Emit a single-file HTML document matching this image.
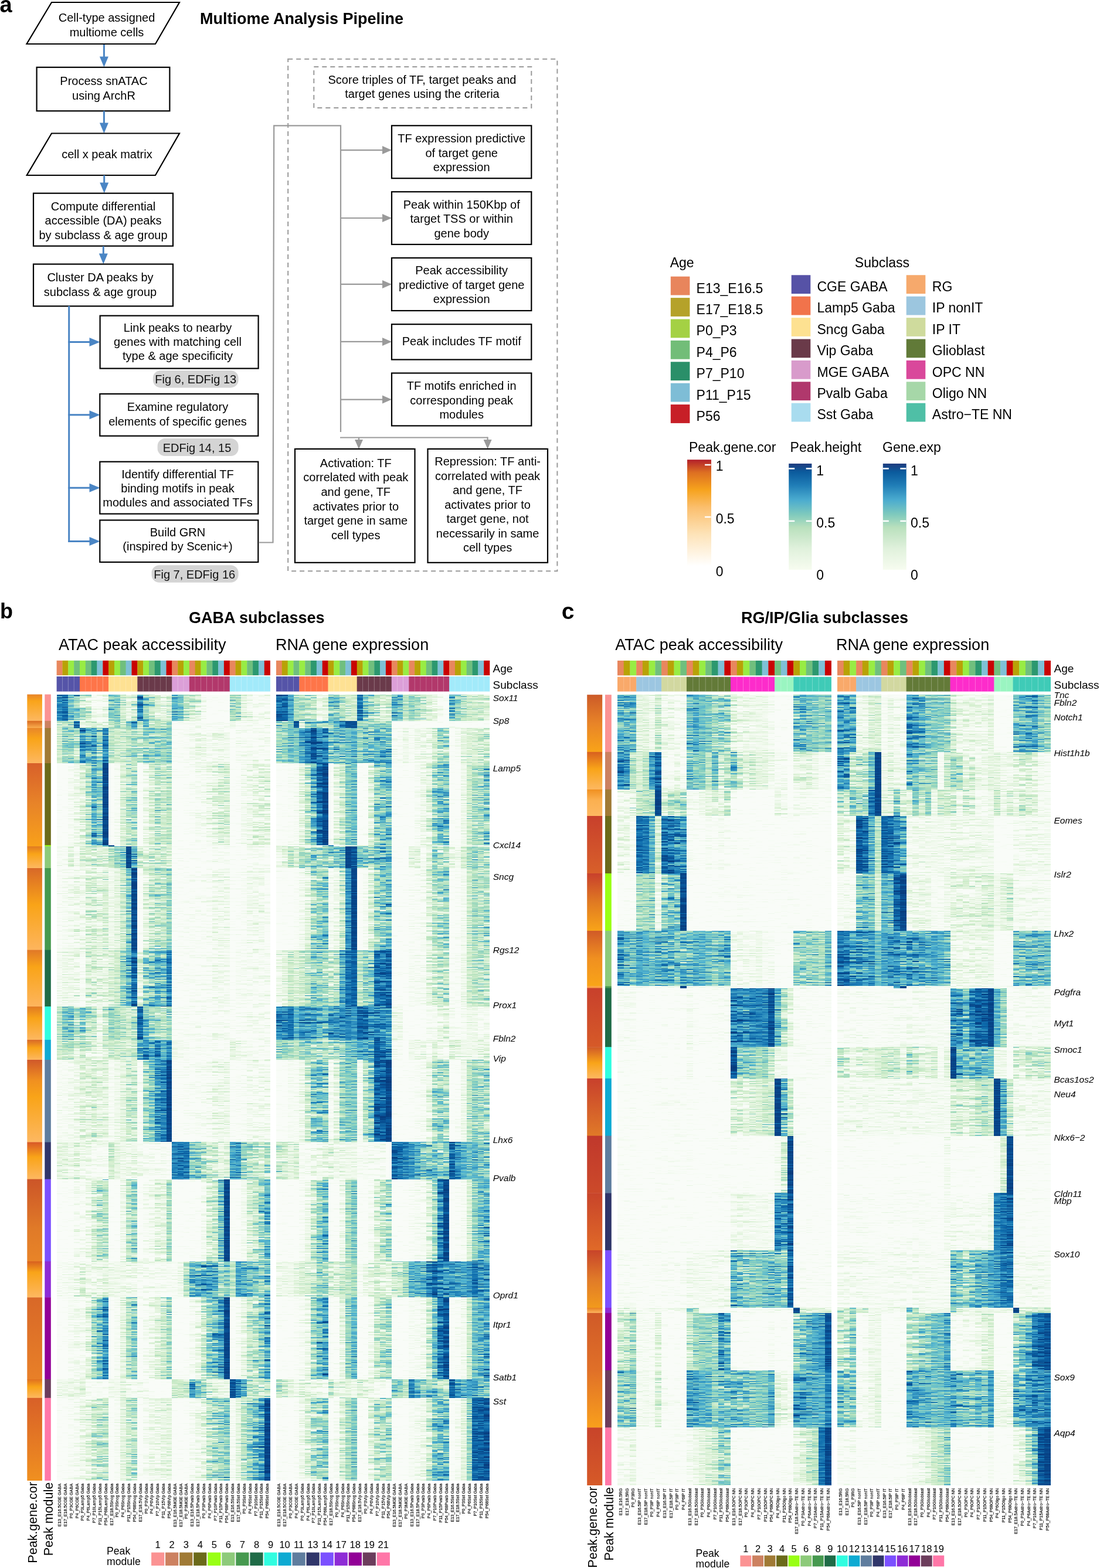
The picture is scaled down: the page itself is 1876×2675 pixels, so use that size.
<!DOCTYPE html>
<html><head><meta charset="utf-8"><title>Multiome Analysis Pipeline</title><style>html,body{margin:0;padding:0;background:#fff}svg{display:block}</style></head><body>
<svg xmlns="http://www.w3.org/2000/svg" width="1876" height="2675" viewBox="0 0 1876 2675" font-family="'Liberation Sans', Arial, Helvetica, sans-serif">
<rect width="1876" height="2675" fill="#fff"/>
<text x="-0.5" y="21.3" font-size="38" font-weight="bold" fill="#000">a</text>
<text x="341" y="40.5" font-size="27" font-weight="bold" fill="#000">Multiome Analysis Pipeline</text>
<polygon points="88,4 306,4 265,75 45.5,75" fill="none" stroke="#000" stroke-width="2.2"/>
<text x="182" y="37" font-size="20" text-anchor="middle" fill="#000">Cell-type assigned</text>
<text x="182" y="61.6" font-size="20" text-anchor="middle" fill="#000">multiome cells</text>
<line x1="177.4" y1="76" x2="177.4" y2="98.5" stroke="#4a85c4" stroke-width="3"/>
<polygon points="169.9,96.5 184.9,96.5 177.4,114.5" fill="#4a85c4"/>
<rect x="62.6" y="114.8" width="226.8" height="74.5" fill="none" stroke="#000" stroke-width="2.2"/>
<text x="177" y="145" font-size="20" text-anchor="middle" fill="#000">Process snATAC</text>
<text x="177" y="170" font-size="20" text-anchor="middle" fill="#000">using ArchR</text>
<line x1="177.4" y1="189.3" x2="177.4" y2="211.5" stroke="#4a85c4" stroke-width="3"/>
<polygon points="169.9,209.5 184.9,209.5 177.4,227.5" fill="#4a85c4"/>
<polygon points="88,227.5 306,227.5 265,299 45.7,299" fill="none" stroke="#000" stroke-width="2.2"/>
<text x="182.4" y="270" font-size="20" text-anchor="middle" fill="#000">cell x peak matrix</text>
<line x1="177.7" y1="299" x2="177.7" y2="313.5" stroke="#4a85c4" stroke-width="3"/>
<polygon points="170.2,311.5 185.2,311.5 177.7,329.5" fill="#4a85c4"/>
<rect x="57.0" y="329.7" width="238.0" height="90.0" fill="none" stroke="#000" stroke-width="2.2"/>
<text x="176" y="358.6" font-size="20" text-anchor="middle" fill="#000">Compute differential</text>
<text x="176" y="383" font-size="20" text-anchor="middle" fill="#000">accessible (DA) peaks</text>
<text x="176" y="407.5" font-size="20" text-anchor="middle" fill="#000">by subclass &amp; age group</text>
<line x1="176.3" y1="420" x2="176.3" y2="434.5" stroke="#4a85c4" stroke-width="3"/>
<polygon points="168.8,432.5 183.8,432.5 176.3,450.5" fill="#4a85c4"/>
<rect x="57.0" y="450.6" width="238.0" height="71.7" fill="none" stroke="#000" stroke-width="2.2"/>
<text x="171" y="480" font-size="20" text-anchor="middle" fill="#000">Cluster DA peaks by</text>
<text x="171" y="504.5" font-size="20" text-anchor="middle" fill="#000">subclass &amp; age group</text>
<line x1="117.7" y1="522" x2="117.7" y2="924.9" stroke="#4a85c4" stroke-width="3"/>
<line x1="116.2" y1="583.4" x2="154.5" y2="583.4" stroke="#4a85c4" stroke-width="3"/>
<polygon points="152.5,575.9 152.5,590.9 170.5,583.4" fill="#4a85c4"/>
<line x1="116.2" y1="707.7" x2="154.5" y2="707.7" stroke="#4a85c4" stroke-width="3"/>
<polygon points="152.5,700.2 152.5,715.2 170.5,707.7" fill="#4a85c4"/>
<line x1="116.2" y1="832.3" x2="154.5" y2="832.3" stroke="#4a85c4" stroke-width="3"/>
<polygon points="152.5,824.8 152.5,839.8 170.5,832.3" fill="#4a85c4"/>
<line x1="116.2" y1="923.4" x2="154.5" y2="923.4" stroke="#4a85c4" stroke-width="3"/>
<polygon points="152.5,915.9 152.5,930.9 170.5,923.4" fill="#4a85c4"/>
<rect x="170.6" y="538.6" width="270.0" height="90.0" fill="none" stroke="#000" stroke-width="2.2"/>
<text x="303" y="565.7" font-size="20" text-anchor="middle" fill="#000">Link peaks to nearby</text>
<text x="303" y="589.8" font-size="20" text-anchor="middle" fill="#000">genes with matching cell</text>
<text x="303" y="613.9" font-size="20" text-anchor="middle" fill="#000">type &amp; age specificity</text>
<rect x="170.3" y="672.0" width="270.0" height="71.7" fill="none" stroke="#000" stroke-width="2.2"/>
<text x="303" y="701.4" font-size="20" text-anchor="middle" fill="#000">Examine regulatory</text>
<text x="303" y="725.7" font-size="20" text-anchor="middle" fill="#000">elements of specific genes</text>
<rect x="170.3" y="787.7" width="270.0" height="88.9" fill="none" stroke="#000" stroke-width="2.2"/>
<text x="303" y="815.7" font-size="20" text-anchor="middle" fill="#000">Identify differential TF</text>
<text x="303" y="840" font-size="20" text-anchor="middle" fill="#000">binding motifs in peak</text>
<text x="303" y="864.3" font-size="20" text-anchor="middle" fill="#000">modules and associated TFs</text>
<rect x="170.3" y="887.4" width="270.0" height="71.6" fill="none" stroke="#000" stroke-width="2.2"/>
<text x="303" y="915" font-size="20" text-anchor="middle" fill="#000">Build GRN</text>
<text x="303" y="939.4" font-size="20" text-anchor="middle" fill="#000">(inspired by Scenic+)</text>
<rect x="260.9" y="632" width="145.7" height="29.4" rx="13" fill="#d4d4d4"/>
<text x="333.7" y="654" font-size="20" text-anchor="middle" fill="#111">Fig 6, EDFig 13</text>
<rect x="268.6" y="748" width="138.0" height="30.0" rx="13" fill="#d4d4d4"/>
<text x="336" y="770.6" font-size="20" text-anchor="middle" fill="#111">EDFig 14, 15</text>
<rect x="258.6" y="964.3" width="148.0" height="29.4" rx="13" fill="#d4d4d4"/>
<text x="331.7" y="986.6" font-size="20" text-anchor="middle" fill="#111">Fig 7, EDFig 16</text>
<polyline points="441.3,925.5 465.5,925.5 467.2,214.3 581,214.3 581,737" fill="none" stroke="#9a9a9a" stroke-width="2.2"/>
<line x1="581" y1="256.1" x2="654" y2="256.1" stroke="#9a9a9a" stroke-width="2.2"/>
<polygon points="652,249.10000000000002 652,263.1 668,256.1" fill="#9a9a9a"/>
<line x1="581" y1="372" x2="654" y2="372" stroke="#9a9a9a" stroke-width="2.2"/>
<polygon points="652,365 652,379 668,372" fill="#9a9a9a"/>
<line x1="581" y1="484.9" x2="654" y2="484.9" stroke="#9a9a9a" stroke-width="2.2"/>
<polygon points="652,477.9 652,491.9 668,484.9" fill="#9a9a9a"/>
<line x1="581" y1="582.9" x2="654" y2="582.9" stroke="#9a9a9a" stroke-width="2.2"/>
<polygon points="652,575.9 652,589.9 668,582.9" fill="#9a9a9a"/>
<line x1="581" y1="681.6" x2="654" y2="681.6" stroke="#9a9a9a" stroke-width="2.2"/>
<polygon points="652,674.6 652,688.6 668,681.6" fill="#9a9a9a"/>
<polyline points="580,746.5 831.6,746.5" fill="none" stroke="#9a9a9a" stroke-width="2.2"/>
<line x1="612" y1="746.5" x2="612" y2="752" stroke="#9a9a9a" stroke-width="2.2"/>
<polygon points="605,750 619,750 612,766" fill="#9a9a9a"/>
<line x1="831.6" y1="745.5" x2="831.6" y2="752" stroke="#9a9a9a" stroke-width="2.2"/>
<polygon points="824.6,750 838.6,750 831.6,766" fill="#9a9a9a"/>
<rect x="491.2" y="100.7" width="459.2" height="873.5" fill="none" stroke="#9a9a9a" stroke-width="2" stroke-dasharray="8,6"/>
<rect x="535.3" y="114" width="371" height="70" fill="none" stroke="#9a9a9a" stroke-width="2" stroke-dasharray="8,6"/>
<text x="720" y="142.5" font-size="20" text-anchor="middle" fill="#000">Score triples of TF, target peaks and</text>
<text x="720" y="167" font-size="20" text-anchor="middle" fill="#000">target genes using the criteria</text>
<rect x="668.0" y="214.3" width="238.3" height="89.9" fill="none" stroke="#000" stroke-width="2.2"/>
<text x="787.2" y="243" font-size="20" text-anchor="middle" fill="#000">TF expression predictive</text>
<text x="787.2" y="267.6" font-size="20" text-anchor="middle" fill="#000">of target gene</text>
<text x="787.2" y="291.5" font-size="20" text-anchor="middle" fill="#000">expression</text>
<rect x="668.0" y="327.2" width="238.3" height="89.8" fill="none" stroke="#000" stroke-width="2.2"/>
<text x="787.2" y="355.8" font-size="20" text-anchor="middle" fill="#000">Peak within 150Kbp of</text>
<text x="787.2" y="380.2" font-size="20" text-anchor="middle" fill="#000">target TSS or within</text>
<text x="787.2" y="404.5" font-size="20" text-anchor="middle" fill="#000">gene body</text>
<rect x="668.0" y="440.0" width="238.3" height="90.0" fill="none" stroke="#000" stroke-width="2.2"/>
<text x="787.2" y="468.4" font-size="20" text-anchor="middle" fill="#000">Peak accessibility</text>
<text x="787.2" y="492.5" font-size="20" text-anchor="middle" fill="#000">predictive of target gene</text>
<text x="787.2" y="516.5" font-size="20" text-anchor="middle" fill="#000">expression</text>
<rect x="668.0" y="553.2" width="238.3" height="60.3" fill="none" stroke="#000" stroke-width="2.2"/>
<text x="787.2" y="589" font-size="20" text-anchor="middle" fill="#000">Peak includes TF motif</text>
<rect x="668.0" y="636.5" width="238.3" height="89.9" fill="none" stroke="#000" stroke-width="2.2"/>
<text x="787.2" y="664.8" font-size="20" text-anchor="middle" fill="#000">TF motifs enriched in</text>
<text x="787.2" y="689.5" font-size="20" text-anchor="middle" fill="#000">corresponding peak</text>
<text x="787.2" y="713.5" font-size="20" text-anchor="middle" fill="#000">modules</text>
<rect x="503.0" y="765.9" width="204.5" height="193.9" fill="none" stroke="#000" stroke-width="2.2"/>
<text x="606.8" y="796.5" font-size="20" text-anchor="middle" fill="#000">Activation: TF</text>
<text x="606.8" y="821.2" font-size="20" text-anchor="middle" fill="#000">correlated with peak</text>
<text x="606.8" y="845.9" font-size="20" text-anchor="middle" fill="#000">and gene, TF</text>
<text x="606.8" y="870.6" font-size="20" text-anchor="middle" fill="#000">activates prior to</text>
<text x="606.8" y="895.2" font-size="20" text-anchor="middle" fill="#000">target gene in same</text>
<text x="606.8" y="919.5" font-size="20" text-anchor="middle" fill="#000">cell types</text>
<rect x="729.5" y="765.9" width="204.5" height="193.9" fill="none" stroke="#000" stroke-width="2.2"/>
<text x="831.6" y="794" font-size="20" text-anchor="middle" fill="#000">Repression: TF anti-</text>
<text x="831.6" y="818.5" font-size="20" text-anchor="middle" fill="#000">correlated with peak</text>
<text x="831.6" y="843" font-size="20" text-anchor="middle" fill="#000">and gene, TF</text>
<text x="831.6" y="867.5" font-size="20" text-anchor="middle" fill="#000">activates prior to</text>
<text x="831.6" y="892" font-size="20" text-anchor="middle" fill="#000">target gene, not</text>
<text x="831.6" y="916.5" font-size="20" text-anchor="middle" fill="#000">necessarily in same</text>
<text x="831.6" y="941" font-size="20" text-anchor="middle" fill="#000">cell types</text>
<text x="1142.7" y="455.8" font-size="23" fill="#000">Age</text>
<text x="1457.8" y="455.8" font-size="23" fill="#000">Subclass</text>
<rect x="1143.8" y="471.7" width="32.6" height="31.8" fill="#e8855c"/>
<text x="1187.6" y="499.5" font-size="23" fill="#000">E13_E16.5</text>
<rect x="1143.8" y="508.1" width="32.6" height="31.8" fill="#b5a22a"/>
<text x="1187.6" y="535.9" font-size="23" fill="#000">E17_E18.5</text>
<rect x="1143.8" y="544.5" width="32.6" height="31.8" fill="#a4d144"/>
<text x="1187.6" y="572.3" font-size="23" fill="#000">P0_P3</text>
<rect x="1143.8" y="580.9" width="32.6" height="31.8" fill="#72bd78"/>
<text x="1187.6" y="608.7" font-size="23" fill="#000">P4_P6</text>
<rect x="1143.8" y="617.3" width="32.6" height="31.8" fill="#2a8f69"/>
<text x="1187.6" y="645.1" font-size="23" fill="#000">P7_P10</text>
<rect x="1143.8" y="653.7" width="32.6" height="31.8" fill="#7ebdd6"/>
<text x="1187.6" y="681.5" font-size="23" fill="#000">P11_P15</text>
<rect x="1143.8" y="690.1" width="32.6" height="31.8" fill="#c71f27"/>
<text x="1187.6" y="717.9" font-size="23" fill="#000">P56</text>
<rect x="1349.7" y="469.3" width="32.6" height="31.8" fill="#5652a6"/>
<text x="1393.5" y="497.0" font-size="23" fill="#000">CGE GABA</text>
<rect x="1349.7" y="505.7" width="32.6" height="31.8" fill="#f1734b"/>
<text x="1393.5" y="533.4" font-size="23" fill="#000">Lamp5 Gaba</text>
<rect x="1349.7" y="542.1" width="32.6" height="31.8" fill="#fde191"/>
<text x="1393.5" y="569.8" font-size="23" fill="#000">Sncg Gaba</text>
<rect x="1349.7" y="578.5" width="32.6" height="31.8" fill="#6a3a49"/>
<text x="1393.5" y="606.2" font-size="23" fill="#000">Vip Gaba</text>
<rect x="1349.7" y="614.9" width="32.6" height="31.8" fill="#d89bcb"/>
<text x="1393.5" y="642.6" font-size="23" fill="#000">MGE GABA</text>
<rect x="1349.7" y="651.3" width="32.6" height="31.8" fill="#b0386c"/>
<text x="1393.5" y="679.0" font-size="23" fill="#000">Pvalb Gaba</text>
<rect x="1349.7" y="687.7" width="32.6" height="31.8" fill="#a9dcef"/>
<text x="1393.5" y="715.4" font-size="23" fill="#000">Sst Gaba</text>
<rect x="1545.7" y="469.3" width="32.6" height="31.8" fill="#f6a96c"/>
<text x="1589.8" y="497.0" font-size="23" fill="#000">RG</text>
<rect x="1545.7" y="505.7" width="32.6" height="31.8" fill="#9cc6df"/>
<text x="1589.8" y="533.4" font-size="23" fill="#000">IP nonIT</text>
<rect x="1545.7" y="542.1" width="32.6" height="31.8" fill="#cfdb9d"/>
<text x="1589.8" y="569.8" font-size="23" fill="#000">IP IT</text>
<rect x="1545.7" y="578.5" width="32.6" height="31.8" fill="#617a38"/>
<text x="1589.8" y="606.2" font-size="23" fill="#000">Glioblast</text>
<rect x="1545.7" y="614.9" width="32.6" height="31.8" fill="#d9489b"/>
<text x="1589.8" y="642.6" font-size="23" fill="#000">OPC NN</text>
<rect x="1545.7" y="651.3" width="32.6" height="31.8" fill="#a6d7a8"/>
<text x="1589.8" y="679.0" font-size="23" fill="#000">Oligo NN</text>
<rect x="1545.7" y="687.7" width="32.6" height="31.8" fill="#4fbfa6"/>
<text x="1589.8" y="715.4" font-size="23" fill="#000">Astro−TE NN</text>
<defs>
<linearGradient id="gcor" x1="0" y1="1" x2="0" y2="0"><stop offset="0" stop-color="#ffffff"/><stop offset="0.3" stop-color="#fde3b8"/><stop offset="0.55" stop-color="#fbbf6e"/><stop offset="0.72" stop-color="#f6a21c"/><stop offset="0.88" stop-color="#dd6f22"/><stop offset="1" stop-color="#b21f2a"/></linearGradient>
<linearGradient id="gblu" x1="0" y1="1" x2="0" y2="0"><stop offset="0" stop-color="#f7fcf0"/><stop offset="0.2" stop-color="#e0f1dc"/><stop offset="0.4" stop-color="#b9e0bd"/><stop offset="0.52" stop-color="#7fcabd"/><stop offset="0.66" stop-color="#4aabcf"/><stop offset="0.8" stop-color="#1f7cb6"/><stop offset="0.92" stop-color="#0b5b9d"/><stop offset="1" stop-color="#1e3b7e"/></linearGradient>
</defs>
<text x="1175" y="771" font-size="23" fill="#000">Peak.gene.cor</text>
<text x="1347.6" y="771" font-size="23" fill="#000">Peak.height</text>
<text x="1505" y="771" font-size="23" fill="#000">Gene.exp</text>
<rect x="1172" y="784.2" width="41" height="181.6" fill="url(#gcor)"/>
<rect x="1345.2" y="790.9" width="39.2" height="181.1" fill="url(#gblu)"/>
<rect x="1505.8" y="790.9" width="39.9" height="181.1" fill="url(#gblu)"/>
<line x1="1202" y1="793" x2="1212.5" y2="793" stroke="#fff" stroke-width="2.5"/>
<line x1="1202" y1="882" x2="1212.5" y2="882" stroke="#fff" stroke-width="2.5"/>
<line x1="1345.2" y1="799.4" x2="1355.2" y2="799.4" stroke="#fff" stroke-width="2.5"/>
<line x1="1374.7" y1="799.4" x2="1384.7" y2="799.4" stroke="#fff" stroke-width="2.5"/>
<line x1="1345.2" y1="888.9" x2="1355.2" y2="888.9" stroke="#fff" stroke-width="2.5"/>
<line x1="1374.7" y1="888.9" x2="1384.7" y2="888.9" stroke="#fff" stroke-width="2.5"/>
<line x1="1505.8" y1="799.4" x2="1515.8" y2="799.4" stroke="#fff" stroke-width="2.5"/>
<line x1="1535.3" y1="799.4" x2="1545.3" y2="799.4" stroke="#fff" stroke-width="2.5"/>
<line x1="1505.8" y1="888.9" x2="1515.8" y2="888.9" stroke="#fff" stroke-width="2.5"/>
<line x1="1535.3" y1="888.9" x2="1545.3" y2="888.9" stroke="#fff" stroke-width="2.5"/>
<text x="1220.7" y="803" font-size="23" fill="#000">1</text>
<text x="1220.7" y="892.8" font-size="23" fill="#000">0.5</text>
<text x="1220.7" y="982.6" font-size="23" fill="#000">0</text>
<text x="1392.3" y="810.6" font-size="23" fill="#000">1</text>
<text x="1392.3" y="899.5" font-size="23" fill="#000">0.5</text>
<text x="1392.3" y="989.3" font-size="23" fill="#000">0</text>
<text x="1553" y="810.6" font-size="23" fill="#000">1</text>
<text x="1553" y="899.5" font-size="23" fill="#000">0.5</text>
<text x="1553" y="989.3" font-size="23" fill="#000">0</text>
<defs>
<filter id="n0" x="0" y="0" width="1" height="1" color-interpolation-filters="sRGB"><feTurbulence type="fractalNoise" baseFrequency="0.01 0.5" numOctaves="2" seed="3" result="t0"/><feTurbulence type="fractalNoise" baseFrequency="0.01 0.5" numOctaves="2" seed="20" result="t1"/><feComposite in="t0" in2="t1" operator="arithmetic" k2="0.45" k3="0.55" result="t2"/><feColorMatrix in="t2" type="matrix" values="1 0 0 0 0  1 0 0 0 0  1 0 0 0 0  0 0 0 0 1" result="t"/><feComponentTransfer in="SourceGraphic" result="inv"><feFuncR type="linear" slope="-1" intercept="1"/><feFuncG type="linear" slope="-1" intercept="1"/><feFuncB type="linear" slope="-1" intercept="1"/></feComponentTransfer><feComposite in="SourceGraphic" in2="inv" operator="arithmetic" k1="1" result="w"/><feComposite in="w" in2="t" operator="arithmetic" k1="4.5" k2="-2.25" k4="0.5" result="d"/><feComposite in="SourceGraphic" in2="d" operator="arithmetic" k2="1" k3="1" k4="-0.5" result="f1"/><feComposite in="f1" in2="t" operator="arithmetic" k2="1" k3="0.45" k4="-0.27" result="m"/><feComponentTransfer in="m"><feFuncR type="table" tableValues="0.980 0.918 0.824 0.690 0.502 0.322 0.180 0.047 0.031 0.031"/><feFuncG type="table" tableValues="0.992 0.969 0.933 0.878 0.804 0.706 0.557 0.416 0.282 0.235"/><feFuncB type="table" tableValues="0.973 0.902 0.800 0.737 0.761 0.820 0.749 0.675 0.549 0.490"/></feComponentTransfer></filter>
<filter id="n1" x="0" y="0" width="1" height="1" color-interpolation-filters="sRGB"><feTurbulence type="fractalNoise" baseFrequency="0.01 0.5" numOctaves="2" seed="3" result="t0"/><feTurbulence type="fractalNoise" baseFrequency="0.01 0.5" numOctaves="2" seed="27" result="t1"/><feComposite in="t0" in2="t1" operator="arithmetic" k2="0.45" k3="0.55" result="t2"/><feColorMatrix in="t2" type="matrix" values="1 0 0 0 0  1 0 0 0 0  1 0 0 0 0  0 0 0 0 1" result="t"/><feComponentTransfer in="SourceGraphic" result="inv"><feFuncR type="linear" slope="-1" intercept="1"/><feFuncG type="linear" slope="-1" intercept="1"/><feFuncB type="linear" slope="-1" intercept="1"/></feComponentTransfer><feComposite in="SourceGraphic" in2="inv" operator="arithmetic" k1="1" result="w"/><feComposite in="w" in2="t" operator="arithmetic" k1="4.5" k2="-2.25" k4="0.5" result="d"/><feComposite in="SourceGraphic" in2="d" operator="arithmetic" k2="1" k3="1" k4="-0.5" result="f1"/><feComposite in="f1" in2="t" operator="arithmetic" k2="1" k3="0.45" k4="-0.27" result="m"/><feComponentTransfer in="m"><feFuncR type="table" tableValues="0.980 0.918 0.824 0.690 0.502 0.322 0.180 0.047 0.031 0.031"/><feFuncG type="table" tableValues="0.992 0.969 0.933 0.878 0.804 0.706 0.557 0.416 0.282 0.235"/><feFuncB type="table" tableValues="0.973 0.902 0.800 0.737 0.761 0.820 0.749 0.675 0.549 0.490"/></feComponentTransfer></filter>
<filter id="n2" x="0" y="0" width="1" height="1" color-interpolation-filters="sRGB"><feTurbulence type="fractalNoise" baseFrequency="0.01 0.5" numOctaves="2" seed="3" result="t0"/><feTurbulence type="fractalNoise" baseFrequency="0.01 0.5" numOctaves="2" seed="34" result="t1"/><feComposite in="t0" in2="t1" operator="arithmetic" k2="0.45" k3="0.55" result="t2"/><feColorMatrix in="t2" type="matrix" values="1 0 0 0 0  1 0 0 0 0  1 0 0 0 0  0 0 0 0 1" result="t"/><feComponentTransfer in="SourceGraphic" result="inv"><feFuncR type="linear" slope="-1" intercept="1"/><feFuncG type="linear" slope="-1" intercept="1"/><feFuncB type="linear" slope="-1" intercept="1"/></feComponentTransfer><feComposite in="SourceGraphic" in2="inv" operator="arithmetic" k1="1" result="w"/><feComposite in="w" in2="t" operator="arithmetic" k1="4.5" k2="-2.25" k4="0.5" result="d"/><feComposite in="SourceGraphic" in2="d" operator="arithmetic" k2="1" k3="1" k4="-0.5" result="f1"/><feComposite in="f1" in2="t" operator="arithmetic" k2="1" k3="0.45" k4="-0.27" result="m"/><feComponentTransfer in="m"><feFuncR type="table" tableValues="0.980 0.918 0.824 0.690 0.502 0.322 0.180 0.047 0.031 0.031"/><feFuncG type="table" tableValues="0.992 0.969 0.933 0.878 0.804 0.706 0.557 0.416 0.282 0.235"/><feFuncB type="table" tableValues="0.973 0.902 0.800 0.737 0.761 0.820 0.749 0.675 0.549 0.490"/></feComponentTransfer></filter>
<filter id="n3" x="0" y="0" width="1" height="1" color-interpolation-filters="sRGB"><feTurbulence type="fractalNoise" baseFrequency="0.01 0.5" numOctaves="2" seed="3" result="t0"/><feTurbulence type="fractalNoise" baseFrequency="0.01 0.5" numOctaves="2" seed="41" result="t1"/><feComposite in="t0" in2="t1" operator="arithmetic" k2="0.45" k3="0.55" result="t2"/><feColorMatrix in="t2" type="matrix" values="1 0 0 0 0  1 0 0 0 0  1 0 0 0 0  0 0 0 0 1" result="t"/><feComponentTransfer in="SourceGraphic" result="inv"><feFuncR type="linear" slope="-1" intercept="1"/><feFuncG type="linear" slope="-1" intercept="1"/><feFuncB type="linear" slope="-1" intercept="1"/></feComponentTransfer><feComposite in="SourceGraphic" in2="inv" operator="arithmetic" k1="1" result="w"/><feComposite in="w" in2="t" operator="arithmetic" k1="4.5" k2="-2.25" k4="0.5" result="d"/><feComposite in="SourceGraphic" in2="d" operator="arithmetic" k2="1" k3="1" k4="-0.5" result="f1"/><feComposite in="f1" in2="t" operator="arithmetic" k2="1" k3="0.45" k4="-0.27" result="m"/><feComponentTransfer in="m"><feFuncR type="table" tableValues="0.980 0.918 0.824 0.690 0.502 0.322 0.180 0.047 0.031 0.031"/><feFuncG type="table" tableValues="0.992 0.969 0.933 0.878 0.804 0.706 0.557 0.416 0.282 0.235"/><feFuncB type="table" tableValues="0.973 0.902 0.800 0.737 0.761 0.820 0.749 0.675 0.549 0.490"/></feComponentTransfer></filter>
<filter id="n4" x="0" y="0" width="1" height="1" color-interpolation-filters="sRGB"><feTurbulence type="fractalNoise" baseFrequency="0.01 0.5" numOctaves="2" seed="3" result="t0"/><feTurbulence type="fractalNoise" baseFrequency="0.01 0.5" numOctaves="2" seed="48" result="t1"/><feComposite in="t0" in2="t1" operator="arithmetic" k2="0.45" k3="0.55" result="t2"/><feColorMatrix in="t2" type="matrix" values="1 0 0 0 0  1 0 0 0 0  1 0 0 0 0  0 0 0 0 1" result="t"/><feComponentTransfer in="SourceGraphic" result="inv"><feFuncR type="linear" slope="-1" intercept="1"/><feFuncG type="linear" slope="-1" intercept="1"/><feFuncB type="linear" slope="-1" intercept="1"/></feComponentTransfer><feComposite in="SourceGraphic" in2="inv" operator="arithmetic" k1="1" result="w"/><feComposite in="w" in2="t" operator="arithmetic" k1="4.5" k2="-2.25" k4="0.5" result="d"/><feComposite in="SourceGraphic" in2="d" operator="arithmetic" k2="1" k3="1" k4="-0.5" result="f1"/><feComposite in="f1" in2="t" operator="arithmetic" k2="1" k3="0.45" k4="-0.27" result="m"/><feComponentTransfer in="m"><feFuncR type="table" tableValues="0.980 0.918 0.824 0.690 0.502 0.322 0.180 0.047 0.031 0.031"/><feFuncG type="table" tableValues="0.992 0.969 0.933 0.878 0.804 0.706 0.557 0.416 0.282 0.235"/><feFuncB type="table" tableValues="0.973 0.902 0.800 0.737 0.761 0.820 0.749 0.675 0.549 0.490"/></feComponentTransfer></filter>
</defs>
<text x="0" y="1055" font-size="36" font-weight="bold" fill="#000">b</text>
<text x="322" y="1063.4" font-size="27" font-weight="bold" fill="#000">GABA subclasses</text>
<text x="100" y="1108.8" font-size="27" fill="#000">ATAC peak accessibility</text>
<text x="470" y="1108.8" font-size="27" fill="#000">RNA gene expression</text>
<rect x="96.60" y="1126.9" width="10.14" height="25.2" fill="#e8875e"/>
<rect x="96.60" y="1154" width="10.14" height="25.7" fill="#5554a8"/>
<rect x="106.44" y="1126.9" width="10.14" height="25.2" fill="#b8a206"/>
<rect x="106.44" y="1154" width="10.14" height="25.7" fill="#5554a8"/>
<rect x="116.28" y="1126.9" width="10.14" height="25.2" fill="#98ec44"/>
<rect x="116.28" y="1154" width="10.14" height="25.7" fill="#5554a8"/>
<rect x="126.11" y="1126.9" width="10.14" height="25.2" fill="#70bf7e"/>
<rect x="126.11" y="1154" width="10.14" height="25.7" fill="#5554a8"/>
<rect x="135.95" y="1126.9" width="10.14" height="25.2" fill="#98ec44"/>
<rect x="135.95" y="1154" width="10.14" height="25.7" fill="#fe7549"/>
<rect x="145.79" y="1126.9" width="10.14" height="25.2" fill="#70bf7e"/>
<rect x="145.79" y="1154" width="10.14" height="25.7" fill="#fe7549"/>
<rect x="155.63" y="1126.9" width="10.14" height="25.2" fill="#2c986f"/>
<rect x="155.63" y="1154" width="10.14" height="25.7" fill="#fe7549"/>
<rect x="165.46" y="1126.9" width="10.14" height="25.2" fill="#7fc0d6"/>
<rect x="165.46" y="1154" width="10.14" height="25.7" fill="#fe7549"/>
<rect x="175.30" y="1126.9" width="10.14" height="25.2" fill="#c90303"/>
<rect x="175.30" y="1154" width="10.14" height="25.7" fill="#fe7549"/>
<rect x="185.14" y="1126.9" width="10.14" height="25.2" fill="#b8a206"/>
<rect x="185.14" y="1154" width="10.14" height="25.7" fill="#fee193"/>
<rect x="194.98" y="1126.9" width="10.14" height="25.2" fill="#98ec44"/>
<rect x="194.98" y="1154" width="10.14" height="25.7" fill="#fee193"/>
<rect x="204.82" y="1126.9" width="10.14" height="25.2" fill="#70bf7e"/>
<rect x="204.82" y="1154" width="10.14" height="25.7" fill="#fee193"/>
<rect x="214.65" y="1126.9" width="10.14" height="25.2" fill="#7fc0d6"/>
<rect x="214.65" y="1154" width="10.14" height="25.7" fill="#fee193"/>
<rect x="224.49" y="1126.9" width="10.14" height="25.2" fill="#c90303"/>
<rect x="224.49" y="1154" width="10.14" height="25.7" fill="#fee193"/>
<rect x="234.33" y="1126.9" width="10.14" height="25.2" fill="#b8a206"/>
<rect x="234.33" y="1154" width="10.14" height="25.7" fill="#6a3a4a"/>
<rect x="244.17" y="1126.9" width="10.14" height="25.2" fill="#98ec44"/>
<rect x="244.17" y="1154" width="10.14" height="25.7" fill="#6a3a4a"/>
<rect x="254.01" y="1126.9" width="10.14" height="25.2" fill="#70bf7e"/>
<rect x="254.01" y="1154" width="10.14" height="25.7" fill="#6a3a4a"/>
<rect x="263.84" y="1126.9" width="10.14" height="25.2" fill="#2c986f"/>
<rect x="263.84" y="1154" width="10.14" height="25.7" fill="#6a3a4a"/>
<rect x="273.68" y="1126.9" width="10.14" height="25.2" fill="#7fc0d6"/>
<rect x="273.68" y="1154" width="10.14" height="25.7" fill="#6a3a4a"/>
<rect x="283.52" y="1126.9" width="10.14" height="25.2" fill="#c90303"/>
<rect x="283.52" y="1154" width="10.14" height="25.7" fill="#6a3a4a"/>
<rect x="293.36" y="1126.9" width="10.14" height="25.2" fill="#e8875e"/>
<rect x="293.36" y="1154" width="10.14" height="25.7" fill="#dc9fd8"/>
<rect x="303.19" y="1126.9" width="10.14" height="25.2" fill="#b8a206"/>
<rect x="303.19" y="1154" width="10.14" height="25.7" fill="#dc9fd8"/>
<rect x="313.03" y="1126.9" width="10.14" height="25.2" fill="#98ec44"/>
<rect x="313.03" y="1154" width="10.14" height="25.7" fill="#dc9fd8"/>
<rect x="322.87" y="1126.9" width="10.14" height="25.2" fill="#e8875e"/>
<rect x="322.87" y="1154" width="10.14" height="25.7" fill="#b2386b"/>
<rect x="332.71" y="1126.9" width="10.14" height="25.2" fill="#b8a206"/>
<rect x="332.71" y="1154" width="10.14" height="25.7" fill="#b2386b"/>
<rect x="342.55" y="1126.9" width="10.14" height="25.2" fill="#98ec44"/>
<rect x="342.55" y="1154" width="10.14" height="25.7" fill="#b2386b"/>
<rect x="352.38" y="1126.9" width="10.14" height="25.2" fill="#70bf7e"/>
<rect x="352.38" y="1154" width="10.14" height="25.7" fill="#b2386b"/>
<rect x="362.22" y="1126.9" width="10.14" height="25.2" fill="#2c986f"/>
<rect x="362.22" y="1154" width="10.14" height="25.7" fill="#b2386b"/>
<rect x="372.06" y="1126.9" width="10.14" height="25.2" fill="#7fc0d6"/>
<rect x="372.06" y="1154" width="10.14" height="25.7" fill="#b2386b"/>
<rect x="381.90" y="1126.9" width="10.14" height="25.2" fill="#c90303"/>
<rect x="381.90" y="1154" width="10.14" height="25.7" fill="#b2386b"/>
<rect x="391.74" y="1126.9" width="10.14" height="25.2" fill="#e8875e"/>
<rect x="391.74" y="1154" width="10.14" height="25.7" fill="#a2eafa"/>
<rect x="401.57" y="1126.9" width="10.14" height="25.2" fill="#b8a206"/>
<rect x="401.57" y="1154" width="10.14" height="25.7" fill="#a2eafa"/>
<rect x="411.41" y="1126.9" width="10.14" height="25.2" fill="#98ec44"/>
<rect x="411.41" y="1154" width="10.14" height="25.7" fill="#a2eafa"/>
<rect x="421.25" y="1126.9" width="10.14" height="25.2" fill="#70bf7e"/>
<rect x="421.25" y="1154" width="10.14" height="25.7" fill="#a2eafa"/>
<rect x="431.09" y="1126.9" width="10.14" height="25.2" fill="#2c986f"/>
<rect x="431.09" y="1154" width="10.14" height="25.7" fill="#a2eafa"/>
<rect x="440.92" y="1126.9" width="10.14" height="25.2" fill="#7fc0d6"/>
<rect x="440.92" y="1154" width="10.14" height="25.7" fill="#a2eafa"/>
<rect x="450.76" y="1126.9" width="10.14" height="25.2" fill="#c90303"/>
<rect x="450.76" y="1154" width="10.14" height="25.7" fill="#a2eafa"/>
<line x1="106.44" y1="1154" x2="106.44" y2="1179.7" stroke="#fff" stroke-opacity="0.25" stroke-width="0.8"/>
<line x1="116.28" y1="1154" x2="116.28" y2="1179.7" stroke="#fff" stroke-opacity="0.25" stroke-width="0.8"/>
<line x1="126.11" y1="1154" x2="126.11" y2="1179.7" stroke="#fff" stroke-opacity="0.25" stroke-width="0.8"/>
<line x1="145.79" y1="1154" x2="145.79" y2="1179.7" stroke="#fff" stroke-opacity="0.25" stroke-width="0.8"/>
<line x1="155.63" y1="1154" x2="155.63" y2="1179.7" stroke="#fff" stroke-opacity="0.25" stroke-width="0.8"/>
<line x1="165.46" y1="1154" x2="165.46" y2="1179.7" stroke="#fff" stroke-opacity="0.25" stroke-width="0.8"/>
<line x1="175.30" y1="1154" x2="175.30" y2="1179.7" stroke="#fff" stroke-opacity="0.25" stroke-width="0.8"/>
<line x1="194.98" y1="1154" x2="194.98" y2="1179.7" stroke="#fff" stroke-opacity="0.25" stroke-width="0.8"/>
<line x1="204.82" y1="1154" x2="204.82" y2="1179.7" stroke="#fff" stroke-opacity="0.25" stroke-width="0.8"/>
<line x1="214.65" y1="1154" x2="214.65" y2="1179.7" stroke="#fff" stroke-opacity="0.25" stroke-width="0.8"/>
<line x1="224.49" y1="1154" x2="224.49" y2="1179.7" stroke="#fff" stroke-opacity="0.25" stroke-width="0.8"/>
<line x1="244.17" y1="1154" x2="244.17" y2="1179.7" stroke="#fff" stroke-opacity="0.25" stroke-width="0.8"/>
<line x1="254.01" y1="1154" x2="254.01" y2="1179.7" stroke="#fff" stroke-opacity="0.25" stroke-width="0.8"/>
<line x1="263.84" y1="1154" x2="263.84" y2="1179.7" stroke="#fff" stroke-opacity="0.25" stroke-width="0.8"/>
<line x1="273.68" y1="1154" x2="273.68" y2="1179.7" stroke="#fff" stroke-opacity="0.25" stroke-width="0.8"/>
<line x1="283.52" y1="1154" x2="283.52" y2="1179.7" stroke="#fff" stroke-opacity="0.25" stroke-width="0.8"/>
<line x1="303.19" y1="1154" x2="303.19" y2="1179.7" stroke="#fff" stroke-opacity="0.25" stroke-width="0.8"/>
<line x1="313.03" y1="1154" x2="313.03" y2="1179.7" stroke="#fff" stroke-opacity="0.25" stroke-width="0.8"/>
<line x1="332.71" y1="1154" x2="332.71" y2="1179.7" stroke="#fff" stroke-opacity="0.25" stroke-width="0.8"/>
<line x1="342.55" y1="1154" x2="342.55" y2="1179.7" stroke="#fff" stroke-opacity="0.25" stroke-width="0.8"/>
<line x1="352.38" y1="1154" x2="352.38" y2="1179.7" stroke="#fff" stroke-opacity="0.25" stroke-width="0.8"/>
<line x1="362.22" y1="1154" x2="362.22" y2="1179.7" stroke="#fff" stroke-opacity="0.25" stroke-width="0.8"/>
<line x1="372.06" y1="1154" x2="372.06" y2="1179.7" stroke="#fff" stroke-opacity="0.25" stroke-width="0.8"/>
<line x1="381.90" y1="1154" x2="381.90" y2="1179.7" stroke="#fff" stroke-opacity="0.25" stroke-width="0.8"/>
<line x1="401.57" y1="1154" x2="401.57" y2="1179.7" stroke="#fff" stroke-opacity="0.25" stroke-width="0.8"/>
<line x1="411.41" y1="1154" x2="411.41" y2="1179.7" stroke="#fff" stroke-opacity="0.25" stroke-width="0.8"/>
<line x1="421.25" y1="1154" x2="421.25" y2="1179.7" stroke="#fff" stroke-opacity="0.25" stroke-width="0.8"/>
<line x1="431.09" y1="1154" x2="431.09" y2="1179.7" stroke="#fff" stroke-opacity="0.25" stroke-width="0.8"/>
<line x1="440.92" y1="1154" x2="440.92" y2="1179.7" stroke="#fff" stroke-opacity="0.25" stroke-width="0.8"/>
<line x1="450.76" y1="1154" x2="450.76" y2="1179.7" stroke="#fff" stroke-opacity="0.25" stroke-width="0.8"/>
<rect x="471.00" y="1126.9" width="10.14" height="25.2" fill="#e8875e"/>
<rect x="471.00" y="1154" width="10.14" height="25.7" fill="#5554a8"/>
<rect x="480.84" y="1126.9" width="10.14" height="25.2" fill="#b8a206"/>
<rect x="480.84" y="1154" width="10.14" height="25.7" fill="#5554a8"/>
<rect x="490.68" y="1126.9" width="10.14" height="25.2" fill="#98ec44"/>
<rect x="490.68" y="1154" width="10.14" height="25.7" fill="#5554a8"/>
<rect x="500.51" y="1126.9" width="10.14" height="25.2" fill="#70bf7e"/>
<rect x="500.51" y="1154" width="10.14" height="25.7" fill="#5554a8"/>
<rect x="510.35" y="1126.9" width="10.14" height="25.2" fill="#98ec44"/>
<rect x="510.35" y="1154" width="10.14" height="25.7" fill="#fe7549"/>
<rect x="520.19" y="1126.9" width="10.14" height="25.2" fill="#70bf7e"/>
<rect x="520.19" y="1154" width="10.14" height="25.7" fill="#fe7549"/>
<rect x="530.03" y="1126.9" width="10.14" height="25.2" fill="#2c986f"/>
<rect x="530.03" y="1154" width="10.14" height="25.7" fill="#fe7549"/>
<rect x="539.86" y="1126.9" width="10.14" height="25.2" fill="#7fc0d6"/>
<rect x="539.86" y="1154" width="10.14" height="25.7" fill="#fe7549"/>
<rect x="549.70" y="1126.9" width="10.14" height="25.2" fill="#c90303"/>
<rect x="549.70" y="1154" width="10.14" height="25.7" fill="#fe7549"/>
<rect x="559.54" y="1126.9" width="10.14" height="25.2" fill="#b8a206"/>
<rect x="559.54" y="1154" width="10.14" height="25.7" fill="#fee193"/>
<rect x="569.38" y="1126.9" width="10.14" height="25.2" fill="#98ec44"/>
<rect x="569.38" y="1154" width="10.14" height="25.7" fill="#fee193"/>
<rect x="579.22" y="1126.9" width="10.14" height="25.2" fill="#70bf7e"/>
<rect x="579.22" y="1154" width="10.14" height="25.7" fill="#fee193"/>
<rect x="589.05" y="1126.9" width="10.14" height="25.2" fill="#7fc0d6"/>
<rect x="589.05" y="1154" width="10.14" height="25.7" fill="#fee193"/>
<rect x="598.89" y="1126.9" width="10.14" height="25.2" fill="#c90303"/>
<rect x="598.89" y="1154" width="10.14" height="25.7" fill="#fee193"/>
<rect x="608.73" y="1126.9" width="10.14" height="25.2" fill="#b8a206"/>
<rect x="608.73" y="1154" width="10.14" height="25.7" fill="#6a3a4a"/>
<rect x="618.57" y="1126.9" width="10.14" height="25.2" fill="#98ec44"/>
<rect x="618.57" y="1154" width="10.14" height="25.7" fill="#6a3a4a"/>
<rect x="628.41" y="1126.9" width="10.14" height="25.2" fill="#70bf7e"/>
<rect x="628.41" y="1154" width="10.14" height="25.7" fill="#6a3a4a"/>
<rect x="638.24" y="1126.9" width="10.14" height="25.2" fill="#2c986f"/>
<rect x="638.24" y="1154" width="10.14" height="25.7" fill="#6a3a4a"/>
<rect x="648.08" y="1126.9" width="10.14" height="25.2" fill="#7fc0d6"/>
<rect x="648.08" y="1154" width="10.14" height="25.7" fill="#6a3a4a"/>
<rect x="657.92" y="1126.9" width="10.14" height="25.2" fill="#c90303"/>
<rect x="657.92" y="1154" width="10.14" height="25.7" fill="#6a3a4a"/>
<rect x="667.76" y="1126.9" width="10.14" height="25.2" fill="#e8875e"/>
<rect x="667.76" y="1154" width="10.14" height="25.7" fill="#dc9fd8"/>
<rect x="677.59" y="1126.9" width="10.14" height="25.2" fill="#b8a206"/>
<rect x="677.59" y="1154" width="10.14" height="25.7" fill="#dc9fd8"/>
<rect x="687.43" y="1126.9" width="10.14" height="25.2" fill="#98ec44"/>
<rect x="687.43" y="1154" width="10.14" height="25.7" fill="#dc9fd8"/>
<rect x="697.27" y="1126.9" width="10.14" height="25.2" fill="#e8875e"/>
<rect x="697.27" y="1154" width="10.14" height="25.7" fill="#b2386b"/>
<rect x="707.11" y="1126.9" width="10.14" height="25.2" fill="#b8a206"/>
<rect x="707.11" y="1154" width="10.14" height="25.7" fill="#b2386b"/>
<rect x="716.95" y="1126.9" width="10.14" height="25.2" fill="#98ec44"/>
<rect x="716.95" y="1154" width="10.14" height="25.7" fill="#b2386b"/>
<rect x="726.78" y="1126.9" width="10.14" height="25.2" fill="#70bf7e"/>
<rect x="726.78" y="1154" width="10.14" height="25.7" fill="#b2386b"/>
<rect x="736.62" y="1126.9" width="10.14" height="25.2" fill="#2c986f"/>
<rect x="736.62" y="1154" width="10.14" height="25.7" fill="#b2386b"/>
<rect x="746.46" y="1126.9" width="10.14" height="25.2" fill="#7fc0d6"/>
<rect x="746.46" y="1154" width="10.14" height="25.7" fill="#b2386b"/>
<rect x="756.30" y="1126.9" width="10.14" height="25.2" fill="#c90303"/>
<rect x="756.30" y="1154" width="10.14" height="25.7" fill="#b2386b"/>
<rect x="766.14" y="1126.9" width="10.14" height="25.2" fill="#e8875e"/>
<rect x="766.14" y="1154" width="10.14" height="25.7" fill="#a2eafa"/>
<rect x="775.97" y="1126.9" width="10.14" height="25.2" fill="#b8a206"/>
<rect x="775.97" y="1154" width="10.14" height="25.7" fill="#a2eafa"/>
<rect x="785.81" y="1126.9" width="10.14" height="25.2" fill="#98ec44"/>
<rect x="785.81" y="1154" width="10.14" height="25.7" fill="#a2eafa"/>
<rect x="795.65" y="1126.9" width="10.14" height="25.2" fill="#70bf7e"/>
<rect x="795.65" y="1154" width="10.14" height="25.7" fill="#a2eafa"/>
<rect x="805.49" y="1126.9" width="10.14" height="25.2" fill="#2c986f"/>
<rect x="805.49" y="1154" width="10.14" height="25.7" fill="#a2eafa"/>
<rect x="815.32" y="1126.9" width="10.14" height="25.2" fill="#7fc0d6"/>
<rect x="815.32" y="1154" width="10.14" height="25.7" fill="#a2eafa"/>
<rect x="825.16" y="1126.9" width="10.14" height="25.2" fill="#c90303"/>
<rect x="825.16" y="1154" width="10.14" height="25.7" fill="#a2eafa"/>
<line x1="480.84" y1="1154" x2="480.84" y2="1179.7" stroke="#fff" stroke-opacity="0.25" stroke-width="0.8"/>
<line x1="490.68" y1="1154" x2="490.68" y2="1179.7" stroke="#fff" stroke-opacity="0.25" stroke-width="0.8"/>
<line x1="500.51" y1="1154" x2="500.51" y2="1179.7" stroke="#fff" stroke-opacity="0.25" stroke-width="0.8"/>
<line x1="520.19" y1="1154" x2="520.19" y2="1179.7" stroke="#fff" stroke-opacity="0.25" stroke-width="0.8"/>
<line x1="530.03" y1="1154" x2="530.03" y2="1179.7" stroke="#fff" stroke-opacity="0.25" stroke-width="0.8"/>
<line x1="539.86" y1="1154" x2="539.86" y2="1179.7" stroke="#fff" stroke-opacity="0.25" stroke-width="0.8"/>
<line x1="549.70" y1="1154" x2="549.70" y2="1179.7" stroke="#fff" stroke-opacity="0.25" stroke-width="0.8"/>
<line x1="569.38" y1="1154" x2="569.38" y2="1179.7" stroke="#fff" stroke-opacity="0.25" stroke-width="0.8"/>
<line x1="579.22" y1="1154" x2="579.22" y2="1179.7" stroke="#fff" stroke-opacity="0.25" stroke-width="0.8"/>
<line x1="589.05" y1="1154" x2="589.05" y2="1179.7" stroke="#fff" stroke-opacity="0.25" stroke-width="0.8"/>
<line x1="598.89" y1="1154" x2="598.89" y2="1179.7" stroke="#fff" stroke-opacity="0.25" stroke-width="0.8"/>
<line x1="618.57" y1="1154" x2="618.57" y2="1179.7" stroke="#fff" stroke-opacity="0.25" stroke-width="0.8"/>
<line x1="628.41" y1="1154" x2="628.41" y2="1179.7" stroke="#fff" stroke-opacity="0.25" stroke-width="0.8"/>
<line x1="638.24" y1="1154" x2="638.24" y2="1179.7" stroke="#fff" stroke-opacity="0.25" stroke-width="0.8"/>
<line x1="648.08" y1="1154" x2="648.08" y2="1179.7" stroke="#fff" stroke-opacity="0.25" stroke-width="0.8"/>
<line x1="657.92" y1="1154" x2="657.92" y2="1179.7" stroke="#fff" stroke-opacity="0.25" stroke-width="0.8"/>
<line x1="677.59" y1="1154" x2="677.59" y2="1179.7" stroke="#fff" stroke-opacity="0.25" stroke-width="0.8"/>
<line x1="687.43" y1="1154" x2="687.43" y2="1179.7" stroke="#fff" stroke-opacity="0.25" stroke-width="0.8"/>
<line x1="707.11" y1="1154" x2="707.11" y2="1179.7" stroke="#fff" stroke-opacity="0.25" stroke-width="0.8"/>
<line x1="716.95" y1="1154" x2="716.95" y2="1179.7" stroke="#fff" stroke-opacity="0.25" stroke-width="0.8"/>
<line x1="726.78" y1="1154" x2="726.78" y2="1179.7" stroke="#fff" stroke-opacity="0.25" stroke-width="0.8"/>
<line x1="736.62" y1="1154" x2="736.62" y2="1179.7" stroke="#fff" stroke-opacity="0.25" stroke-width="0.8"/>
<line x1="746.46" y1="1154" x2="746.46" y2="1179.7" stroke="#fff" stroke-opacity="0.25" stroke-width="0.8"/>
<line x1="756.30" y1="1154" x2="756.30" y2="1179.7" stroke="#fff" stroke-opacity="0.25" stroke-width="0.8"/>
<line x1="775.97" y1="1154" x2="775.97" y2="1179.7" stroke="#fff" stroke-opacity="0.25" stroke-width="0.8"/>
<line x1="785.81" y1="1154" x2="785.81" y2="1179.7" stroke="#fff" stroke-opacity="0.25" stroke-width="0.8"/>
<line x1="795.65" y1="1154" x2="795.65" y2="1179.7" stroke="#fff" stroke-opacity="0.25" stroke-width="0.8"/>
<line x1="805.49" y1="1154" x2="805.49" y2="1179.7" stroke="#fff" stroke-opacity="0.25" stroke-width="0.8"/>
<line x1="815.32" y1="1154" x2="815.32" y2="1179.7" stroke="#fff" stroke-opacity="0.25" stroke-width="0.8"/>
<line x1="825.16" y1="1154" x2="825.16" y2="1179.7" stroke="#fff" stroke-opacity="0.25" stroke-width="0.8"/>
<text x="840.6" y="1147" font-size="19" fill="#000">Age</text>
<text x="840.6" y="1174.5" font-size="19" fill="#000">Subclass</text>
<g filter="url(#n0)">
<rect x="97" y="1185" width="9" height="45" fill="rgb(189,189,189)"/>
<rect x="97" y="1230" width="9" height="12" fill="rgb(69,69,69)"/>
<rect x="97" y="1242" width="9" height="60" fill="rgb(69,69,69)"/>
<rect x="97" y="1302" width="9" height="140" fill="rgb(3,3,3)"/>
<rect x="97" y="1442" width="9" height="2" fill="rgb(16,16,16)"/>
<rect x="97" y="1444" width="9" height="37" fill="rgb(16,16,16)"/>
<rect x="97" y="1481" width="9" height="140" fill="rgb(11,11,11)"/>
<rect x="97" y="1621" width="9" height="96" fill="rgb(21,21,21)"/>
<rect x="97" y="1717" width="9" height="57" fill="rgb(82,82,82)"/>
<rect x="97" y="1774" width="9" height="34" fill="rgb(69,69,69)"/>
<rect x="97" y="1808" width="9" height="140" fill="rgb(16,16,16)"/>
<rect x="97" y="1948" width="9" height="64" fill="rgb(43,43,43)"/>
<rect x="97" y="2012" width="9" height="140" fill="rgb(3,3,3)"/>
<rect x="97" y="2152" width="9" height="61" fill="rgb(16,16,16)"/>
<rect x="97" y="2213" width="9" height="140" fill="rgb(3,3,3)"/>
<rect x="97" y="2353" width="9" height="32" fill="rgb(29,29,29)"/>
<rect x="97" y="2385" width="9" height="141" fill="rgb(3,3,3)"/>
</g>
<g filter="url(#n2)">
<rect x="106" y="1185" width="10" height="45" fill="rgb(202,202,202)"/>
<rect x="106" y="1230" width="10" height="12" fill="rgb(82,82,82)"/>
<rect x="106" y="1242" width="10" height="60" fill="rgb(109,109,109)"/>
<rect x="106" y="1302" width="10" height="140" fill="rgb(3,3,3)"/>
<rect x="106" y="1442" width="10" height="2" fill="rgb(16,16,16)"/>
<rect x="106" y="1444" width="10" height="37" fill="rgb(16,16,16)"/>
<rect x="106" y="1481" width="10" height="140" fill="rgb(16,16,16)"/>
<rect x="106" y="1621" width="10" height="96" fill="rgb(29,29,29)"/>
<rect x="106" y="1717" width="10" height="57" fill="rgb(122,122,122)"/>
<rect x="106" y="1774" width="10" height="34" fill="rgb(82,82,82)"/>
<rect x="106" y="1808" width="10" height="140" fill="rgb(16,16,16)"/>
<rect x="106" y="1948" width="10" height="64" fill="rgb(43,43,43)"/>
<rect x="106" y="2012" width="10" height="140" fill="rgb(3,3,3)"/>
<rect x="106" y="2152" width="10" height="61" fill="rgb(16,16,16)"/>
<rect x="106" y="2213" width="10" height="140" fill="rgb(3,3,3)"/>
<rect x="106" y="2353" width="10" height="32" fill="rgb(29,29,29)"/>
<rect x="106" y="2385" width="10" height="141" fill="rgb(3,3,3)"/>
</g>
<g filter="url(#n4)">
<rect x="116" y="1185" width="10" height="45" fill="rgb(135,135,135)"/>
<rect x="116" y="1230" width="10" height="12" fill="rgb(96,96,96)"/>
<rect x="116" y="1242" width="10" height="60" fill="rgb(109,109,109)"/>
<rect x="116" y="1302" width="10" height="140" fill="rgb(16,16,16)"/>
<rect x="116" y="1442" width="10" height="2" fill="rgb(16,16,16)"/>
<rect x="116" y="1444" width="10" height="37" fill="rgb(43,43,43)"/>
<rect x="116" y="1481" width="10" height="140" fill="rgb(21,21,21)"/>
<rect x="116" y="1621" width="10" height="96" fill="rgb(29,29,29)"/>
<rect x="116" y="1717" width="10" height="57" fill="rgb(135,135,135)"/>
<rect x="116" y="1774" width="10" height="34" fill="rgb(82,82,82)"/>
<rect x="116" y="1808" width="10" height="140" fill="rgb(21,21,21)"/>
<rect x="116" y="1948" width="10" height="64" fill="rgb(29,29,29)"/>
<rect x="116" y="2012" width="10" height="140" fill="rgb(3,3,3)"/>
<rect x="116" y="2152" width="10" height="61" fill="rgb(21,21,21)"/>
<rect x="116" y="2213" width="10" height="140" fill="rgb(16,16,16)"/>
<rect x="116" y="2353" width="10" height="32" fill="rgb(29,29,29)"/>
<rect x="116" y="2385" width="10" height="141" fill="rgb(11,11,11)"/>
</g>
<g filter="url(#n1)">
<rect x="126" y="1185" width="10" height="45" fill="rgb(109,109,109)"/>
<rect x="126" y="1230" width="10" height="12" fill="rgb(215,215,215)"/>
<rect x="126" y="1242" width="10" height="60" fill="rgb(82,82,82)"/>
<rect x="126" y="1302" width="10" height="140" fill="rgb(29,29,29)"/>
<rect x="126" y="1442" width="10" height="2" fill="rgb(16,16,16)"/>
<rect x="126" y="1444" width="10" height="37" fill="rgb(16,16,16)"/>
<rect x="126" y="1481" width="10" height="140" fill="rgb(29,29,29)"/>
<rect x="126" y="1621" width="10" height="96" fill="rgb(29,29,29)"/>
<rect x="126" y="1717" width="10" height="57" fill="rgb(82,82,82)"/>
<rect x="126" y="1774" width="10" height="34" fill="rgb(56,56,56)"/>
<rect x="126" y="1808" width="10" height="140" fill="rgb(29,29,29)"/>
<rect x="126" y="1948" width="10" height="64" fill="rgb(43,43,43)"/>
<rect x="126" y="2012" width="10" height="140" fill="rgb(16,16,16)"/>
<rect x="126" y="2152" width="10" height="61" fill="rgb(29,29,29)"/>
<rect x="126" y="2213" width="10" height="140" fill="rgb(21,21,21)"/>
<rect x="126" y="2353" width="10" height="32" fill="rgb(29,29,29)"/>
<rect x="126" y="2385" width="10" height="141" fill="rgb(16,16,16)"/>
</g>
<g filter="url(#n3)">
<rect x="136" y="1185" width="10" height="45" fill="rgb(82,82,82)"/>
<rect x="136" y="1230" width="10" height="12" fill="rgb(29,29,29)"/>
<rect x="136" y="1242" width="10" height="60" fill="rgb(175,175,175)"/>
<rect x="136" y="1302" width="10" height="140" fill="rgb(43,43,43)"/>
<rect x="136" y="1442" width="10" height="2" fill="rgb(16,16,16)"/>
<rect x="136" y="1444" width="10" height="37" fill="rgb(56,56,56)"/>
<rect x="136" y="1481" width="10" height="140" fill="rgb(29,29,29)"/>
<rect x="136" y="1621" width="10" height="96" fill="rgb(16,16,16)"/>
<rect x="136" y="1717" width="10" height="57" fill="rgb(109,109,109)"/>
<rect x="136" y="1774" width="10" height="34" fill="rgb(69,69,69)"/>
<rect x="136" y="1808" width="10" height="140" fill="rgb(43,43,43)"/>
<rect x="136" y="1948" width="10" height="64" fill="rgb(29,29,29)"/>
<rect x="136" y="2012" width="10" height="140" fill="rgb(16,16,16)"/>
<rect x="136" y="2152" width="10" height="61" fill="rgb(56,56,56)"/>
<rect x="136" y="2213" width="10" height="140" fill="rgb(16,16,16)"/>
<rect x="136" y="2353" width="10" height="32" fill="rgb(43,43,43)"/>
<rect x="136" y="2385" width="10" height="141" fill="rgb(29,29,29)"/>
</g>
<g filter="url(#n0)">
<rect x="146" y="1185" width="10" height="45" fill="rgb(56,56,56)"/>
<rect x="146" y="1230" width="10" height="12" fill="rgb(69,69,69)"/>
<rect x="146" y="1242" width="10" height="60" fill="rgb(149,149,149)"/>
<rect x="146" y="1302" width="10" height="140" fill="rgb(82,82,82)"/>
<rect x="146" y="1442" width="10" height="2" fill="rgb(43,43,43)"/>
<rect x="146" y="1444" width="10" height="37" fill="rgb(56,56,56)"/>
<rect x="146" y="1481" width="10" height="140" fill="rgb(56,56,56)"/>
<rect x="146" y="1621" width="10" height="96" fill="rgb(56,56,56)"/>
<rect x="146" y="1717" width="10" height="57" fill="rgb(82,82,82)"/>
<rect x="146" y="1774" width="10" height="34" fill="rgb(56,56,56)"/>
<rect x="146" y="1808" width="10" height="140" fill="rgb(43,43,43)"/>
<rect x="146" y="1948" width="10" height="64" fill="rgb(29,29,29)"/>
<rect x="146" y="2012" width="10" height="140" fill="rgb(29,29,29)"/>
<rect x="146" y="2152" width="10" height="61" fill="rgb(29,29,29)"/>
<rect x="146" y="2213" width="10" height="140" fill="rgb(43,43,43)"/>
<rect x="146" y="2353" width="10" height="32" fill="rgb(11,11,11)"/>
<rect x="146" y="2385" width="10" height="141" fill="rgb(43,43,43)"/>
</g>
<g filter="url(#n2)">
<rect x="156" y="1185" width="9" height="45" fill="rgb(21,21,21)"/>
<rect x="156" y="1230" width="9" height="12" fill="rgb(56,56,56)"/>
<rect x="156" y="1242" width="9" height="60" fill="rgb(162,162,162)"/>
<rect x="156" y="1302" width="9" height="140" fill="rgb(149,149,149)"/>
<rect x="156" y="1442" width="9" height="2" fill="rgb(69,69,69)"/>
<rect x="156" y="1444" width="9" height="37" fill="rgb(69,69,69)"/>
<rect x="156" y="1481" width="9" height="140" fill="rgb(56,56,56)"/>
<rect x="156" y="1621" width="9" height="96" fill="rgb(56,56,56)"/>
<rect x="156" y="1717" width="9" height="57" fill="rgb(69,69,69)"/>
<rect x="156" y="1774" width="9" height="34" fill="rgb(43,43,43)"/>
<rect x="156" y="1808" width="9" height="140" fill="rgb(56,56,56)"/>
<rect x="156" y="1948" width="9" height="64" fill="rgb(16,16,16)"/>
<rect x="156" y="2012" width="9" height="140" fill="rgb(56,56,56)"/>
<rect x="156" y="2152" width="9" height="61" fill="rgb(29,29,29)"/>
<rect x="156" y="2213" width="9" height="140" fill="rgb(96,96,96)"/>
<rect x="156" y="2353" width="9" height="32" fill="rgb(11,11,11)"/>
<rect x="156" y="2385" width="9" height="141" fill="rgb(69,69,69)"/>
</g>
<g filter="url(#n4)">
<rect x="165" y="1185" width="10" height="45" fill="rgb(16,16,16)"/>
<rect x="165" y="1230" width="10" height="12" fill="rgb(43,43,43)"/>
<rect x="165" y="1242" width="10" height="60" fill="rgb(109,109,109)"/>
<rect x="165" y="1302" width="10" height="140" fill="rgb(122,122,122)"/>
<rect x="165" y="1442" width="10" height="2" fill="rgb(69,69,69)"/>
<rect x="165" y="1444" width="10" height="37" fill="rgb(56,56,56)"/>
<rect x="165" y="1481" width="10" height="140" fill="rgb(43,43,43)"/>
<rect x="165" y="1621" width="10" height="96" fill="rgb(43,43,43)"/>
<rect x="165" y="1717" width="10" height="57" fill="rgb(29,29,29)"/>
<rect x="165" y="1774" width="10" height="34" fill="rgb(29,29,29)"/>
<rect x="165" y="1808" width="10" height="140" fill="rgb(43,43,43)"/>
<rect x="165" y="1948" width="10" height="64" fill="rgb(16,16,16)"/>
<rect x="165" y="2012" width="10" height="140" fill="rgb(82,82,82)"/>
<rect x="165" y="2152" width="10" height="61" fill="rgb(29,29,29)"/>
<rect x="165" y="2213" width="10" height="140" fill="rgb(135,135,135)"/>
<rect x="165" y="2353" width="10" height="32" fill="rgb(11,11,11)"/>
<rect x="165" y="2385" width="10" height="141" fill="rgb(82,82,82)"/>
</g>
<g filter="url(#n1)">
<rect x="175" y="1185" width="10" height="45" fill="rgb(29,29,29)"/>
<rect x="175" y="1230" width="10" height="12" fill="rgb(56,56,56)"/>
<rect x="175" y="1242" width="10" height="60" fill="rgb(189,189,189)"/>
<rect x="175" y="1302" width="10" height="140" fill="rgb(242,242,242)"/>
<rect x="175" y="1442" width="10" height="2" fill="rgb(122,122,122)"/>
<rect x="175" y="1444" width="10" height="37" fill="rgb(56,56,56)"/>
<rect x="175" y="1481" width="10" height="140" fill="rgb(56,56,56)"/>
<rect x="175" y="1621" width="10" height="96" fill="rgb(43,43,43)"/>
<rect x="175" y="1717" width="10" height="57" fill="rgb(69,69,69)"/>
<rect x="175" y="1774" width="10" height="34" fill="rgb(56,56,56)"/>
<rect x="175" y="1808" width="10" height="140" fill="rgb(43,43,43)"/>
<rect x="175" y="1948" width="10" height="64" fill="rgb(16,16,16)"/>
<rect x="175" y="2012" width="10" height="140" fill="rgb(82,82,82)"/>
<rect x="175" y="2152" width="10" height="61" fill="rgb(43,43,43)"/>
<rect x="175" y="2213" width="10" height="140" fill="rgb(181,181,181)"/>
<rect x="175" y="2353" width="10" height="32" fill="rgb(11,11,11)"/>
<rect x="175" y="2385" width="10" height="141" fill="rgb(82,82,82)"/>
</g>
<g filter="url(#n3)">
<rect x="185" y="1185" width="10" height="45" fill="rgb(122,122,122)"/>
<rect x="185" y="1230" width="10" height="12" fill="rgb(82,82,82)"/>
<rect x="185" y="1242" width="10" height="60" fill="rgb(82,82,82)"/>
<rect x="185" y="1302" width="10" height="140" fill="rgb(3,3,3)"/>
<rect x="185" y="1442" width="10" height="2" fill="rgb(228,228,228)"/>
<rect x="185" y="1444" width="10" height="37" fill="rgb(82,82,82)"/>
<rect x="185" y="1481" width="10" height="140" fill="rgb(29,29,29)"/>
<rect x="185" y="1621" width="10" height="96" fill="rgb(56,56,56)"/>
<rect x="185" y="1717" width="10" height="57" fill="rgb(109,109,109)"/>
<rect x="185" y="1774" width="10" height="34" fill="rgb(69,69,69)"/>
<rect x="185" y="1808" width="10" height="140" fill="rgb(16,16,16)"/>
<rect x="185" y="1948" width="10" height="64" fill="rgb(69,69,69)"/>
<rect x="185" y="2012" width="10" height="140" fill="rgb(3,3,3)"/>
<rect x="185" y="2152" width="10" height="61" fill="rgb(29,29,29)"/>
<rect x="185" y="2213" width="10" height="140" fill="rgb(3,3,3)"/>
<rect x="185" y="2353" width="10" height="32" fill="rgb(29,29,29)"/>
<rect x="185" y="2385" width="10" height="141" fill="rgb(3,3,3)"/>
</g>
<g filter="url(#n0)">
<rect x="195" y="1185" width="10" height="45" fill="rgb(122,122,122)"/>
<rect x="195" y="1230" width="10" height="12" fill="rgb(109,109,109)"/>
<rect x="195" y="1242" width="10" height="60" fill="rgb(69,69,69)"/>
<rect x="195" y="1302" width="10" height="140" fill="rgb(16,16,16)"/>
<rect x="195" y="1442" width="10" height="2" fill="rgb(43,43,43)"/>
<rect x="195" y="1444" width="10" height="37" fill="rgb(109,109,109)"/>
<rect x="195" y="1481" width="10" height="140" fill="rgb(43,43,43)"/>
<rect x="195" y="1621" width="10" height="96" fill="rgb(69,69,69)"/>
<rect x="195" y="1717" width="10" height="57" fill="rgb(96,96,96)"/>
<rect x="195" y="1774" width="10" height="34" fill="rgb(69,69,69)"/>
<rect x="195" y="1808" width="10" height="140" fill="rgb(29,29,29)"/>
<rect x="195" y="1948" width="10" height="64" fill="rgb(43,43,43)"/>
<rect x="195" y="2012" width="10" height="140" fill="rgb(3,3,3)"/>
<rect x="195" y="2152" width="10" height="61" fill="rgb(29,29,29)"/>
<rect x="195" y="2213" width="10" height="140" fill="rgb(16,16,16)"/>
<rect x="195" y="2353" width="10" height="32" fill="rgb(29,29,29)"/>
<rect x="195" y="2385" width="10" height="141" fill="rgb(16,16,16)"/>
</g>
<g filter="url(#n2)">
<rect x="205" y="1185" width="10" height="45" fill="rgb(69,69,69)"/>
<rect x="205" y="1230" width="10" height="12" fill="rgb(69,69,69)"/>
<rect x="205" y="1242" width="10" height="60" fill="rgb(69,69,69)"/>
<rect x="205" y="1302" width="10" height="140" fill="rgb(56,56,56)"/>
<rect x="205" y="1442" width="10" height="2" fill="rgb(43,43,43)"/>
<rect x="205" y="1444" width="10" height="37" fill="rgb(122,122,122)"/>
<rect x="205" y="1481" width="10" height="140" fill="rgb(69,69,69)"/>
<rect x="205" y="1621" width="10" height="96" fill="rgb(109,109,109)"/>
<rect x="205" y="1717" width="10" height="57" fill="rgb(82,82,82)"/>
<rect x="205" y="1774" width="10" height="34" fill="rgb(69,69,69)"/>
<rect x="205" y="1808" width="10" height="140" fill="rgb(43,43,43)"/>
<rect x="205" y="1948" width="10" height="64" fill="rgb(29,29,29)"/>
<rect x="205" y="2012" width="10" height="140" fill="rgb(29,29,29)"/>
<rect x="205" y="2152" width="10" height="61" fill="rgb(29,29,29)"/>
<rect x="205" y="2213" width="10" height="140" fill="rgb(43,43,43)"/>
<rect x="205" y="2353" width="10" height="32" fill="rgb(43,43,43)"/>
<rect x="205" y="2385" width="10" height="141" fill="rgb(43,43,43)"/>
</g>
<g filter="url(#n4)">
<rect x="215" y="1185" width="9" height="45" fill="rgb(43,43,43)"/>
<rect x="215" y="1230" width="9" height="12" fill="rgb(122,122,122)"/>
<rect x="215" y="1242" width="9" height="60" fill="rgb(82,82,82)"/>
<rect x="215" y="1302" width="9" height="140" fill="rgb(82,82,82)"/>
<rect x="215" y="1442" width="9" height="2" fill="rgb(69,69,69)"/>
<rect x="215" y="1444" width="9" height="37" fill="rgb(242,242,242)"/>
<rect x="215" y="1481" width="9" height="140" fill="rgb(122,122,122)"/>
<rect x="215" y="1621" width="9" height="96" fill="rgb(149,149,149)"/>
<rect x="215" y="1717" width="9" height="57" fill="rgb(69,69,69)"/>
<rect x="215" y="1774" width="9" height="34" fill="rgb(56,56,56)"/>
<rect x="215" y="1808" width="9" height="140" fill="rgb(69,69,69)"/>
<rect x="215" y="1948" width="9" height="64" fill="rgb(29,29,29)"/>
<rect x="215" y="2012" width="9" height="140" fill="rgb(82,82,82)"/>
<rect x="215" y="2152" width="9" height="61" fill="rgb(29,29,29)"/>
<rect x="215" y="2213" width="9" height="140" fill="rgb(90,90,90)"/>
<rect x="215" y="2353" width="9" height="32" fill="rgb(29,29,29)"/>
<rect x="215" y="2385" width="9" height="141" fill="rgb(69,69,69)"/>
</g>
<g filter="url(#n1)">
<rect x="224" y="1185" width="10" height="45" fill="rgb(69,69,69)"/>
<rect x="224" y="1230" width="10" height="12" fill="rgb(149,149,149)"/>
<rect x="224" y="1242" width="10" height="60" fill="rgb(96,96,96)"/>
<rect x="224" y="1302" width="10" height="140" fill="rgb(96,96,96)"/>
<rect x="224" y="1442" width="10" height="2" fill="rgb(69,69,69)"/>
<rect x="224" y="1444" width="10" height="37" fill="rgb(149,149,149)"/>
<rect x="224" y="1481" width="10" height="140" fill="rgb(242,242,242)"/>
<rect x="224" y="1621" width="10" height="96" fill="rgb(215,215,215)"/>
<rect x="224" y="1717" width="10" height="57" fill="rgb(82,82,82)"/>
<rect x="224" y="1774" width="10" height="34" fill="rgb(69,69,69)"/>
<rect x="224" y="1808" width="10" height="140" fill="rgb(69,69,69)"/>
<rect x="224" y="1948" width="10" height="64" fill="rgb(29,29,29)"/>
<rect x="224" y="2012" width="10" height="140" fill="rgb(109,109,109)"/>
<rect x="224" y="2152" width="10" height="61" fill="rgb(29,29,29)"/>
<rect x="224" y="2213" width="10" height="140" fill="rgb(117,117,117)"/>
<rect x="224" y="2353" width="10" height="32" fill="rgb(16,16,16)"/>
<rect x="224" y="2385" width="10" height="141" fill="rgb(82,82,82)"/>
</g>
<g filter="url(#n3)">
<rect x="234" y="1185" width="10" height="45" fill="rgb(189,189,189)"/>
<rect x="234" y="1230" width="10" height="12" fill="rgb(82,82,82)"/>
<rect x="234" y="1242" width="10" height="60" fill="rgb(82,82,82)"/>
<rect x="234" y="1302" width="10" height="140" fill="rgb(3,3,3)"/>
<rect x="234" y="1442" width="10" height="2" fill="rgb(16,16,16)"/>
<rect x="234" y="1444" width="10" height="37" fill="rgb(69,69,69)"/>
<rect x="234" y="1481" width="10" height="140" fill="rgb(3,3,3)"/>
<rect x="234" y="1621" width="10" height="96" fill="rgb(43,43,43)"/>
<rect x="234" y="1717" width="10" height="57" fill="rgb(215,215,215)"/>
<rect x="234" y="1774" width="10" height="34" fill="rgb(162,162,162)"/>
<rect x="234" y="1808" width="10" height="140" fill="rgb(11,11,11)"/>
<rect x="234" y="1948" width="10" height="64" fill="rgb(21,21,21)"/>
<rect x="234" y="2012" width="10" height="140" fill="rgb(3,3,3)"/>
<rect x="234" y="2152" width="10" height="61" fill="rgb(16,16,16)"/>
<rect x="234" y="2213" width="10" height="140" fill="rgb(3,3,3)"/>
<rect x="234" y="2353" width="10" height="32" fill="rgb(21,21,21)"/>
<rect x="234" y="2385" width="10" height="141" fill="rgb(3,3,3)"/>
</g>
<g filter="url(#n0)">
<rect x="244" y="1185" width="10" height="45" fill="rgb(122,122,122)"/>
<rect x="244" y="1230" width="10" height="12" fill="rgb(122,122,122)"/>
<rect x="244" y="1242" width="10" height="60" fill="rgb(109,109,109)"/>
<rect x="244" y="1302" width="10" height="140" fill="rgb(29,29,29)"/>
<rect x="244" y="1442" width="10" height="2" fill="rgb(43,43,43)"/>
<rect x="244" y="1444" width="10" height="37" fill="rgb(56,56,56)"/>
<rect x="244" y="1481" width="10" height="140" fill="rgb(43,43,43)"/>
<rect x="244" y="1621" width="10" height="96" fill="rgb(109,109,109)"/>
<rect x="244" y="1717" width="10" height="57" fill="rgb(135,135,135)"/>
<rect x="244" y="1774" width="10" height="34" fill="rgb(189,189,189)"/>
<rect x="244" y="1808" width="10" height="140" fill="rgb(96,96,96)"/>
<rect x="244" y="1948" width="10" height="64" fill="rgb(16,16,16)"/>
<rect x="244" y="2012" width="10" height="140" fill="rgb(16,16,16)"/>
<rect x="244" y="2152" width="10" height="61" fill="rgb(16,16,16)"/>
<rect x="244" y="2213" width="10" height="140" fill="rgb(16,16,16)"/>
<rect x="244" y="2353" width="10" height="32" fill="rgb(16,16,16)"/>
<rect x="244" y="2385" width="10" height="141" fill="rgb(16,16,16)"/>
</g>
<g filter="url(#n2)">
<rect x="254" y="1185" width="10" height="45" fill="rgb(82,82,82)"/>
<rect x="254" y="1230" width="10" height="12" fill="rgb(82,82,82)"/>
<rect x="254" y="1242" width="10" height="60" fill="rgb(109,109,109)"/>
<rect x="254" y="1302" width="10" height="140" fill="rgb(56,56,56)"/>
<rect x="254" y="1442" width="10" height="2" fill="rgb(43,43,43)"/>
<rect x="254" y="1444" width="10" height="37" fill="rgb(69,69,69)"/>
<rect x="254" y="1481" width="10" height="140" fill="rgb(69,69,69)"/>
<rect x="254" y="1621" width="10" height="96" fill="rgb(122,122,122)"/>
<rect x="254" y="1717" width="10" height="57" fill="rgb(109,109,109)"/>
<rect x="254" y="1774" width="10" height="34" fill="rgb(162,162,162)"/>
<rect x="254" y="1808" width="10" height="140" fill="rgb(122,122,122)"/>
<rect x="254" y="1948" width="10" height="64" fill="rgb(16,16,16)"/>
<rect x="254" y="2012" width="10" height="140" fill="rgb(21,21,21)"/>
<rect x="254" y="2152" width="10" height="61" fill="rgb(16,16,16)"/>
<rect x="254" y="2213" width="10" height="140" fill="rgb(29,29,29)"/>
<rect x="254" y="2353" width="10" height="32" fill="rgb(3,3,3)"/>
<rect x="254" y="2385" width="10" height="141" fill="rgb(29,29,29)"/>
</g>
<g filter="url(#n4)">
<rect x="264" y="1185" width="10" height="45" fill="rgb(56,56,56)"/>
<rect x="264" y="1230" width="10" height="12" fill="rgb(82,82,82)"/>
<rect x="264" y="1242" width="10" height="60" fill="rgb(109,109,109)"/>
<rect x="264" y="1302" width="10" height="140" fill="rgb(82,82,82)"/>
<rect x="264" y="1442" width="10" height="2" fill="rgb(43,43,43)"/>
<rect x="264" y="1444" width="10" height="37" fill="rgb(82,82,82)"/>
<rect x="264" y="1481" width="10" height="140" fill="rgb(82,82,82)"/>
<rect x="264" y="1621" width="10" height="96" fill="rgb(149,149,149)"/>
<rect x="264" y="1717" width="10" height="57" fill="rgb(96,96,96)"/>
<rect x="264" y="1774" width="10" height="34" fill="rgb(189,189,189)"/>
<rect x="264" y="1808" width="10" height="140" fill="rgb(175,175,175)"/>
<rect x="264" y="1948" width="10" height="64" fill="rgb(16,16,16)"/>
<rect x="264" y="2012" width="10" height="140" fill="rgb(43,43,43)"/>
<rect x="264" y="2152" width="10" height="61" fill="rgb(16,16,16)"/>
<rect x="264" y="2213" width="10" height="140" fill="rgb(48,48,48)"/>
<rect x="264" y="2353" width="10" height="32" fill="rgb(3,3,3)"/>
<rect x="264" y="2385" width="10" height="141" fill="rgb(29,29,29)"/>
</g>
<g filter="url(#n1)">
<rect x="274" y="1185" width="10" height="45" fill="rgb(43,43,43)"/>
<rect x="274" y="1230" width="10" height="12" fill="rgb(82,82,82)"/>
<rect x="274" y="1242" width="10" height="60" fill="rgb(109,109,109)"/>
<rect x="274" y="1302" width="10" height="140" fill="rgb(69,69,69)"/>
<rect x="274" y="1442" width="10" height="2" fill="rgb(43,43,43)"/>
<rect x="274" y="1444" width="10" height="37" fill="rgb(69,69,69)"/>
<rect x="274" y="1481" width="10" height="140" fill="rgb(82,82,82)"/>
<rect x="274" y="1621" width="10" height="96" fill="rgb(135,135,135)"/>
<rect x="274" y="1717" width="10" height="57" fill="rgb(82,82,82)"/>
<rect x="274" y="1774" width="10" height="34" fill="rgb(149,149,149)"/>
<rect x="274" y="1808" width="10" height="140" fill="rgb(189,189,189)"/>
<rect x="274" y="1948" width="10" height="64" fill="rgb(16,16,16)"/>
<rect x="274" y="2012" width="10" height="140" fill="rgb(43,43,43)"/>
<rect x="274" y="2152" width="10" height="61" fill="rgb(16,16,16)"/>
<rect x="274" y="2213" width="10" height="140" fill="rgb(69,69,69)"/>
<rect x="274" y="2353" width="10" height="32" fill="rgb(3,3,3)"/>
<rect x="274" y="2385" width="10" height="141" fill="rgb(37,37,37)"/>
</g>
<g filter="url(#n3)">
<rect x="284" y="1185" width="9" height="45" fill="rgb(56,56,56)"/>
<rect x="284" y="1230" width="9" height="12" fill="rgb(122,122,122)"/>
<rect x="284" y="1242" width="9" height="60" fill="rgb(122,122,122)"/>
<rect x="284" y="1302" width="9" height="140" fill="rgb(82,82,82)"/>
<rect x="284" y="1442" width="9" height="2" fill="rgb(69,69,69)"/>
<rect x="284" y="1444" width="9" height="37" fill="rgb(56,56,56)"/>
<rect x="284" y="1481" width="9" height="140" fill="rgb(109,109,109)"/>
<rect x="284" y="1621" width="9" height="96" fill="rgb(189,189,189)"/>
<rect x="284" y="1717" width="9" height="57" fill="rgb(109,109,109)"/>
<rect x="284" y="1774" width="9" height="34" fill="rgb(189,189,189)"/>
<rect x="284" y="1808" width="9" height="140" fill="rgb(242,242,242)"/>
<rect x="284" y="1948" width="9" height="64" fill="rgb(11,11,11)"/>
<rect x="284" y="2012" width="9" height="140" fill="rgb(96,96,96)"/>
<rect x="284" y="2152" width="9" height="61" fill="rgb(16,16,16)"/>
<rect x="284" y="2213" width="9" height="140" fill="rgb(101,101,101)"/>
<rect x="284" y="2353" width="9" height="32" fill="rgb(3,3,3)"/>
<rect x="284" y="2385" width="9" height="141" fill="rgb(43,43,43)"/>
</g>
<g filter="url(#n0)">
<rect x="293" y="1185" width="10" height="45" fill="rgb(149,149,149)"/>
<rect x="293" y="1230" width="10" height="12" fill="rgb(11,11,11)"/>
<rect x="293" y="1242" width="10" height="60" fill="rgb(11,11,11)"/>
<rect x="293" y="1302" width="10" height="140" fill="rgb(3,3,3)"/>
<rect x="293" y="1442" width="10" height="2" fill="rgb(3,3,3)"/>
<rect x="293" y="1444" width="10" height="37" fill="rgb(5,5,5)"/>
<rect x="293" y="1481" width="10" height="140" fill="rgb(8,8,8)"/>
<rect x="293" y="1621" width="10" height="96" fill="rgb(8,8,8)"/>
<rect x="293" y="1717" width="10" height="57" fill="rgb(11,11,11)"/>
<rect x="293" y="1774" width="10" height="34" fill="rgb(29,29,29)"/>
<rect x="293" y="1808" width="10" height="140" fill="rgb(8,8,8)"/>
<rect x="293" y="1948" width="10" height="64" fill="rgb(189,189,189)"/>
<rect x="293" y="2012" width="10" height="140" fill="rgb(3,3,3)"/>
<rect x="293" y="2152" width="10" height="61" fill="rgb(16,16,16)"/>
<rect x="293" y="2213" width="10" height="140" fill="rgb(3,3,3)"/>
<rect x="293" y="2353" width="10" height="32" fill="rgb(69,69,69)"/>
<rect x="293" y="2385" width="10" height="141" fill="rgb(3,3,3)"/>
</g>
<g filter="url(#n2)">
<rect x="303" y="1185" width="10" height="45" fill="rgb(135,135,135)"/>
<rect x="303" y="1230" width="10" height="12" fill="rgb(11,11,11)"/>
<rect x="303" y="1242" width="10" height="60" fill="rgb(11,11,11)"/>
<rect x="303" y="1302" width="10" height="140" fill="rgb(3,3,3)"/>
<rect x="303" y="1442" width="10" height="2" fill="rgb(3,3,3)"/>
<rect x="303" y="1444" width="10" height="37" fill="rgb(5,5,5)"/>
<rect x="303" y="1481" width="10" height="140" fill="rgb(8,8,8)"/>
<rect x="303" y="1621" width="10" height="96" fill="rgb(8,8,8)"/>
<rect x="303" y="1717" width="10" height="57" fill="rgb(11,11,11)"/>
<rect x="303" y="1774" width="10" height="34" fill="rgb(21,21,21)"/>
<rect x="303" y="1808" width="10" height="140" fill="rgb(8,8,8)"/>
<rect x="303" y="1948" width="10" height="64" fill="rgb(202,202,202)"/>
<rect x="303" y="2012" width="10" height="140" fill="rgb(3,3,3)"/>
<rect x="303" y="2152" width="10" height="61" fill="rgb(29,29,29)"/>
<rect x="303" y="2213" width="10" height="140" fill="rgb(3,3,3)"/>
<rect x="303" y="2353" width="10" height="32" fill="rgb(69,69,69)"/>
<rect x="303" y="2385" width="10" height="141" fill="rgb(3,3,3)"/>
</g>
<g filter="url(#n4)">
<rect x="313" y="1185" width="10" height="45" fill="rgb(82,82,82)"/>
<rect x="313" y="1230" width="10" height="12" fill="rgb(11,11,11)"/>
<rect x="313" y="1242" width="10" height="60" fill="rgb(11,11,11)"/>
<rect x="313" y="1302" width="10" height="140" fill="rgb(3,3,3)"/>
<rect x="313" y="1442" width="10" height="2" fill="rgb(3,3,3)"/>
<rect x="313" y="1444" width="10" height="37" fill="rgb(5,5,5)"/>
<rect x="313" y="1481" width="10" height="140" fill="rgb(8,8,8)"/>
<rect x="313" y="1621" width="10" height="96" fill="rgb(8,8,8)"/>
<rect x="313" y="1717" width="10" height="57" fill="rgb(11,11,11)"/>
<rect x="313" y="1774" width="10" height="34" fill="rgb(16,16,16)"/>
<rect x="313" y="1808" width="10" height="140" fill="rgb(8,8,8)"/>
<rect x="313" y="1948" width="10" height="64" fill="rgb(197,197,197)"/>
<rect x="313" y="2012" width="10" height="140" fill="rgb(3,3,3)"/>
<rect x="313" y="2152" width="10" height="61" fill="rgb(82,82,82)"/>
<rect x="313" y="2213" width="10" height="140" fill="rgb(3,3,3)"/>
<rect x="313" y="2353" width="10" height="32" fill="rgb(69,69,69)"/>
<rect x="313" y="2385" width="10" height="141" fill="rgb(3,3,3)"/>
</g>
<g filter="url(#n1)">
<rect x="323" y="1185" width="10" height="45" fill="rgb(69,69,69)"/>
<rect x="323" y="1230" width="10" height="12" fill="rgb(11,11,11)"/>
<rect x="323" y="1242" width="10" height="60" fill="rgb(21,21,21)"/>
<rect x="323" y="1302" width="10" height="140" fill="rgb(8,8,8)"/>
<rect x="323" y="1442" width="10" height="2" fill="rgb(3,3,3)"/>
<rect x="323" y="1444" width="10" height="37" fill="rgb(5,5,5)"/>
<rect x="323" y="1481" width="10" height="140" fill="rgb(8,8,8)"/>
<rect x="323" y="1621" width="10" height="96" fill="rgb(8,8,8)"/>
<rect x="323" y="1717" width="10" height="57" fill="rgb(11,11,11)"/>
<rect x="323" y="1774" width="10" height="34" fill="rgb(8,8,8)"/>
<rect x="323" y="1808" width="10" height="140" fill="rgb(8,8,8)"/>
<rect x="323" y="1948" width="10" height="64" fill="rgb(122,122,122)"/>
<rect x="323" y="2012" width="10" height="140" fill="rgb(3,3,3)"/>
<rect x="323" y="2152" width="10" height="61" fill="rgb(149,149,149)"/>
<rect x="323" y="2213" width="10" height="140" fill="rgb(16,16,16)"/>
<rect x="323" y="2353" width="10" height="32" fill="rgb(162,162,162)"/>
<rect x="323" y="2385" width="10" height="141" fill="rgb(16,16,16)"/>
</g>
<g filter="url(#n3)">
<rect x="333" y="1185" width="10" height="45" fill="rgb(56,56,56)"/>
<rect x="333" y="1230" width="10" height="12" fill="rgb(11,11,11)"/>
<rect x="333" y="1242" width="10" height="60" fill="rgb(29,29,29)"/>
<rect x="333" y="1302" width="10" height="140" fill="rgb(16,16,16)"/>
<rect x="333" y="1442" width="10" height="2" fill="rgb(3,3,3)"/>
<rect x="333" y="1444" width="10" height="37" fill="rgb(5,5,5)"/>
<rect x="333" y="1481" width="10" height="140" fill="rgb(8,8,8)"/>
<rect x="333" y="1621" width="10" height="96" fill="rgb(8,8,8)"/>
<rect x="333" y="1717" width="10" height="57" fill="rgb(11,11,11)"/>
<rect x="333" y="1774" width="10" height="34" fill="rgb(8,8,8)"/>
<rect x="333" y="1808" width="10" height="140" fill="rgb(11,11,11)"/>
<rect x="333" y="1948" width="10" height="64" fill="rgb(128,128,128)"/>
<rect x="333" y="2012" width="10" height="140" fill="rgb(3,3,3)"/>
<rect x="333" y="2152" width="10" height="61" fill="rgb(149,149,149)"/>
<rect x="333" y="2213" width="10" height="140" fill="rgb(29,29,29)"/>
<rect x="333" y="2353" width="10" height="32" fill="rgb(122,122,122)"/>
<rect x="333" y="2385" width="10" height="141" fill="rgb(29,29,29)"/>
</g>
<g filter="url(#n0)">
<rect x="343" y="1185" width="9" height="45" fill="rgb(16,16,16)"/>
<rect x="343" y="1230" width="9" height="12" fill="rgb(11,11,11)"/>
<rect x="343" y="1242" width="9" height="60" fill="rgb(29,29,29)"/>
<rect x="343" y="1302" width="9" height="140" fill="rgb(16,16,16)"/>
<rect x="343" y="1442" width="9" height="2" fill="rgb(3,3,3)"/>
<rect x="343" y="1444" width="9" height="37" fill="rgb(5,5,5)"/>
<rect x="343" y="1481" width="9" height="140" fill="rgb(8,8,8)"/>
<rect x="343" y="1621" width="9" height="96" fill="rgb(8,8,8)"/>
<rect x="343" y="1717" width="9" height="57" fill="rgb(11,11,11)"/>
<rect x="343" y="1774" width="9" height="34" fill="rgb(8,8,8)"/>
<rect x="343" y="1808" width="9" height="140" fill="rgb(11,11,11)"/>
<rect x="343" y="1948" width="9" height="64" fill="rgb(101,101,101)"/>
<rect x="343" y="2012" width="9" height="140" fill="rgb(16,16,16)"/>
<rect x="343" y="2152" width="9" height="61" fill="rgb(162,162,162)"/>
<rect x="343" y="2213" width="9" height="140" fill="rgb(69,69,69)"/>
<rect x="343" y="2353" width="9" height="32" fill="rgb(96,96,96)"/>
<rect x="343" y="2385" width="9" height="141" fill="rgb(43,43,43)"/>
</g>
<g filter="url(#n2)">
<rect x="352" y="1185" width="10" height="45" fill="rgb(3,3,3)"/>
<rect x="352" y="1230" width="10" height="12" fill="rgb(11,11,11)"/>
<rect x="352" y="1242" width="10" height="60" fill="rgb(16,16,16)"/>
<rect x="352" y="1302" width="10" height="140" fill="rgb(29,29,29)"/>
<rect x="352" y="1442" width="10" height="2" fill="rgb(3,3,3)"/>
<rect x="352" y="1444" width="10" height="37" fill="rgb(5,5,5)"/>
<rect x="352" y="1481" width="10" height="140" fill="rgb(11,11,11)"/>
<rect x="352" y="1621" width="10" height="96" fill="rgb(11,11,11)"/>
<rect x="352" y="1717" width="10" height="57" fill="rgb(11,11,11)"/>
<rect x="352" y="1774" width="10" height="34" fill="rgb(8,8,8)"/>
<rect x="352" y="1808" width="10" height="140" fill="rgb(16,16,16)"/>
<rect x="352" y="1948" width="10" height="64" fill="rgb(69,69,69)"/>
<rect x="352" y="2012" width="10" height="140" fill="rgb(56,56,56)"/>
<rect x="352" y="2152" width="10" height="61" fill="rgb(162,162,162)"/>
<rect x="352" y="2213" width="10" height="140" fill="rgb(117,117,117)"/>
<rect x="352" y="2353" width="10" height="32" fill="rgb(56,56,56)"/>
<rect x="352" y="2385" width="10" height="141" fill="rgb(82,82,82)"/>
</g>
<g filter="url(#n4)">
<rect x="362" y="1185" width="10" height="45" fill="rgb(3,3,3)"/>
<rect x="362" y="1230" width="10" height="12" fill="rgb(11,11,11)"/>
<rect x="362" y="1242" width="10" height="60" fill="rgb(21,21,21)"/>
<rect x="362" y="1302" width="10" height="140" fill="rgb(43,43,43)"/>
<rect x="362" y="1442" width="10" height="2" fill="rgb(3,3,3)"/>
<rect x="362" y="1444" width="10" height="37" fill="rgb(11,11,11)"/>
<rect x="362" y="1481" width="10" height="140" fill="rgb(24,24,24)"/>
<rect x="362" y="1621" width="10" height="96" fill="rgb(21,21,21)"/>
<rect x="362" y="1717" width="10" height="57" fill="rgb(16,16,16)"/>
<rect x="362" y="1774" width="10" height="34" fill="rgb(11,11,11)"/>
<rect x="362" y="1808" width="10" height="140" fill="rgb(29,29,29)"/>
<rect x="362" y="1948" width="10" height="64" fill="rgb(64,64,64)"/>
<rect x="362" y="2012" width="10" height="140" fill="rgb(69,69,69)"/>
<rect x="362" y="2152" width="10" height="61" fill="rgb(149,149,149)"/>
<rect x="362" y="2213" width="10" height="140" fill="rgb(135,135,135)"/>
<rect x="362" y="2353" width="10" height="32" fill="rgb(43,43,43)"/>
<rect x="362" y="2385" width="10" height="141" fill="rgb(96,96,96)"/>
</g>
<g filter="url(#n1)">
<rect x="372" y="1185" width="10" height="45" fill="rgb(3,3,3)"/>
<rect x="372" y="1230" width="10" height="12" fill="rgb(11,11,11)"/>
<rect x="372" y="1242" width="10" height="60" fill="rgb(29,29,29)"/>
<rect x="372" y="1302" width="10" height="140" fill="rgb(56,56,56)"/>
<rect x="372" y="1442" width="10" height="2" fill="rgb(3,3,3)"/>
<rect x="372" y="1444" width="10" height="37" fill="rgb(16,16,16)"/>
<rect x="372" y="1481" width="10" height="140" fill="rgb(24,24,24)"/>
<rect x="372" y="1621" width="10" height="96" fill="rgb(21,21,21)"/>
<rect x="372" y="1717" width="10" height="57" fill="rgb(16,16,16)"/>
<rect x="372" y="1774" width="10" height="34" fill="rgb(11,11,11)"/>
<rect x="372" y="1808" width="10" height="140" fill="rgb(29,29,29)"/>
<rect x="372" y="1948" width="10" height="64" fill="rgb(43,43,43)"/>
<rect x="372" y="2012" width="10" height="140" fill="rgb(135,135,135)"/>
<rect x="372" y="2152" width="10" height="61" fill="rgb(96,96,96)"/>
<rect x="372" y="2213" width="10" height="140" fill="rgb(170,170,170)"/>
<rect x="372" y="2353" width="10" height="32" fill="rgb(29,29,29)"/>
<rect x="372" y="2385" width="10" height="141" fill="rgb(109,109,109)"/>
</g>
<g filter="url(#n3)">
<rect x="382" y="1185" width="10" height="45" fill="rgb(3,3,3)"/>
<rect x="382" y="1230" width="10" height="12" fill="rgb(11,11,11)"/>
<rect x="382" y="1242" width="10" height="60" fill="rgb(21,21,21)"/>
<rect x="382" y="1302" width="10" height="140" fill="rgb(56,56,56)"/>
<rect x="382" y="1442" width="10" height="2" fill="rgb(3,3,3)"/>
<rect x="382" y="1444" width="10" height="37" fill="rgb(16,16,16)"/>
<rect x="382" y="1481" width="10" height="140" fill="rgb(24,24,24)"/>
<rect x="382" y="1621" width="10" height="96" fill="rgb(21,21,21)"/>
<rect x="382" y="1717" width="10" height="57" fill="rgb(16,16,16)"/>
<rect x="382" y="1774" width="10" height="34" fill="rgb(11,11,11)"/>
<rect x="382" y="1808" width="10" height="140" fill="rgb(29,29,29)"/>
<rect x="382" y="1948" width="10" height="64" fill="rgb(56,56,56)"/>
<rect x="382" y="2012" width="10" height="140" fill="rgb(242,242,242)"/>
<rect x="382" y="2152" width="10" height="61" fill="rgb(122,122,122)"/>
<rect x="382" y="2213" width="10" height="140" fill="rgb(242,242,242)"/>
<rect x="382" y="2353" width="10" height="32" fill="rgb(29,29,29)"/>
<rect x="382" y="2385" width="10" height="141" fill="rgb(122,122,122)"/>
</g>
<g filter="url(#n0)">
<rect x="392" y="1185" width="10" height="45" fill="rgb(96,96,96)"/>
<rect x="392" y="1230" width="10" height="12" fill="rgb(29,29,29)"/>
<rect x="392" y="1242" width="10" height="60" fill="rgb(3,3,3)"/>
<rect x="392" y="1302" width="10" height="140" fill="rgb(3,3,3)"/>
<rect x="392" y="1442" width="10" height="2" fill="rgb(3,3,3)"/>
<rect x="392" y="1444" width="10" height="37" fill="rgb(5,5,5)"/>
<rect x="392" y="1481" width="10" height="140" fill="rgb(5,5,5)"/>
<rect x="392" y="1621" width="10" height="96" fill="rgb(5,5,5)"/>
<rect x="392" y="1717" width="10" height="57" fill="rgb(11,11,11)"/>
<rect x="392" y="1774" width="10" height="34" fill="rgb(43,43,43)"/>
<rect x="392" y="1808" width="10" height="140" fill="rgb(8,8,8)"/>
<rect x="392" y="1948" width="10" height="64" fill="rgb(162,162,162)"/>
<rect x="392" y="2012" width="10" height="140" fill="rgb(3,3,3)"/>
<rect x="392" y="2152" width="10" height="61" fill="rgb(82,82,82)"/>
<rect x="392" y="2213" width="10" height="140" fill="rgb(3,3,3)"/>
<rect x="392" y="2353" width="10" height="32" fill="rgb(228,228,228)"/>
<rect x="392" y="2385" width="10" height="141" fill="rgb(16,16,16)"/>
</g>
<g filter="url(#n2)">
<rect x="402" y="1185" width="9" height="45" fill="rgb(96,96,96)"/>
<rect x="402" y="1230" width="9" height="12" fill="rgb(11,11,11)"/>
<rect x="402" y="1242" width="9" height="60" fill="rgb(16,16,16)"/>
<rect x="402" y="1302" width="9" height="140" fill="rgb(8,8,8)"/>
<rect x="402" y="1442" width="9" height="2" fill="rgb(3,3,3)"/>
<rect x="402" y="1444" width="9" height="37" fill="rgb(5,5,5)"/>
<rect x="402" y="1481" width="9" height="140" fill="rgb(8,8,8)"/>
<rect x="402" y="1621" width="9" height="96" fill="rgb(16,16,16)"/>
<rect x="402" y="1717" width="9" height="57" fill="rgb(11,11,11)"/>
<rect x="402" y="1774" width="9" height="34" fill="rgb(29,29,29)"/>
<rect x="402" y="1808" width="9" height="140" fill="rgb(11,11,11)"/>
<rect x="402" y="1948" width="9" height="64" fill="rgb(170,170,170)"/>
<rect x="402" y="2012" width="9" height="140" fill="rgb(8,8,8)"/>
<rect x="402" y="2152" width="9" height="61" fill="rgb(162,162,162)"/>
<rect x="402" y="2213" width="9" height="140" fill="rgb(16,16,16)"/>
<rect x="402" y="2353" width="9" height="32" fill="rgb(189,189,189)"/>
<rect x="402" y="2385" width="9" height="141" fill="rgb(43,43,43)"/>
</g>
<g filter="url(#n4)">
<rect x="411" y="1185" width="10" height="45" fill="rgb(43,43,43)"/>
<rect x="411" y="1230" width="10" height="12" fill="rgb(11,11,11)"/>
<rect x="411" y="1242" width="10" height="60" fill="rgb(16,16,16)"/>
<rect x="411" y="1302" width="10" height="140" fill="rgb(21,21,21)"/>
<rect x="411" y="1442" width="10" height="2" fill="rgb(3,3,3)"/>
<rect x="411" y="1444" width="10" height="37" fill="rgb(5,5,5)"/>
<rect x="411" y="1481" width="10" height="140" fill="rgb(11,11,11)"/>
<rect x="411" y="1621" width="10" height="96" fill="rgb(16,16,16)"/>
<rect x="411" y="1717" width="10" height="57" fill="rgb(11,11,11)"/>
<rect x="411" y="1774" width="10" height="34" fill="rgb(21,21,21)"/>
<rect x="411" y="1808" width="10" height="140" fill="rgb(11,11,11)"/>
<rect x="411" y="1948" width="10" height="64" fill="rgb(109,109,109)"/>
<rect x="411" y="2012" width="10" height="140" fill="rgb(21,21,21)"/>
<rect x="411" y="2152" width="10" height="61" fill="rgb(149,149,149)"/>
<rect x="411" y="2213" width="10" height="140" fill="rgb(37,37,37)"/>
<rect x="411" y="2353" width="10" height="32" fill="rgb(149,149,149)"/>
<rect x="411" y="2385" width="10" height="141" fill="rgb(82,82,82)"/>
</g>
<g filter="url(#n1)">
<rect x="421" y="1185" width="10" height="45" fill="rgb(29,29,29)"/>
<rect x="421" y="1230" width="10" height="12" fill="rgb(11,11,11)"/>
<rect x="421" y="1242" width="10" height="60" fill="rgb(16,16,16)"/>
<rect x="421" y="1302" width="10" height="140" fill="rgb(29,29,29)"/>
<rect x="421" y="1442" width="10" height="2" fill="rgb(3,3,3)"/>
<rect x="421" y="1444" width="10" height="37" fill="rgb(11,11,11)"/>
<rect x="421" y="1481" width="10" height="140" fill="rgb(21,21,21)"/>
<rect x="421" y="1621" width="10" height="96" fill="rgb(16,16,16)"/>
<rect x="421" y="1717" width="10" height="57" fill="rgb(16,16,16)"/>
<rect x="421" y="1774" width="10" height="34" fill="rgb(16,16,16)"/>
<rect x="421" y="1808" width="10" height="140" fill="rgb(21,21,21)"/>
<rect x="421" y="1948" width="10" height="64" fill="rgb(82,82,82)"/>
<rect x="421" y="2012" width="10" height="140" fill="rgb(56,56,56)"/>
<rect x="421" y="2152" width="10" height="61" fill="rgb(135,135,135)"/>
<rect x="421" y="2213" width="10" height="140" fill="rgb(74,74,74)"/>
<rect x="421" y="2353" width="10" height="32" fill="rgb(82,82,82)"/>
<rect x="421" y="2385" width="10" height="141" fill="rgb(109,109,109)"/>
</g>
<g filter="url(#n3)">
<rect x="431" y="1185" width="10" height="45" fill="rgb(16,16,16)"/>
<rect x="431" y="1230" width="10" height="12" fill="rgb(11,11,11)"/>
<rect x="431" y="1242" width="10" height="60" fill="rgb(16,16,16)"/>
<rect x="431" y="1302" width="10" height="140" fill="rgb(43,43,43)"/>
<rect x="431" y="1442" width="10" height="2" fill="rgb(3,3,3)"/>
<rect x="431" y="1444" width="10" height="37" fill="rgb(11,11,11)"/>
<rect x="431" y="1481" width="10" height="140" fill="rgb(21,21,21)"/>
<rect x="431" y="1621" width="10" height="96" fill="rgb(16,16,16)"/>
<rect x="431" y="1717" width="10" height="57" fill="rgb(16,16,16)"/>
<rect x="431" y="1774" width="10" height="34" fill="rgb(16,16,16)"/>
<rect x="431" y="1808" width="10" height="140" fill="rgb(21,21,21)"/>
<rect x="431" y="1948" width="10" height="64" fill="rgb(69,69,69)"/>
<rect x="431" y="2012" width="10" height="140" fill="rgb(69,69,69)"/>
<rect x="431" y="2152" width="10" height="61" fill="rgb(122,122,122)"/>
<rect x="431" y="2213" width="10" height="140" fill="rgb(90,90,90)"/>
<rect x="431" y="2353" width="10" height="32" fill="rgb(82,82,82)"/>
<rect x="431" y="2385" width="10" height="141" fill="rgb(135,135,135)"/>
</g>
<g filter="url(#n0)">
<rect x="441" y="1185" width="10" height="45" fill="rgb(16,16,16)"/>
<rect x="441" y="1230" width="10" height="12" fill="rgb(11,11,11)"/>
<rect x="441" y="1242" width="10" height="60" fill="rgb(16,16,16)"/>
<rect x="441" y="1302" width="10" height="140" fill="rgb(43,43,43)"/>
<rect x="441" y="1442" width="10" height="2" fill="rgb(3,3,3)"/>
<rect x="441" y="1444" width="10" height="37" fill="rgb(11,11,11)"/>
<rect x="441" y="1481" width="10" height="140" fill="rgb(21,21,21)"/>
<rect x="441" y="1621" width="10" height="96" fill="rgb(16,16,16)"/>
<rect x="441" y="1717" width="10" height="57" fill="rgb(16,16,16)"/>
<rect x="441" y="1774" width="10" height="34" fill="rgb(16,16,16)"/>
<rect x="441" y="1808" width="10" height="140" fill="rgb(21,21,21)"/>
<rect x="441" y="1948" width="10" height="64" fill="rgb(56,56,56)"/>
<rect x="441" y="2012" width="10" height="140" fill="rgb(109,109,109)"/>
<rect x="441" y="2152" width="10" height="61" fill="rgb(109,109,109)"/>
<rect x="441" y="2213" width="10" height="140" fill="rgb(117,117,117)"/>
<rect x="441" y="2353" width="10" height="32" fill="rgb(69,69,69)"/>
<rect x="441" y="2385" width="10" height="141" fill="rgb(162,162,162)"/>
</g>
<g filter="url(#n2)">
<rect x="451" y="1185" width="10" height="45" fill="rgb(16,16,16)"/>
<rect x="451" y="1230" width="10" height="12" fill="rgb(11,11,11)"/>
<rect x="451" y="1242" width="10" height="60" fill="rgb(16,16,16)"/>
<rect x="451" y="1302" width="10" height="140" fill="rgb(43,43,43)"/>
<rect x="451" y="1442" width="10" height="2" fill="rgb(3,3,3)"/>
<rect x="451" y="1444" width="10" height="37" fill="rgb(5,5,5)"/>
<rect x="451" y="1481" width="10" height="140" fill="rgb(11,11,11)"/>
<rect x="451" y="1621" width="10" height="96" fill="rgb(16,16,16)"/>
<rect x="451" y="1717" width="10" height="57" fill="rgb(11,11,11)"/>
<rect x="451" y="1774" width="10" height="34" fill="rgb(16,16,16)"/>
<rect x="451" y="1808" width="10" height="140" fill="rgb(21,21,21)"/>
<rect x="451" y="1948" width="10" height="64" fill="rgb(82,82,82)"/>
<rect x="451" y="2012" width="10" height="140" fill="rgb(149,149,149)"/>
<rect x="451" y="2152" width="10" height="61" fill="rgb(135,135,135)"/>
<rect x="451" y="2213" width="10" height="140" fill="rgb(162,162,162)"/>
<rect x="451" y="2353" width="10" height="32" fill="rgb(69,69,69)"/>
<rect x="451" y="2385" width="10" height="141" fill="rgb(242,242,242)"/>
</g>
<g filter="url(#n1)">
<rect x="471" y="1185" width="10" height="45" fill="rgb(215,215,215)"/>
<rect x="471" y="1230" width="10" height="12" fill="rgb(109,109,109)"/>
<rect x="471" y="1242" width="10" height="60" fill="rgb(109,109,109)"/>
<rect x="471" y="1302" width="10" height="140" fill="rgb(3,3,3)"/>
<rect x="471" y="1442" width="10" height="2" fill="rgb(16,16,16)"/>
<rect x="471" y="1444" width="10" height="37" fill="rgb(29,29,29)"/>
<rect x="471" y="1481" width="10" height="140" fill="rgb(3,3,3)"/>
<rect x="471" y="1621" width="10" height="96" fill="rgb(29,29,29)"/>
<rect x="471" y="1717" width="10" height="57" fill="rgb(189,189,189)"/>
<rect x="471" y="1774" width="10" height="34" fill="rgb(109,109,109)"/>
<rect x="471" y="1808" width="10" height="140" fill="rgb(3,3,3)"/>
<rect x="471" y="1948" width="10" height="64" fill="rgb(69,69,69)"/>
<rect x="471" y="2012" width="10" height="140" fill="rgb(3,3,3)"/>
<rect x="471" y="2152" width="10" height="61" fill="rgb(29,29,29)"/>
<rect x="471" y="2213" width="10" height="140" fill="rgb(3,3,3)"/>
<rect x="471" y="2353" width="10" height="32" fill="rgb(82,82,82)"/>
<rect x="471" y="2385" width="10" height="141" fill="rgb(3,3,3)"/>
</g>
<g filter="url(#n3)">
<rect x="481" y="1185" width="10" height="45" fill="rgb(215,215,215)"/>
<rect x="481" y="1230" width="10" height="12" fill="rgb(96,96,96)"/>
<rect x="481" y="1242" width="10" height="60" fill="rgb(109,109,109)"/>
<rect x="481" y="1302" width="10" height="140" fill="rgb(3,3,3)"/>
<rect x="481" y="1442" width="10" height="2" fill="rgb(16,16,16)"/>
<rect x="481" y="1444" width="10" height="37" fill="rgb(43,43,43)"/>
<rect x="481" y="1481" width="10" height="140" fill="rgb(3,3,3)"/>
<rect x="481" y="1621" width="10" height="96" fill="rgb(43,43,43)"/>
<rect x="481" y="1717" width="10" height="57" fill="rgb(189,189,189)"/>
<rect x="481" y="1774" width="10" height="34" fill="rgb(109,109,109)"/>
<rect x="481" y="1808" width="10" height="140" fill="rgb(3,3,3)"/>
<rect x="481" y="1948" width="10" height="64" fill="rgb(56,56,56)"/>
<rect x="481" y="2012" width="10" height="140" fill="rgb(3,3,3)"/>
<rect x="481" y="2152" width="10" height="61" fill="rgb(29,29,29)"/>
<rect x="481" y="2213" width="10" height="140" fill="rgb(3,3,3)"/>
<rect x="481" y="2353" width="10" height="32" fill="rgb(69,69,69)"/>
<rect x="481" y="2385" width="10" height="141" fill="rgb(3,3,3)"/>
</g>
<g filter="url(#n0)">
<rect x="491" y="1185" width="10" height="45" fill="rgb(162,162,162)"/>
<rect x="491" y="1230" width="10" height="12" fill="rgb(122,122,122)"/>
<rect x="491" y="1242" width="10" height="60" fill="rgb(135,135,135)"/>
<rect x="491" y="1302" width="10" height="140" fill="rgb(11,11,11)"/>
<rect x="491" y="1442" width="10" height="2" fill="rgb(16,16,16)"/>
<rect x="491" y="1444" width="10" height="37" fill="rgb(82,82,82)"/>
<rect x="491" y="1481" width="10" height="140" fill="rgb(3,3,3)"/>
<rect x="491" y="1621" width="10" height="96" fill="rgb(69,69,69)"/>
<rect x="491" y="1717" width="10" height="57" fill="rgb(202,202,202)"/>
<rect x="491" y="1774" width="10" height="34" fill="rgb(96,96,96)"/>
<rect x="491" y="1808" width="10" height="140" fill="rgb(16,16,16)"/>
<rect x="491" y="1948" width="10" height="64" fill="rgb(43,43,43)"/>
<rect x="491" y="2012" width="10" height="140" fill="rgb(3,3,3)"/>
<rect x="491" y="2152" width="10" height="61" fill="rgb(29,29,29)"/>
<rect x="491" y="2213" width="10" height="140" fill="rgb(3,3,3)"/>
<rect x="491" y="2353" width="10" height="32" fill="rgb(43,43,43)"/>
<rect x="491" y="2385" width="10" height="141" fill="rgb(3,3,3)"/>
</g>
<g filter="url(#n2)">
<rect x="501" y="1185" width="9" height="45" fill="rgb(96,96,96)"/>
<rect x="501" y="1230" width="9" height="12" fill="rgb(228,228,228)"/>
<rect x="501" y="1242" width="9" height="60" fill="rgb(122,122,122)"/>
<rect x="501" y="1302" width="9" height="140" fill="rgb(16,16,16)"/>
<rect x="501" y="1442" width="9" height="2" fill="rgb(16,16,16)"/>
<rect x="501" y="1444" width="9" height="37" fill="rgb(56,56,56)"/>
<rect x="501" y="1481" width="9" height="140" fill="rgb(11,11,11)"/>
<rect x="501" y="1621" width="9" height="96" fill="rgb(56,56,56)"/>
<rect x="501" y="1717" width="9" height="57" fill="rgb(149,149,149)"/>
<rect x="501" y="1774" width="9" height="34" fill="rgb(82,82,82)"/>
<rect x="501" y="1808" width="9" height="140" fill="rgb(16,16,16)"/>
<rect x="501" y="1948" width="9" height="64" fill="rgb(56,56,56)"/>
<rect x="501" y="2012" width="9" height="140" fill="rgb(3,3,3)"/>
<rect x="501" y="2152" width="9" height="61" fill="rgb(43,43,43)"/>
<rect x="501" y="2213" width="9" height="140" fill="rgb(11,11,11)"/>
<rect x="501" y="2353" width="9" height="32" fill="rgb(29,29,29)"/>
<rect x="501" y="2385" width="9" height="141" fill="rgb(11,11,11)"/>
</g>
<g filter="url(#n4)">
<rect x="510" y="1185" width="10" height="45" fill="rgb(96,96,96)"/>
<rect x="510" y="1230" width="10" height="12" fill="rgb(43,43,43)"/>
<rect x="510" y="1242" width="10" height="60" fill="rgb(162,162,162)"/>
<rect x="510" y="1302" width="10" height="140" fill="rgb(43,43,43)"/>
<rect x="510" y="1442" width="10" height="2" fill="rgb(43,43,43)"/>
<rect x="510" y="1444" width="10" height="37" fill="rgb(96,96,96)"/>
<rect x="510" y="1481" width="10" height="140" fill="rgb(21,21,21)"/>
<rect x="510" y="1621" width="10" height="96" fill="rgb(69,69,69)"/>
<rect x="510" y="1717" width="10" height="57" fill="rgb(175,175,175)"/>
<rect x="510" y="1774" width="10" height="34" fill="rgb(109,109,109)"/>
<rect x="510" y="1808" width="10" height="140" fill="rgb(29,29,29)"/>
<rect x="510" y="1948" width="10" height="64" fill="rgb(16,16,16)"/>
<rect x="510" y="2012" width="10" height="140" fill="rgb(11,11,11)"/>
<rect x="510" y="2152" width="10" height="61" fill="rgb(56,56,56)"/>
<rect x="510" y="2213" width="10" height="140" fill="rgb(16,16,16)"/>
<rect x="510" y="2353" width="10" height="32" fill="rgb(43,43,43)"/>
<rect x="510" y="2385" width="10" height="141" fill="rgb(29,29,29)"/>
</g>
<g filter="url(#n1)">
<rect x="520" y="1185" width="10" height="45" fill="rgb(82,82,82)"/>
<rect x="520" y="1230" width="10" height="12" fill="rgb(122,122,122)"/>
<rect x="520" y="1242" width="10" height="60" fill="rgb(189,189,189)"/>
<rect x="520" y="1302" width="10" height="140" fill="rgb(82,82,82)"/>
<rect x="520" y="1442" width="10" height="2" fill="rgb(43,43,43)"/>
<rect x="520" y="1444" width="10" height="37" fill="rgb(96,96,96)"/>
<rect x="520" y="1481" width="10" height="140" fill="rgb(43,43,43)"/>
<rect x="520" y="1621" width="10" height="96" fill="rgb(82,82,82)"/>
<rect x="520" y="1717" width="10" height="57" fill="rgb(175,175,175)"/>
<rect x="520" y="1774" width="10" height="34" fill="rgb(109,109,109)"/>
<rect x="520" y="1808" width="10" height="140" fill="rgb(69,69,69)"/>
<rect x="520" y="1948" width="10" height="64" fill="rgb(16,16,16)"/>
<rect x="520" y="2012" width="10" height="140" fill="rgb(29,29,29)"/>
<rect x="520" y="2152" width="10" height="61" fill="rgb(56,56,56)"/>
<rect x="520" y="2213" width="10" height="140" fill="rgb(29,29,29)"/>
<rect x="520" y="2353" width="10" height="32" fill="rgb(43,43,43)"/>
<rect x="520" y="2385" width="10" height="141" fill="rgb(56,56,56)"/>
</g>
<g filter="url(#n3)">
<rect x="530" y="1185" width="10" height="45" fill="rgb(69,69,69)"/>
<rect x="530" y="1230" width="10" height="12" fill="rgb(122,122,122)"/>
<rect x="530" y="1242" width="10" height="60" fill="rgb(228,228,228)"/>
<rect x="530" y="1302" width="10" height="140" fill="rgb(149,149,149)"/>
<rect x="530" y="1442" width="10" height="2" fill="rgb(69,69,69)"/>
<rect x="530" y="1444" width="10" height="37" fill="rgb(122,122,122)"/>
<rect x="530" y="1481" width="10" height="140" fill="rgb(96,96,96)"/>
<rect x="530" y="1621" width="10" height="96" fill="rgb(109,109,109)"/>
<rect x="530" y="1717" width="10" height="57" fill="rgb(162,162,162)"/>
<rect x="530" y="1774" width="10" height="34" fill="rgb(96,96,96)"/>
<rect x="530" y="1808" width="10" height="140" fill="rgb(122,122,122)"/>
<rect x="530" y="1948" width="10" height="64" fill="rgb(29,29,29)"/>
<rect x="530" y="2012" width="10" height="140" fill="rgb(69,69,69)"/>
<rect x="530" y="2152" width="10" height="61" fill="rgb(69,69,69)"/>
<rect x="530" y="2213" width="10" height="140" fill="rgb(96,96,96)"/>
<rect x="530" y="2353" width="10" height="32" fill="rgb(29,29,29)"/>
<rect x="530" y="2385" width="10" height="141" fill="rgb(96,96,96)"/>
</g>
<g filter="url(#n0)">
<rect x="540" y="1185" width="10" height="45" fill="rgb(29,29,29)"/>
<rect x="540" y="1230" width="10" height="12" fill="rgb(96,96,96)"/>
<rect x="540" y="1242" width="10" height="60" fill="rgb(189,189,189)"/>
<rect x="540" y="1302" width="10" height="140" fill="rgb(215,215,215)"/>
<rect x="540" y="1442" width="10" height="2" fill="rgb(96,96,96)"/>
<rect x="540" y="1444" width="10" height="37" fill="rgb(96,96,96)"/>
<rect x="540" y="1481" width="10" height="140" fill="rgb(109,109,109)"/>
<rect x="540" y="1621" width="10" height="96" fill="rgb(109,109,109)"/>
<rect x="540" y="1717" width="10" height="57" fill="rgb(149,149,149)"/>
<rect x="540" y="1774" width="10" height="34" fill="rgb(82,82,82)"/>
<rect x="540" y="1808" width="10" height="140" fill="rgb(135,135,135)"/>
<rect x="540" y="1948" width="10" height="64" fill="rgb(29,29,29)"/>
<rect x="540" y="2012" width="10" height="140" fill="rgb(109,109,109)"/>
<rect x="540" y="2152" width="10" height="61" fill="rgb(109,109,109)"/>
<rect x="540" y="2213" width="10" height="140" fill="rgb(135,135,135)"/>
<rect x="540" y="2353" width="10" height="32" fill="rgb(29,29,29)"/>
<rect x="540" y="2385" width="10" height="141" fill="rgb(109,109,109)"/>
</g>
<g filter="url(#n2)">
<rect x="550" y="1185" width="10" height="45" fill="rgb(43,43,43)"/>
<rect x="550" y="1230" width="10" height="12" fill="rgb(109,109,109)"/>
<rect x="550" y="1242" width="10" height="60" fill="rgb(189,189,189)"/>
<rect x="550" y="1302" width="10" height="140" fill="rgb(242,242,242)"/>
<rect x="550" y="1442" width="10" height="2" fill="rgb(122,122,122)"/>
<rect x="550" y="1444" width="10" height="37" fill="rgb(109,109,109)"/>
<rect x="550" y="1481" width="10" height="140" fill="rgb(122,122,122)"/>
<rect x="550" y="1621" width="10" height="96" fill="rgb(96,96,96)"/>
<rect x="550" y="1717" width="10" height="57" fill="rgb(135,135,135)"/>
<rect x="550" y="1774" width="10" height="34" fill="rgb(82,82,82)"/>
<rect x="550" y="1808" width="10" height="140" fill="rgb(122,122,122)"/>
<rect x="550" y="1948" width="10" height="64" fill="rgb(43,43,43)"/>
<rect x="550" y="2012" width="10" height="140" fill="rgb(135,135,135)"/>
<rect x="550" y="2152" width="10" height="61" fill="rgb(109,109,109)"/>
<rect x="550" y="2213" width="10" height="140" fill="rgb(162,162,162)"/>
<rect x="550" y="2353" width="10" height="32" fill="rgb(16,16,16)"/>
<rect x="550" y="2385" width="10" height="141" fill="rgb(122,122,122)"/>
</g>
<g filter="url(#n4)">
<rect x="560" y="1185" width="9" height="45" fill="rgb(122,122,122)"/>
<rect x="560" y="1230" width="9" height="12" fill="rgb(109,109,109)"/>
<rect x="560" y="1242" width="9" height="60" fill="rgb(122,122,122)"/>
<rect x="560" y="1302" width="9" height="140" fill="rgb(3,3,3)"/>
<rect x="560" y="1442" width="9" height="2" fill="rgb(228,228,228)"/>
<rect x="560" y="1444" width="9" height="37" fill="rgb(109,109,109)"/>
<rect x="560" y="1481" width="9" height="140" fill="rgb(16,16,16)"/>
<rect x="560" y="1621" width="9" height="96" fill="rgb(69,69,69)"/>
<rect x="560" y="1717" width="9" height="57" fill="rgb(175,175,175)"/>
<rect x="560" y="1774" width="9" height="34" fill="rgb(82,82,82)"/>
<rect x="560" y="1808" width="9" height="140" fill="rgb(16,16,16)"/>
<rect x="560" y="1948" width="9" height="64" fill="rgb(43,43,43)"/>
<rect x="560" y="2012" width="9" height="140" fill="rgb(3,3,3)"/>
<rect x="560" y="2152" width="9" height="61" fill="rgb(56,56,56)"/>
<rect x="560" y="2213" width="9" height="140" fill="rgb(3,3,3)"/>
<rect x="560" y="2353" width="9" height="32" fill="rgb(69,69,69)"/>
<rect x="560" y="2385" width="9" height="141" fill="rgb(3,3,3)"/>
</g>
<g filter="url(#n1)">
<rect x="569" y="1185" width="10" height="45" fill="rgb(122,122,122)"/>
<rect x="569" y="1230" width="10" height="12" fill="rgb(149,149,149)"/>
<rect x="569" y="1242" width="10" height="60" fill="rgb(135,135,135)"/>
<rect x="569" y="1302" width="10" height="140" fill="rgb(43,43,43)"/>
<rect x="569" y="1442" width="10" height="2" fill="rgb(69,69,69)"/>
<rect x="569" y="1444" width="10" height="37" fill="rgb(122,122,122)"/>
<rect x="569" y="1481" width="10" height="140" fill="rgb(29,29,29)"/>
<rect x="569" y="1621" width="10" height="96" fill="rgb(82,82,82)"/>
<rect x="569" y="1717" width="10" height="57" fill="rgb(175,175,175)"/>
<rect x="569" y="1774" width="10" height="34" fill="rgb(96,96,96)"/>
<rect x="569" y="1808" width="10" height="140" fill="rgb(43,43,43)"/>
<rect x="569" y="1948" width="10" height="64" fill="rgb(29,29,29)"/>
<rect x="569" y="2012" width="10" height="140" fill="rgb(3,3,3)"/>
<rect x="569" y="2152" width="10" height="61" fill="rgb(56,56,56)"/>
<rect x="569" y="2213" width="10" height="140" fill="rgb(3,3,3)"/>
<rect x="569" y="2353" width="10" height="32" fill="rgb(43,43,43)"/>
<rect x="569" y="2385" width="10" height="141" fill="rgb(16,16,16)"/>
</g>
<g filter="url(#n3)">
<rect x="579" y="1185" width="10" height="45" fill="rgb(82,82,82)"/>
<rect x="579" y="1230" width="10" height="12" fill="rgb(189,189,189)"/>
<rect x="579" y="1242" width="10" height="60" fill="rgb(135,135,135)"/>
<rect x="579" y="1302" width="10" height="140" fill="rgb(69,69,69)"/>
<rect x="579" y="1442" width="10" height="2" fill="rgb(69,69,69)"/>
<rect x="579" y="1444" width="10" height="37" fill="rgb(135,135,135)"/>
<rect x="579" y="1481" width="10" height="140" fill="rgb(69,69,69)"/>
<rect x="579" y="1621" width="10" height="96" fill="rgb(149,149,149)"/>
<rect x="579" y="1717" width="10" height="57" fill="rgb(175,175,175)"/>
<rect x="579" y="1774" width="10" height="34" fill="rgb(109,109,109)"/>
<rect x="579" y="1808" width="10" height="140" fill="rgb(109,109,109)"/>
<rect x="579" y="1948" width="10" height="64" fill="rgb(29,29,29)"/>
<rect x="579" y="2012" width="10" height="140" fill="rgb(29,29,29)"/>
<rect x="579" y="2152" width="10" height="61" fill="rgb(69,69,69)"/>
<rect x="579" y="2213" width="10" height="140" fill="rgb(37,37,37)"/>
<rect x="579" y="2353" width="10" height="32" fill="rgb(43,43,43)"/>
<rect x="579" y="2385" width="10" height="141" fill="rgb(56,56,56)"/>
</g>
<g filter="url(#n0)">
<rect x="589" y="1185" width="10" height="45" fill="rgb(69,69,69)"/>
<rect x="589" y="1230" width="10" height="12" fill="rgb(228,228,228)"/>
<rect x="589" y="1242" width="10" height="60" fill="rgb(135,135,135)"/>
<rect x="589" y="1302" width="10" height="140" fill="rgb(122,122,122)"/>
<rect x="589" y="1442" width="10" height="2" fill="rgb(69,69,69)"/>
<rect x="589" y="1444" width="10" height="37" fill="rgb(242,242,242)"/>
<rect x="589" y="1481" width="10" height="140" fill="rgb(175,175,175)"/>
<rect x="589" y="1621" width="10" height="96" fill="rgb(202,202,202)"/>
<rect x="589" y="1717" width="10" height="57" fill="rgb(189,189,189)"/>
<rect x="589" y="1774" width="10" height="34" fill="rgb(135,135,135)"/>
<rect x="589" y="1808" width="10" height="140" fill="rgb(122,122,122)"/>
<rect x="589" y="1948" width="10" height="64" fill="rgb(29,29,29)"/>
<rect x="589" y="2012" width="10" height="140" fill="rgb(96,96,96)"/>
<rect x="589" y="2152" width="10" height="61" fill="rgb(82,82,82)"/>
<rect x="589" y="2213" width="10" height="140" fill="rgb(109,109,109)"/>
<rect x="589" y="2353" width="10" height="32" fill="rgb(43,43,43)"/>
<rect x="589" y="2385" width="10" height="141" fill="rgb(96,96,96)"/>
</g>
<g filter="url(#n2)">
<rect x="599" y="1185" width="10" height="45" fill="rgb(69,69,69)"/>
<rect x="599" y="1230" width="10" height="12" fill="rgb(228,228,228)"/>
<rect x="599" y="1242" width="10" height="60" fill="rgb(149,149,149)"/>
<rect x="599" y="1302" width="10" height="140" fill="rgb(135,135,135)"/>
<rect x="599" y="1442" width="10" height="2" fill="rgb(69,69,69)"/>
<rect x="599" y="1444" width="10" height="37" fill="rgb(228,228,228)"/>
<rect x="599" y="1481" width="10" height="140" fill="rgb(242,242,242)"/>
<rect x="599" y="1621" width="10" height="96" fill="rgb(215,215,215)"/>
<rect x="599" y="1717" width="10" height="57" fill="rgb(175,175,175)"/>
<rect x="599" y="1774" width="10" height="34" fill="rgb(135,135,135)"/>
<rect x="599" y="1808" width="10" height="140" fill="rgb(122,122,122)"/>
<rect x="599" y="1948" width="10" height="64" fill="rgb(29,29,29)"/>
<rect x="599" y="2012" width="10" height="140" fill="rgb(122,122,122)"/>
<rect x="599" y="2152" width="10" height="61" fill="rgb(96,96,96)"/>
<rect x="599" y="2213" width="10" height="140" fill="rgb(143,143,143)"/>
<rect x="599" y="2353" width="10" height="32" fill="rgb(29,29,29)"/>
<rect x="599" y="2385" width="10" height="141" fill="rgb(122,122,122)"/>
</g>
<g filter="url(#n4)">
<rect x="609" y="1185" width="10" height="45" fill="rgb(202,202,202)"/>
<rect x="609" y="1230" width="10" height="12" fill="rgb(96,96,96)"/>
<rect x="609" y="1242" width="10" height="60" fill="rgb(109,109,109)"/>
<rect x="609" y="1302" width="10" height="140" fill="rgb(3,3,3)"/>
<rect x="609" y="1442" width="10" height="2" fill="rgb(43,43,43)"/>
<rect x="609" y="1444" width="10" height="37" fill="rgb(135,135,135)"/>
<rect x="609" y="1481" width="10" height="140" fill="rgb(3,3,3)"/>
<rect x="609" y="1621" width="10" height="96" fill="rgb(82,82,82)"/>
<rect x="609" y="1717" width="10" height="57" fill="rgb(215,215,215)"/>
<rect x="609" y="1774" width="10" height="34" fill="rgb(162,162,162)"/>
<rect x="609" y="1808" width="10" height="140" fill="rgb(16,16,16)"/>
<rect x="609" y="1948" width="10" height="64" fill="rgb(16,16,16)"/>
<rect x="609" y="2012" width="10" height="140" fill="rgb(3,3,3)"/>
<rect x="609" y="2152" width="10" height="61" fill="rgb(16,16,16)"/>
<rect x="609" y="2213" width="10" height="140" fill="rgb(3,3,3)"/>
<rect x="609" y="2353" width="10" height="32" fill="rgb(56,56,56)"/>
<rect x="609" y="2385" width="10" height="141" fill="rgb(3,3,3)"/>
</g>
<g filter="url(#n1)">
<rect x="619" y="1185" width="9" height="45" fill="rgb(135,135,135)"/>
<rect x="619" y="1230" width="9" height="12" fill="rgb(96,96,96)"/>
<rect x="619" y="1242" width="9" height="60" fill="rgb(135,135,135)"/>
<rect x="619" y="1302" width="9" height="140" fill="rgb(3,3,3)"/>
<rect x="619" y="1442" width="9" height="2" fill="rgb(43,43,43)"/>
<rect x="619" y="1444" width="9" height="37" fill="rgb(122,122,122)"/>
<rect x="619" y="1481" width="9" height="140" fill="rgb(16,16,16)"/>
<rect x="619" y="1621" width="9" height="96" fill="rgb(109,109,109)"/>
<rect x="619" y="1717" width="9" height="57" fill="rgb(215,215,215)"/>
<rect x="619" y="1774" width="9" height="34" fill="rgb(162,162,162)"/>
<rect x="619" y="1808" width="9" height="140" fill="rgb(82,82,82)"/>
<rect x="619" y="1948" width="9" height="64" fill="rgb(16,16,16)"/>
<rect x="619" y="2012" width="9" height="140" fill="rgb(3,3,3)"/>
<rect x="619" y="2152" width="9" height="61" fill="rgb(29,29,29)"/>
<rect x="619" y="2213" width="9" height="140" fill="rgb(3,3,3)"/>
<rect x="619" y="2353" width="9" height="32" fill="rgb(43,43,43)"/>
<rect x="619" y="2385" width="9" height="141" fill="rgb(3,3,3)"/>
</g>
<g filter="url(#n3)">
<rect x="628" y="1185" width="10" height="45" fill="rgb(109,109,109)"/>
<rect x="628" y="1230" width="10" height="12" fill="rgb(109,109,109)"/>
<rect x="628" y="1242" width="10" height="60" fill="rgb(122,122,122)"/>
<rect x="628" y="1302" width="10" height="140" fill="rgb(43,43,43)"/>
<rect x="628" y="1442" width="10" height="2" fill="rgb(69,69,69)"/>
<rect x="628" y="1444" width="10" height="37" fill="rgb(109,109,109)"/>
<rect x="628" y="1481" width="10" height="140" fill="rgb(56,56,56)"/>
<rect x="628" y="1621" width="10" height="96" fill="rgb(122,122,122)"/>
<rect x="628" y="1717" width="10" height="57" fill="rgb(189,189,189)"/>
<rect x="628" y="1774" width="10" height="34" fill="rgb(149,149,149)"/>
<rect x="628" y="1808" width="10" height="140" fill="rgb(109,109,109)"/>
<rect x="628" y="1948" width="10" height="64" fill="rgb(16,16,16)"/>
<rect x="628" y="2012" width="10" height="140" fill="rgb(16,16,16)"/>
<rect x="628" y="2152" width="10" height="61" fill="rgb(43,43,43)"/>
<rect x="628" y="2213" width="10" height="140" fill="rgb(21,21,21)"/>
<rect x="628" y="2353" width="10" height="32" fill="rgb(29,29,29)"/>
<rect x="628" y="2385" width="10" height="141" fill="rgb(43,43,43)"/>
</g>
<g filter="url(#n0)">
<rect x="638" y="1185" width="10" height="45" fill="rgb(82,82,82)"/>
<rect x="638" y="1230" width="10" height="12" fill="rgb(96,96,96)"/>
<rect x="638" y="1242" width="10" height="60" fill="rgb(149,149,149)"/>
<rect x="638" y="1302" width="10" height="140" fill="rgb(109,109,109)"/>
<rect x="638" y="1442" width="10" height="2" fill="rgb(69,69,69)"/>
<rect x="638" y="1444" width="10" height="37" fill="rgb(135,135,135)"/>
<rect x="638" y="1481" width="10" height="140" fill="rgb(109,109,109)"/>
<rect x="638" y="1621" width="10" height="96" fill="rgb(202,202,202)"/>
<rect x="638" y="1717" width="10" height="57" fill="rgb(189,189,189)"/>
<rect x="638" y="1774" width="10" height="34" fill="rgb(228,228,228)"/>
<rect x="638" y="1808" width="10" height="140" fill="rgb(215,215,215)"/>
<rect x="638" y="1948" width="10" height="64" fill="rgb(16,16,16)"/>
<rect x="638" y="2012" width="10" height="140" fill="rgb(56,56,56)"/>
<rect x="638" y="2152" width="10" height="61" fill="rgb(56,56,56)"/>
<rect x="638" y="2213" width="10" height="140" fill="rgb(74,74,74)"/>
<rect x="638" y="2353" width="10" height="32" fill="rgb(16,16,16)"/>
<rect x="638" y="2385" width="10" height="141" fill="rgb(82,82,82)"/>
</g>
<g filter="url(#n2)">
<rect x="648" y="1185" width="10" height="45" fill="rgb(56,56,56)"/>
<rect x="648" y="1230" width="10" height="12" fill="rgb(96,96,96)"/>
<rect x="648" y="1242" width="10" height="60" fill="rgb(149,149,149)"/>
<rect x="648" y="1302" width="10" height="140" fill="rgb(122,122,122)"/>
<rect x="648" y="1442" width="10" height="2" fill="rgb(69,69,69)"/>
<rect x="648" y="1444" width="10" height="37" fill="rgb(149,149,149)"/>
<rect x="648" y="1481" width="10" height="140" fill="rgb(122,122,122)"/>
<rect x="648" y="1621" width="10" height="96" fill="rgb(202,202,202)"/>
<rect x="648" y="1717" width="10" height="57" fill="rgb(189,189,189)"/>
<rect x="648" y="1774" width="10" height="34" fill="rgb(202,202,202)"/>
<rect x="648" y="1808" width="10" height="140" fill="rgb(215,215,215)"/>
<rect x="648" y="1948" width="10" height="64" fill="rgb(16,16,16)"/>
<rect x="648" y="2012" width="10" height="140" fill="rgb(82,82,82)"/>
<rect x="648" y="2152" width="10" height="61" fill="rgb(43,43,43)"/>
<rect x="648" y="2213" width="10" height="140" fill="rgb(90,90,90)"/>
<rect x="648" y="2353" width="10" height="32" fill="rgb(16,16,16)"/>
<rect x="648" y="2385" width="10" height="141" fill="rgb(82,82,82)"/>
</g>
<g filter="url(#n4)">
<rect x="658" y="1185" width="10" height="45" fill="rgb(56,56,56)"/>
<rect x="658" y="1230" width="10" height="12" fill="rgb(96,96,96)"/>
<rect x="658" y="1242" width="10" height="60" fill="rgb(149,149,149)"/>
<rect x="658" y="1302" width="10" height="140" fill="rgb(135,135,135)"/>
<rect x="658" y="1442" width="10" height="2" fill="rgb(69,69,69)"/>
<rect x="658" y="1444" width="10" height="37" fill="rgb(149,149,149)"/>
<rect x="658" y="1481" width="10" height="140" fill="rgb(135,135,135)"/>
<rect x="658" y="1621" width="10" height="96" fill="rgb(215,215,215)"/>
<rect x="658" y="1717" width="10" height="57" fill="rgb(175,175,175)"/>
<rect x="658" y="1774" width="10" height="34" fill="rgb(189,189,189)"/>
<rect x="658" y="1808" width="10" height="140" fill="rgb(242,242,242)"/>
<rect x="658" y="1948" width="10" height="64" fill="rgb(3,3,3)"/>
<rect x="658" y="2012" width="10" height="140" fill="rgb(96,96,96)"/>
<rect x="658" y="2152" width="10" height="61" fill="rgb(43,43,43)"/>
<rect x="658" y="2213" width="10" height="140" fill="rgb(101,101,101)"/>
<rect x="658" y="2353" width="10" height="32" fill="rgb(3,3,3)"/>
<rect x="658" y="2385" width="10" height="141" fill="rgb(96,96,96)"/>
</g>
<g filter="url(#n1)">
<rect x="668" y="1185" width="10" height="45" fill="rgb(149,149,149)"/>
<rect x="668" y="1230" width="10" height="12" fill="rgb(3,3,3)"/>
<rect x="668" y="1242" width="10" height="60" fill="rgb(16,16,16)"/>
<rect x="668" y="1302" width="10" height="140" fill="rgb(3,3,3)"/>
<rect x="668" y="1442" width="10" height="2" fill="rgb(3,3,3)"/>
<rect x="668" y="1444" width="10" height="37" fill="rgb(3,3,3)"/>
<rect x="668" y="1481" width="10" height="140" fill="rgb(3,3,3)"/>
<rect x="668" y="1621" width="10" height="96" fill="rgb(3,3,3)"/>
<rect x="668" y="1717" width="10" height="57" fill="rgb(29,29,29)"/>
<rect x="668" y="1774" width="10" height="34" fill="rgb(16,16,16)"/>
<rect x="668" y="1808" width="10" height="140" fill="rgb(3,3,3)"/>
<rect x="668" y="1948" width="10" height="64" fill="rgb(215,215,215)"/>
<rect x="668" y="2012" width="10" height="140" fill="rgb(3,3,3)"/>
<rect x="668" y="2152" width="10" height="61" fill="rgb(69,69,69)"/>
<rect x="668" y="2213" width="10" height="140" fill="rgb(3,3,3)"/>
<rect x="668" y="2353" width="10" height="32" fill="rgb(122,122,122)"/>
<rect x="668" y="2385" width="10" height="141" fill="rgb(3,3,3)"/>
</g>
<g filter="url(#n3)">
<rect x="678" y="1185" width="9" height="45" fill="rgb(135,135,135)"/>
<rect x="678" y="1230" width="9" height="12" fill="rgb(3,3,3)"/>
<rect x="678" y="1242" width="9" height="60" fill="rgb(16,16,16)"/>
<rect x="678" y="1302" width="9" height="140" fill="rgb(3,3,3)"/>
<rect x="678" y="1442" width="9" height="2" fill="rgb(3,3,3)"/>
<rect x="678" y="1444" width="9" height="37" fill="rgb(3,3,3)"/>
<rect x="678" y="1481" width="9" height="140" fill="rgb(3,3,3)"/>
<rect x="678" y="1621" width="9" height="96" fill="rgb(3,3,3)"/>
<rect x="678" y="1717" width="9" height="57" fill="rgb(29,29,29)"/>
<rect x="678" y="1774" width="9" height="34" fill="rgb(16,16,16)"/>
<rect x="678" y="1808" width="9" height="140" fill="rgb(3,3,3)"/>
<rect x="678" y="1948" width="9" height="64" fill="rgb(202,202,202)"/>
<rect x="678" y="2012" width="9" height="140" fill="rgb(3,3,3)"/>
<rect x="678" y="2152" width="9" height="61" fill="rgb(69,69,69)"/>
<rect x="678" y="2213" width="9" height="140" fill="rgb(3,3,3)"/>
<rect x="678" y="2353" width="9" height="32" fill="rgb(109,109,109)"/>
<rect x="678" y="2385" width="9" height="141" fill="rgb(3,3,3)"/>
</g>
<g filter="url(#n0)">
<rect x="687" y="1185" width="10" height="45" fill="rgb(82,82,82)"/>
<rect x="687" y="1230" width="10" height="12" fill="rgb(3,3,3)"/>
<rect x="687" y="1242" width="10" height="60" fill="rgb(29,29,29)"/>
<rect x="687" y="1302" width="10" height="140" fill="rgb(3,3,3)"/>
<rect x="687" y="1442" width="10" height="2" fill="rgb(3,3,3)"/>
<rect x="687" y="1444" width="10" height="37" fill="rgb(3,3,3)"/>
<rect x="687" y="1481" width="10" height="140" fill="rgb(3,3,3)"/>
<rect x="687" y="1621" width="10" height="96" fill="rgb(3,3,3)"/>
<rect x="687" y="1717" width="10" height="57" fill="rgb(3,3,3)"/>
<rect x="687" y="1774" width="10" height="34" fill="rgb(3,3,3)"/>
<rect x="687" y="1808" width="10" height="140" fill="rgb(3,3,3)"/>
<rect x="687" y="1948" width="10" height="64" fill="rgb(189,189,189)"/>
<rect x="687" y="2012" width="10" height="140" fill="rgb(3,3,3)"/>
<rect x="687" y="2152" width="10" height="61" fill="rgb(96,96,96)"/>
<rect x="687" y="2213" width="10" height="140" fill="rgb(3,3,3)"/>
<rect x="687" y="2353" width="10" height="32" fill="rgb(82,82,82)"/>
<rect x="687" y="2385" width="10" height="141" fill="rgb(3,3,3)"/>
</g>
<g filter="url(#n2)">
<rect x="697" y="1185" width="10" height="45" fill="rgb(109,109,109)"/>
<rect x="697" y="1230" width="10" height="12" fill="rgb(3,3,3)"/>
<rect x="697" y="1242" width="10" height="60" fill="rgb(16,16,16)"/>
<rect x="697" y="1302" width="10" height="140" fill="rgb(3,3,3)"/>
<rect x="697" y="1442" width="10" height="2" fill="rgb(3,3,3)"/>
<rect x="697" y="1444" width="10" height="37" fill="rgb(43,43,43)"/>
<rect x="697" y="1481" width="10" height="140" fill="rgb(11,11,11)"/>
<rect x="697" y="1621" width="10" height="96" fill="rgb(16,16,16)"/>
<rect x="697" y="1717" width="10" height="57" fill="rgb(3,3,3)"/>
<rect x="697" y="1774" width="10" height="34" fill="rgb(29,29,29)"/>
<rect x="697" y="1808" width="10" height="140" fill="rgb(8,8,8)"/>
<rect x="697" y="1948" width="10" height="64" fill="rgb(175,175,175)"/>
<rect x="697" y="2012" width="10" height="140" fill="rgb(11,11,11)"/>
<rect x="697" y="2152" width="10" height="61" fill="rgb(149,149,149)"/>
<rect x="697" y="2213" width="10" height="140" fill="rgb(16,16,16)"/>
<rect x="697" y="2353" width="10" height="32" fill="rgb(189,189,189)"/>
<rect x="697" y="2385" width="10" height="141" fill="rgb(16,16,16)"/>
</g>
<g filter="url(#n4)">
<rect x="707" y="1185" width="10" height="45" fill="rgb(96,96,96)"/>
<rect x="707" y="1230" width="10" height="12" fill="rgb(3,3,3)"/>
<rect x="707" y="1242" width="10" height="60" fill="rgb(29,29,29)"/>
<rect x="707" y="1302" width="10" height="140" fill="rgb(16,16,16)"/>
<rect x="707" y="1442" width="10" height="2" fill="rgb(3,3,3)"/>
<rect x="707" y="1444" width="10" height="37" fill="rgb(43,43,43)"/>
<rect x="707" y="1481" width="10" height="140" fill="rgb(11,11,11)"/>
<rect x="707" y="1621" width="10" height="96" fill="rgb(16,16,16)"/>
<rect x="707" y="1717" width="10" height="57" fill="rgb(3,3,3)"/>
<rect x="707" y="1774" width="10" height="34" fill="rgb(29,29,29)"/>
<rect x="707" y="1808" width="10" height="140" fill="rgb(11,11,11)"/>
<rect x="707" y="1948" width="10" height="64" fill="rgb(149,149,149)"/>
<rect x="707" y="2012" width="10" height="140" fill="rgb(16,16,16)"/>
<rect x="707" y="2152" width="10" height="61" fill="rgb(149,149,149)"/>
<rect x="707" y="2213" width="10" height="140" fill="rgb(16,16,16)"/>
<rect x="707" y="2353" width="10" height="32" fill="rgb(149,149,149)"/>
<rect x="707" y="2385" width="10" height="141" fill="rgb(21,21,21)"/>
</g>
<g filter="url(#n1)">
<rect x="717" y="1185" width="10" height="45" fill="rgb(69,69,69)"/>
<rect x="717" y="1230" width="10" height="12" fill="rgb(3,3,3)"/>
<rect x="717" y="1242" width="10" height="60" fill="rgb(29,29,29)"/>
<rect x="717" y="1302" width="10" height="140" fill="rgb(29,29,29)"/>
<rect x="717" y="1442" width="10" height="2" fill="rgb(3,3,3)"/>
<rect x="717" y="1444" width="10" height="37" fill="rgb(16,16,16)"/>
<rect x="717" y="1481" width="10" height="140" fill="rgb(16,16,16)"/>
<rect x="717" y="1621" width="10" height="96" fill="rgb(16,16,16)"/>
<rect x="717" y="1717" width="10" height="57" fill="rgb(3,3,3)"/>
<rect x="717" y="1774" width="10" height="34" fill="rgb(29,29,29)"/>
<rect x="717" y="1808" width="10" height="140" fill="rgb(16,16,16)"/>
<rect x="717" y="1948" width="10" height="64" fill="rgb(122,122,122)"/>
<rect x="717" y="2012" width="10" height="140" fill="rgb(16,16,16)"/>
<rect x="717" y="2152" width="10" height="61" fill="rgb(149,149,149)"/>
<rect x="717" y="2213" width="10" height="140" fill="rgb(21,21,21)"/>
<rect x="717" y="2353" width="10" height="32" fill="rgb(109,109,109)"/>
<rect x="717" y="2385" width="10" height="141" fill="rgb(29,29,29)"/>
</g>
<g filter="url(#n3)">
<rect x="727" y="1185" width="10" height="45" fill="rgb(56,56,56)"/>
<rect x="727" y="1230" width="10" height="12" fill="rgb(3,3,3)"/>
<rect x="727" y="1242" width="10" height="60" fill="rgb(29,29,29)"/>
<rect x="727" y="1302" width="10" height="140" fill="rgb(56,56,56)"/>
<rect x="727" y="1442" width="10" height="2" fill="rgb(16,16,16)"/>
<rect x="727" y="1444" width="10" height="37" fill="rgb(56,56,56)"/>
<rect x="727" y="1481" width="10" height="140" fill="rgb(43,43,43)"/>
<rect x="727" y="1621" width="10" height="96" fill="rgb(43,43,43)"/>
<rect x="727" y="1717" width="10" height="57" fill="rgb(16,16,16)"/>
<rect x="727" y="1774" width="10" height="34" fill="rgb(16,16,16)"/>
<rect x="727" y="1808" width="10" height="140" fill="rgb(43,43,43)"/>
<rect x="727" y="1948" width="10" height="64" fill="rgb(122,122,122)"/>
<rect x="727" y="2012" width="10" height="140" fill="rgb(43,43,43)"/>
<rect x="727" y="2152" width="10" height="61" fill="rgb(189,189,189)"/>
<rect x="727" y="2213" width="10" height="140" fill="rgb(69,69,69)"/>
<rect x="727" y="2353" width="10" height="32" fill="rgb(122,122,122)"/>
<rect x="727" y="2385" width="10" height="141" fill="rgb(69,69,69)"/>
</g>
<g filter="url(#n0)">
<rect x="737" y="1185" width="9" height="45" fill="rgb(43,43,43)"/>
<rect x="737" y="1230" width="9" height="12" fill="rgb(3,3,3)"/>
<rect x="737" y="1242" width="9" height="60" fill="rgb(56,56,56)"/>
<rect x="737" y="1302" width="9" height="140" fill="rgb(109,109,109)"/>
<rect x="737" y="1442" width="9" height="2" fill="rgb(16,16,16)"/>
<rect x="737" y="1444" width="9" height="37" fill="rgb(109,109,109)"/>
<rect x="737" y="1481" width="9" height="140" fill="rgb(82,82,82)"/>
<rect x="737" y="1621" width="9" height="96" fill="rgb(69,69,69)"/>
<rect x="737" y="1717" width="9" height="57" fill="rgb(16,16,16)"/>
<rect x="737" y="1774" width="9" height="34" fill="rgb(43,43,43)"/>
<rect x="737" y="1808" width="9" height="140" fill="rgb(96,96,96)"/>
<rect x="737" y="1948" width="9" height="64" fill="rgb(122,122,122)"/>
<rect x="737" y="2012" width="9" height="140" fill="rgb(96,96,96)"/>
<rect x="737" y="2152" width="9" height="61" fill="rgb(215,215,215)"/>
<rect x="737" y="2213" width="9" height="140" fill="rgb(135,135,135)"/>
<rect x="737" y="2353" width="9" height="32" fill="rgb(122,122,122)"/>
<rect x="737" y="2385" width="9" height="141" fill="rgb(122,122,122)"/>
</g>
<g filter="url(#n2)">
<rect x="746" y="1185" width="10" height="45" fill="rgb(16,16,16)"/>
<rect x="746" y="1230" width="10" height="12" fill="rgb(3,3,3)"/>
<rect x="746" y="1242" width="10" height="60" fill="rgb(96,96,96)"/>
<rect x="746" y="1302" width="10" height="140" fill="rgb(135,135,135)"/>
<rect x="746" y="1442" width="10" height="2" fill="rgb(16,16,16)"/>
<rect x="746" y="1444" width="10" height="37" fill="rgb(82,82,82)"/>
<rect x="746" y="1481" width="10" height="140" fill="rgb(96,96,96)"/>
<rect x="746" y="1621" width="10" height="96" fill="rgb(82,82,82)"/>
<rect x="746" y="1717" width="10" height="57" fill="rgb(29,29,29)"/>
<rect x="746" y="1774" width="10" height="34" fill="rgb(29,29,29)"/>
<rect x="746" y="1808" width="10" height="140" fill="rgb(109,109,109)"/>
<rect x="746" y="1948" width="10" height="64" fill="rgb(109,109,109)"/>
<rect x="746" y="2012" width="10" height="140" fill="rgb(189,189,189)"/>
<rect x="746" y="2152" width="10" height="61" fill="rgb(189,189,189)"/>
<rect x="746" y="2213" width="10" height="140" fill="rgb(202,202,202)"/>
<rect x="746" y="2353" width="10" height="32" fill="rgb(96,96,96)"/>
<rect x="746" y="2385" width="10" height="141" fill="rgb(135,135,135)"/>
</g>
<g filter="url(#n4)">
<rect x="756" y="1185" width="10" height="45" fill="rgb(3,3,3)"/>
<rect x="756" y="1230" width="10" height="12" fill="rgb(3,3,3)"/>
<rect x="756" y="1242" width="10" height="60" fill="rgb(96,96,96)"/>
<rect x="756" y="1302" width="10" height="140" fill="rgb(135,135,135)"/>
<rect x="756" y="1442" width="10" height="2" fill="rgb(3,3,3)"/>
<rect x="756" y="1444" width="10" height="37" fill="rgb(82,82,82)"/>
<rect x="756" y="1481" width="10" height="140" fill="rgb(109,109,109)"/>
<rect x="756" y="1621" width="10" height="96" fill="rgb(82,82,82)"/>
<rect x="756" y="1717" width="10" height="57" fill="rgb(43,43,43)"/>
<rect x="756" y="1774" width="10" height="34" fill="rgb(16,16,16)"/>
<rect x="756" y="1808" width="10" height="140" fill="rgb(96,96,96)"/>
<rect x="756" y="1948" width="10" height="64" fill="rgb(109,109,109)"/>
<rect x="756" y="2012" width="10" height="140" fill="rgb(242,242,242)"/>
<rect x="756" y="2152" width="10" height="61" fill="rgb(175,175,175)"/>
<rect x="756" y="2213" width="10" height="140" fill="rgb(228,228,228)"/>
<rect x="756" y="2353" width="10" height="32" fill="rgb(82,82,82)"/>
<rect x="756" y="2385" width="10" height="141" fill="rgb(135,135,135)"/>
</g>
<g filter="url(#n1)">
<rect x="766" y="1185" width="10" height="45" fill="rgb(149,149,149)"/>
<rect x="766" y="1230" width="10" height="12" fill="rgb(16,16,16)"/>
<rect x="766" y="1242" width="10" height="60" fill="rgb(3,3,3)"/>
<rect x="766" y="1302" width="10" height="140" fill="rgb(3,3,3)"/>
<rect x="766" y="1442" width="10" height="2" fill="rgb(3,3,3)"/>
<rect x="766" y="1444" width="10" height="37" fill="rgb(43,43,43)"/>
<rect x="766" y="1481" width="10" height="140" fill="rgb(3,3,3)"/>
<rect x="766" y="1621" width="10" height="96" fill="rgb(8,8,8)"/>
<rect x="766" y="1717" width="10" height="57" fill="rgb(16,16,16)"/>
<rect x="766" y="1774" width="10" height="34" fill="rgb(43,43,43)"/>
<rect x="766" y="1808" width="10" height="140" fill="rgb(3,3,3)"/>
<rect x="766" y="1948" width="10" height="64" fill="rgb(215,215,215)"/>
<rect x="766" y="2012" width="10" height="140" fill="rgb(3,3,3)"/>
<rect x="766" y="2152" width="10" height="61" fill="rgb(175,175,175)"/>
<rect x="766" y="2213" width="10" height="140" fill="rgb(3,3,3)"/>
<rect x="766" y="2353" width="10" height="32" fill="rgb(215,215,215)"/>
<rect x="766" y="2385" width="10" height="141" fill="rgb(3,3,3)"/>
</g>
<g filter="url(#n3)">
<rect x="776" y="1185" width="10" height="45" fill="rgb(109,109,109)"/>
<rect x="776" y="1230" width="10" height="12" fill="rgb(3,3,3)"/>
<rect x="776" y="1242" width="10" height="60" fill="rgb(16,16,16)"/>
<rect x="776" y="1302" width="10" height="140" fill="rgb(3,3,3)"/>
<rect x="776" y="1442" width="10" height="2" fill="rgb(3,3,3)"/>
<rect x="776" y="1444" width="10" height="37" fill="rgb(29,29,29)"/>
<rect x="776" y="1481" width="10" height="140" fill="rgb(8,8,8)"/>
<rect x="776" y="1621" width="10" height="96" fill="rgb(8,8,8)"/>
<rect x="776" y="1717" width="10" height="57" fill="rgb(8,8,8)"/>
<rect x="776" y="1774" width="10" height="34" fill="rgb(43,43,43)"/>
<rect x="776" y="1808" width="10" height="140" fill="rgb(8,8,8)"/>
<rect x="776" y="1948" width="10" height="64" fill="rgb(175,175,175)"/>
<rect x="776" y="2012" width="10" height="140" fill="rgb(8,8,8)"/>
<rect x="776" y="2152" width="10" height="61" fill="rgb(162,162,162)"/>
<rect x="776" y="2213" width="10" height="140" fill="rgb(11,11,11)"/>
<rect x="776" y="2353" width="10" height="32" fill="rgb(175,175,175)"/>
<rect x="776" y="2385" width="10" height="141" fill="rgb(16,16,16)"/>
</g>
<g filter="url(#n0)">
<rect x="786" y="1185" width="10" height="45" fill="rgb(82,82,82)"/>
<rect x="786" y="1230" width="10" height="12" fill="rgb(3,3,3)"/>
<rect x="786" y="1242" width="10" height="60" fill="rgb(43,43,43)"/>
<rect x="786" y="1302" width="10" height="140" fill="rgb(29,29,29)"/>
<rect x="786" y="1442" width="10" height="2" fill="rgb(16,16,16)"/>
<rect x="786" y="1444" width="10" height="37" fill="rgb(56,56,56)"/>
<rect x="786" y="1481" width="10" height="140" fill="rgb(21,21,21)"/>
<rect x="786" y="1621" width="10" height="96" fill="rgb(29,29,29)"/>
<rect x="786" y="1717" width="10" height="57" fill="rgb(16,16,16)"/>
<rect x="786" y="1774" width="10" height="34" fill="rgb(29,29,29)"/>
<rect x="786" y="1808" width="10" height="140" fill="rgb(29,29,29)"/>
<rect x="786" y="1948" width="10" height="64" fill="rgb(149,149,149)"/>
<rect x="786" y="2012" width="10" height="140" fill="rgb(16,16,16)"/>
<rect x="786" y="2152" width="10" height="61" fill="rgb(162,162,162)"/>
<rect x="786" y="2213" width="10" height="140" fill="rgb(21,21,21)"/>
<rect x="786" y="2353" width="10" height="32" fill="rgb(149,149,149)"/>
<rect x="786" y="2385" width="10" height="141" fill="rgb(43,43,43)"/>
</g>
<g filter="url(#n2)">
<rect x="796" y="1185" width="9" height="45" fill="rgb(69,69,69)"/>
<rect x="796" y="1230" width="9" height="12" fill="rgb(3,3,3)"/>
<rect x="796" y="1242" width="9" height="60" fill="rgb(56,56,56)"/>
<rect x="796" y="1302" width="9" height="140" fill="rgb(69,69,69)"/>
<rect x="796" y="1442" width="9" height="2" fill="rgb(16,16,16)"/>
<rect x="796" y="1444" width="9" height="37" fill="rgb(96,96,96)"/>
<rect x="796" y="1481" width="9" height="140" fill="rgb(69,69,69)"/>
<rect x="796" y="1621" width="9" height="96" fill="rgb(69,69,69)"/>
<rect x="796" y="1717" width="9" height="57" fill="rgb(29,29,29)"/>
<rect x="796" y="1774" width="9" height="34" fill="rgb(29,29,29)"/>
<rect x="796" y="1808" width="9" height="140" fill="rgb(82,82,82)"/>
<rect x="796" y="1948" width="9" height="64" fill="rgb(135,135,135)"/>
<rect x="796" y="2012" width="9" height="140" fill="rgb(56,56,56)"/>
<rect x="796" y="2152" width="9" height="61" fill="rgb(175,175,175)"/>
<rect x="796" y="2213" width="9" height="140" fill="rgb(69,69,69)"/>
<rect x="796" y="2353" width="9" height="32" fill="rgb(162,162,162)"/>
<rect x="796" y="2385" width="9" height="141" fill="rgb(109,109,109)"/>
</g>
<g filter="url(#n4)">
<rect x="805" y="1185" width="10" height="45" fill="rgb(69,69,69)"/>
<rect x="805" y="1230" width="10" height="12" fill="rgb(3,3,3)"/>
<rect x="805" y="1242" width="10" height="60" fill="rgb(56,56,56)"/>
<rect x="805" y="1302" width="10" height="140" fill="rgb(96,96,96)"/>
<rect x="805" y="1442" width="10" height="2" fill="rgb(16,16,16)"/>
<rect x="805" y="1444" width="10" height="37" fill="rgb(109,109,109)"/>
<rect x="805" y="1481" width="10" height="140" fill="rgb(96,96,96)"/>
<rect x="805" y="1621" width="10" height="96" fill="rgb(82,82,82)"/>
<rect x="805" y="1717" width="10" height="57" fill="rgb(29,29,29)"/>
<rect x="805" y="1774" width="10" height="34" fill="rgb(29,29,29)"/>
<rect x="805" y="1808" width="10" height="140" fill="rgb(109,109,109)"/>
<rect x="805" y="1948" width="10" height="64" fill="rgb(149,149,149)"/>
<rect x="805" y="2012" width="10" height="140" fill="rgb(109,109,109)"/>
<rect x="805" y="2152" width="10" height="61" fill="rgb(202,202,202)"/>
<rect x="805" y="2213" width="10" height="140" fill="rgb(135,135,135)"/>
<rect x="805" y="2353" width="10" height="32" fill="rgb(162,162,162)"/>
<rect x="805" y="2385" width="10" height="141" fill="rgb(215,215,215)"/>
</g>
<g filter="url(#n1)">
<rect x="815" y="1185" width="10" height="45" fill="rgb(69,69,69)"/>
<rect x="815" y="1230" width="10" height="12" fill="rgb(3,3,3)"/>
<rect x="815" y="1242" width="10" height="60" fill="rgb(69,69,69)"/>
<rect x="815" y="1302" width="10" height="140" fill="rgb(96,96,96)"/>
<rect x="815" y="1442" width="10" height="2" fill="rgb(16,16,16)"/>
<rect x="815" y="1444" width="10" height="37" fill="rgb(82,82,82)"/>
<rect x="815" y="1481" width="10" height="140" fill="rgb(82,82,82)"/>
<rect x="815" y="1621" width="10" height="96" fill="rgb(82,82,82)"/>
<rect x="815" y="1717" width="10" height="57" fill="rgb(16,16,16)"/>
<rect x="815" y="1774" width="10" height="34" fill="rgb(43,43,43)"/>
<rect x="815" y="1808" width="10" height="140" fill="rgb(96,96,96)"/>
<rect x="815" y="1948" width="10" height="64" fill="rgb(122,122,122)"/>
<rect x="815" y="2012" width="10" height="140" fill="rgb(135,135,135)"/>
<rect x="815" y="2152" width="10" height="61" fill="rgb(175,175,175)"/>
<rect x="815" y="2213" width="10" height="140" fill="rgb(149,149,149)"/>
<rect x="815" y="2353" width="10" height="32" fill="rgb(135,135,135)"/>
<rect x="815" y="2385" width="10" height="141" fill="rgb(215,215,215)"/>
</g>
<g filter="url(#n3)">
<rect x="825" y="1185" width="10" height="45" fill="rgb(56,56,56)"/>
<rect x="825" y="1230" width="10" height="12" fill="rgb(3,3,3)"/>
<rect x="825" y="1242" width="10" height="60" fill="rgb(69,69,69)"/>
<rect x="825" y="1302" width="10" height="140" fill="rgb(122,122,122)"/>
<rect x="825" y="1442" width="10" height="2" fill="rgb(16,16,16)"/>
<rect x="825" y="1444" width="10" height="37" fill="rgb(82,82,82)"/>
<rect x="825" y="1481" width="10" height="140" fill="rgb(96,96,96)"/>
<rect x="825" y="1621" width="10" height="96" fill="rgb(82,82,82)"/>
<rect x="825" y="1717" width="10" height="57" fill="rgb(21,21,21)"/>
<rect x="825" y="1774" width="10" height="34" fill="rgb(43,43,43)"/>
<rect x="825" y="1808" width="10" height="140" fill="rgb(96,96,96)"/>
<rect x="825" y="1948" width="10" height="64" fill="rgb(122,122,122)"/>
<rect x="825" y="2012" width="10" height="140" fill="rgb(149,149,149)"/>
<rect x="825" y="2152" width="10" height="61" fill="rgb(175,175,175)"/>
<rect x="825" y="2213" width="10" height="140" fill="rgb(162,162,162)"/>
<rect x="825" y="2353" width="10" height="32" fill="rgb(122,122,122)"/>
<rect x="825" y="2385" width="10" height="141" fill="rgb(228,228,228)"/>
</g>
<text transform="translate(104.02,2531) rotate(-90)" font-size="7.2" text-anchor="end" stroke="#000" stroke-width="0.18">E13_E16.5CGE GABA</text>
<text transform="translate(113.86,2531) rotate(-90)" font-size="7.2" text-anchor="end" stroke="#000" stroke-width="0.18">E17_E18.5CGE GABA</text>
<text transform="translate(123.69,2531) rotate(-90)" font-size="7.2" text-anchor="end" stroke="#000" stroke-width="0.18">P0_P3CGE GABA</text>
<text transform="translate(133.53,2531) rotate(-90)" font-size="7.2" text-anchor="end" stroke="#000" stroke-width="0.18">P4_P6CGE GABA</text>
<text transform="translate(143.37,2531) rotate(-90)" font-size="7.2" text-anchor="end" stroke="#000" stroke-width="0.18">P0_P3Lamp5 Gaba</text>
<text transform="translate(153.21,2531) rotate(-90)" font-size="7.2" text-anchor="end" stroke="#000" stroke-width="0.18">P4_P6Lamp5 Gaba</text>
<text transform="translate(163.05,2531) rotate(-90)" font-size="7.2" text-anchor="end" stroke="#000" stroke-width="0.18">P7_P10Lamp5 Gaba</text>
<text transform="translate(172.88,2531) rotate(-90)" font-size="7.2" text-anchor="end" stroke="#000" stroke-width="0.18">P11_P15Lamp5 Gaba</text>
<text transform="translate(182.72,2531) rotate(-90)" font-size="7.2" text-anchor="end" stroke="#000" stroke-width="0.18">P54_P68Lamp5 Gaba</text>
<text transform="translate(192.56,2531) rotate(-90)" font-size="7.2" text-anchor="end" stroke="#000" stroke-width="0.18">E17_E18.5Sncg Gaba</text>
<text transform="translate(202.40,2531) rotate(-90)" font-size="7.2" text-anchor="end" stroke="#000" stroke-width="0.18">P0_P3Sncg Gaba</text>
<text transform="translate(212.24,2531) rotate(-90)" font-size="7.2" text-anchor="end" stroke="#000" stroke-width="0.18">P4_P6Sncg Gaba</text>
<text transform="translate(222.07,2531) rotate(-90)" font-size="7.2" text-anchor="end" stroke="#000" stroke-width="0.18">P11_P15Sncg Gaba</text>
<text transform="translate(231.91,2531) rotate(-90)" font-size="7.2" text-anchor="end" stroke="#000" stroke-width="0.18">P54_P68Sncg Gaba</text>
<text transform="translate(241.75,2531) rotate(-90)" font-size="7.2" text-anchor="end" stroke="#000" stroke-width="0.18">E17_E18.5Vip Gaba</text>
<text transform="translate(251.59,2531) rotate(-90)" font-size="7.2" text-anchor="end" stroke="#000" stroke-width="0.18">P0_P3Vip Gaba</text>
<text transform="translate(261.42,2531) rotate(-90)" font-size="7.2" text-anchor="end" stroke="#000" stroke-width="0.18">P4_P6Vip Gaba</text>
<text transform="translate(271.26,2531) rotate(-90)" font-size="7.2" text-anchor="end" stroke="#000" stroke-width="0.18">P7_P10Vip Gaba</text>
<text transform="translate(281.10,2531) rotate(-90)" font-size="7.2" text-anchor="end" stroke="#000" stroke-width="0.18">P11_P15Vip Gaba</text>
<text transform="translate(290.94,2531) rotate(-90)" font-size="7.2" text-anchor="end" stroke="#000" stroke-width="0.18">P54_P68Vip Gaba</text>
<text transform="translate(300.78,2531) rotate(-90)" font-size="7.2" text-anchor="end" stroke="#000" stroke-width="0.18">E13_E16.5MGE GABA</text>
<text transform="translate(310.61,2531) rotate(-90)" font-size="7.2" text-anchor="end" stroke="#000" stroke-width="0.18">E17_E18.5MGE GABA</text>
<text transform="translate(320.45,2531) rotate(-90)" font-size="7.2" text-anchor="end" stroke="#000" stroke-width="0.18">P0_P3MGE GABA</text>
<text transform="translate(330.29,2531) rotate(-90)" font-size="7.2" text-anchor="end" stroke="#000" stroke-width="0.18">E13_E16.5Pvalb Gaba</text>
<text transform="translate(340.13,2531) rotate(-90)" font-size="7.2" text-anchor="end" stroke="#000" stroke-width="0.18">E17_E18.5Pvalb Gaba</text>
<text transform="translate(349.96,2531) rotate(-90)" font-size="7.2" text-anchor="end" stroke="#000" stroke-width="0.18">P0_P3Pvalb Gaba</text>
<text transform="translate(359.80,2531) rotate(-90)" font-size="7.2" text-anchor="end" stroke="#000" stroke-width="0.18">P4_P6Pvalb Gaba</text>
<text transform="translate(369.64,2531) rotate(-90)" font-size="7.2" text-anchor="end" stroke="#000" stroke-width="0.18">P7_P10Pvalb Gaba</text>
<text transform="translate(379.48,2531) rotate(-90)" font-size="7.2" text-anchor="end" stroke="#000" stroke-width="0.18">P11_P15Pvalb Gaba</text>
<text transform="translate(389.32,2531) rotate(-90)" font-size="7.2" text-anchor="end" stroke="#000" stroke-width="0.18">P54_P68Pvalb Gaba</text>
<text transform="translate(399.15,2531) rotate(-90)" font-size="7.2" text-anchor="end" stroke="#000" stroke-width="0.18">E13_E16.5Sst Gaba</text>
<text transform="translate(408.99,2531) rotate(-90)" font-size="7.2" text-anchor="end" stroke="#000" stroke-width="0.18">E17_E18.5Sst Gaba</text>
<text transform="translate(418.83,2531) rotate(-90)" font-size="7.2" text-anchor="end" stroke="#000" stroke-width="0.18">P0_P3Sst Gaba</text>
<text transform="translate(428.67,2531) rotate(-90)" font-size="7.2" text-anchor="end" stroke="#000" stroke-width="0.18">P4_P6Sst Gaba</text>
<text transform="translate(438.51,2531) rotate(-90)" font-size="7.2" text-anchor="end" stroke="#000" stroke-width="0.18">P7_P10Sst Gaba</text>
<text transform="translate(448.34,2531) rotate(-90)" font-size="7.2" text-anchor="end" stroke="#000" stroke-width="0.18">P11_P15Sst Gaba</text>
<text transform="translate(458.18,2531) rotate(-90)" font-size="7.2" text-anchor="end" stroke="#000" stroke-width="0.18">P54_P68Sst Gaba</text>
<text transform="translate(478.42,2531) rotate(-90)" font-size="7.2" text-anchor="end" stroke="#000" stroke-width="0.18">E13_E16.5CGE GABA</text>
<text transform="translate(488.26,2531) rotate(-90)" font-size="7.2" text-anchor="end" stroke="#000" stroke-width="0.18">E17_E18.5CGE GABA</text>
<text transform="translate(498.09,2531) rotate(-90)" font-size="7.2" text-anchor="end" stroke="#000" stroke-width="0.18">P0_P3CGE GABA</text>
<text transform="translate(507.93,2531) rotate(-90)" font-size="7.2" text-anchor="end" stroke="#000" stroke-width="0.18">P4_P6CGE GABA</text>
<text transform="translate(517.77,2531) rotate(-90)" font-size="7.2" text-anchor="end" stroke="#000" stroke-width="0.18">P0_P3Lamp5 Gaba</text>
<text transform="translate(527.61,2531) rotate(-90)" font-size="7.2" text-anchor="end" stroke="#000" stroke-width="0.18">P4_P6Lamp5 Gaba</text>
<text transform="translate(537.45,2531) rotate(-90)" font-size="7.2" text-anchor="end" stroke="#000" stroke-width="0.18">P7_P10Lamp5 Gaba</text>
<text transform="translate(547.28,2531) rotate(-90)" font-size="7.2" text-anchor="end" stroke="#000" stroke-width="0.18">P11_P15Lamp5 Gaba</text>
<text transform="translate(557.12,2531) rotate(-90)" font-size="7.2" text-anchor="end" stroke="#000" stroke-width="0.18">P54_P68Lamp5 Gaba</text>
<text transform="translate(566.96,2531) rotate(-90)" font-size="7.2" text-anchor="end" stroke="#000" stroke-width="0.18">E17_E18.5Sncg Gaba</text>
<text transform="translate(576.80,2531) rotate(-90)" font-size="7.2" text-anchor="end" stroke="#000" stroke-width="0.18">P0_P3Sncg Gaba</text>
<text transform="translate(586.64,2531) rotate(-90)" font-size="7.2" text-anchor="end" stroke="#000" stroke-width="0.18">P4_P6Sncg Gaba</text>
<text transform="translate(596.47,2531) rotate(-90)" font-size="7.2" text-anchor="end" stroke="#000" stroke-width="0.18">P11_P15Sncg Gaba</text>
<text transform="translate(606.31,2531) rotate(-90)" font-size="7.2" text-anchor="end" stroke="#000" stroke-width="0.18">P54_P68Sncg Gaba</text>
<text transform="translate(616.15,2531) rotate(-90)" font-size="7.2" text-anchor="end" stroke="#000" stroke-width="0.18">E17_E18.5Vip Gaba</text>
<text transform="translate(625.99,2531) rotate(-90)" font-size="7.2" text-anchor="end" stroke="#000" stroke-width="0.18">P0_P3Vip Gaba</text>
<text transform="translate(635.82,2531) rotate(-90)" font-size="7.2" text-anchor="end" stroke="#000" stroke-width="0.18">P4_P6Vip Gaba</text>
<text transform="translate(645.66,2531) rotate(-90)" font-size="7.2" text-anchor="end" stroke="#000" stroke-width="0.18">P7_P10Vip Gaba</text>
<text transform="translate(655.50,2531) rotate(-90)" font-size="7.2" text-anchor="end" stroke="#000" stroke-width="0.18">P11_P15Vip Gaba</text>
<text transform="translate(665.34,2531) rotate(-90)" font-size="7.2" text-anchor="end" stroke="#000" stroke-width="0.18">P54_P68Vip Gaba</text>
<text transform="translate(675.18,2531) rotate(-90)" font-size="7.2" text-anchor="end" stroke="#000" stroke-width="0.18">E13_E16.5MGE GABA</text>
<text transform="translate(685.01,2531) rotate(-90)" font-size="7.2" text-anchor="end" stroke="#000" stroke-width="0.18">E17_E18.5MGE GABA</text>
<text transform="translate(694.85,2531) rotate(-90)" font-size="7.2" text-anchor="end" stroke="#000" stroke-width="0.18">P0_P3MGE GABA</text>
<text transform="translate(704.69,2531) rotate(-90)" font-size="7.2" text-anchor="end" stroke="#000" stroke-width="0.18">E13_E16.5Pvalb Gaba</text>
<text transform="translate(714.53,2531) rotate(-90)" font-size="7.2" text-anchor="end" stroke="#000" stroke-width="0.18">E17_E18.5Pvalb Gaba</text>
<text transform="translate(724.36,2531) rotate(-90)" font-size="7.2" text-anchor="end" stroke="#000" stroke-width="0.18">P0_P3Pvalb Gaba</text>
<text transform="translate(734.20,2531) rotate(-90)" font-size="7.2" text-anchor="end" stroke="#000" stroke-width="0.18">P4_P6Pvalb Gaba</text>
<text transform="translate(744.04,2531) rotate(-90)" font-size="7.2" text-anchor="end" stroke="#000" stroke-width="0.18">P7_P10Pvalb Gaba</text>
<text transform="translate(753.88,2531) rotate(-90)" font-size="7.2" text-anchor="end" stroke="#000" stroke-width="0.18">P11_P15Pvalb Gaba</text>
<text transform="translate(763.72,2531) rotate(-90)" font-size="7.2" text-anchor="end" stroke="#000" stroke-width="0.18">P54_P68Pvalb Gaba</text>
<text transform="translate(773.55,2531) rotate(-90)" font-size="7.2" text-anchor="end" stroke="#000" stroke-width="0.18">E13_E16.5Sst Gaba</text>
<text transform="translate(783.39,2531) rotate(-90)" font-size="7.2" text-anchor="end" stroke="#000" stroke-width="0.18">E17_E18.5Sst Gaba</text>
<text transform="translate(793.23,2531) rotate(-90)" font-size="7.2" text-anchor="end" stroke="#000" stroke-width="0.18">P0_P3Sst Gaba</text>
<text transform="translate(803.07,2531) rotate(-90)" font-size="7.2" text-anchor="end" stroke="#000" stroke-width="0.18">P4_P6Sst Gaba</text>
<text transform="translate(812.91,2531) rotate(-90)" font-size="7.2" text-anchor="end" stroke="#000" stroke-width="0.18">P7_P10Sst Gaba</text>
<text transform="translate(822.74,2531) rotate(-90)" font-size="7.2" text-anchor="end" stroke="#000" stroke-width="0.18">P11_P15Sst Gaba</text>
<text transform="translate(832.58,2531) rotate(-90)" font-size="7.2" text-anchor="end" stroke="#000" stroke-width="0.18">P54_P68Sst Gaba</text>
<text x="957.7" y="1056" font-size="39" font-weight="bold" fill="#000">c</text>
<text x="1264" y="1063.4" font-size="27" font-weight="bold" fill="#000">RG/IP/Glia subclasses</text>
<text x="1049.3" y="1108.8" font-size="27" fill="#000">ATAC peak accessibility</text>
<text x="1426" y="1108.8" font-size="27" fill="#000">RNA gene expression</text>
<rect x="1053.00" y="1127" width="11.02" height="25.3" fill="#e8875e"/>
<rect x="1053.00" y="1154.7" width="11.02" height="25.0" fill="#f9a96a"/>
<rect x="1063.72" y="1127" width="11.02" height="25.3" fill="#b8a206"/>
<rect x="1063.72" y="1154.7" width="11.02" height="25.0" fill="#f9a96a"/>
<rect x="1074.45" y="1127" width="11.02" height="25.3" fill="#98ec44"/>
<rect x="1074.45" y="1154.7" width="11.02" height="25.0" fill="#f9a96a"/>
<rect x="1085.17" y="1127" width="11.02" height="25.3" fill="#e8875e"/>
<rect x="1085.17" y="1154.7" width="11.02" height="25.0" fill="#9cc6e1"/>
<rect x="1095.89" y="1127" width="11.02" height="25.3" fill="#b8a206"/>
<rect x="1095.89" y="1154.7" width="11.02" height="25.0" fill="#9cc6e1"/>
<rect x="1106.62" y="1127" width="11.02" height="25.3" fill="#98ec44"/>
<rect x="1106.62" y="1154.7" width="11.02" height="25.0" fill="#9cc6e1"/>
<rect x="1117.34" y="1127" width="11.02" height="25.3" fill="#70bf7e"/>
<rect x="1117.34" y="1154.7" width="11.02" height="25.0" fill="#9cc6e1"/>
<rect x="1128.06" y="1127" width="11.02" height="25.3" fill="#e8875e"/>
<rect x="1128.06" y="1154.7" width="11.02" height="25.0" fill="#d2d8a0"/>
<rect x="1138.79" y="1127" width="11.02" height="25.3" fill="#b8a206"/>
<rect x="1138.79" y="1154.7" width="11.02" height="25.0" fill="#d2d8a0"/>
<rect x="1149.51" y="1127" width="11.02" height="25.3" fill="#98ec44"/>
<rect x="1149.51" y="1154.7" width="11.02" height="25.0" fill="#d2d8a0"/>
<rect x="1160.24" y="1127" width="11.02" height="25.3" fill="#70bf7e"/>
<rect x="1160.24" y="1154.7" width="11.02" height="25.0" fill="#d2d8a0"/>
<rect x="1170.96" y="1127" width="11.02" height="25.3" fill="#e8875e"/>
<rect x="1170.96" y="1154.7" width="11.02" height="25.0" fill="#637a38"/>
<rect x="1181.68" y="1127" width="11.02" height="25.3" fill="#b8a206"/>
<rect x="1181.68" y="1154.7" width="11.02" height="25.0" fill="#637a38"/>
<rect x="1192.41" y="1127" width="11.02" height="25.3" fill="#98ec44"/>
<rect x="1192.41" y="1154.7" width="11.02" height="25.0" fill="#637a38"/>
<rect x="1203.13" y="1127" width="11.02" height="25.3" fill="#70bf7e"/>
<rect x="1203.13" y="1154.7" width="11.02" height="25.0" fill="#637a38"/>
<rect x="1213.85" y="1127" width="11.02" height="25.3" fill="#2c986f"/>
<rect x="1213.85" y="1154.7" width="11.02" height="25.0" fill="#637a38"/>
<rect x="1224.58" y="1127" width="11.02" height="25.3" fill="#7fc0d6"/>
<rect x="1224.58" y="1154.7" width="11.02" height="25.0" fill="#637a38"/>
<rect x="1235.30" y="1127" width="11.02" height="25.3" fill="#c90303"/>
<rect x="1235.30" y="1154.7" width="11.02" height="25.0" fill="#637a38"/>
<rect x="1246.02" y="1127" width="11.02" height="25.3" fill="#e8875e"/>
<rect x="1246.02" y="1154.7" width="11.02" height="25.0" fill="#fd2ccb"/>
<rect x="1256.75" y="1127" width="11.02" height="25.3" fill="#b8a206"/>
<rect x="1256.75" y="1154.7" width="11.02" height="25.0" fill="#fd2ccb"/>
<rect x="1267.47" y="1127" width="11.02" height="25.3" fill="#98ec44"/>
<rect x="1267.47" y="1154.7" width="11.02" height="25.0" fill="#fd2ccb"/>
<rect x="1278.19" y="1127" width="11.02" height="25.3" fill="#70bf7e"/>
<rect x="1278.19" y="1154.7" width="11.02" height="25.0" fill="#fd2ccb"/>
<rect x="1288.92" y="1127" width="11.02" height="25.3" fill="#2c986f"/>
<rect x="1288.92" y="1154.7" width="11.02" height="25.0" fill="#fd2ccb"/>
<rect x="1299.64" y="1127" width="11.02" height="25.3" fill="#7fc0d6"/>
<rect x="1299.64" y="1154.7" width="11.02" height="25.0" fill="#fd2ccb"/>
<rect x="1310.36" y="1127" width="11.02" height="25.3" fill="#c90303"/>
<rect x="1310.36" y="1154.7" width="11.02" height="25.0" fill="#fd2ccb"/>
<rect x="1321.09" y="1127" width="11.02" height="25.3" fill="#70bf7e"/>
<rect x="1321.09" y="1154.7" width="11.02" height="25.0" fill="#9af5c1"/>
<rect x="1331.81" y="1127" width="11.02" height="25.3" fill="#7fc0d6"/>
<rect x="1331.81" y="1154.7" width="11.02" height="25.0" fill="#9af5c1"/>
<rect x="1342.54" y="1127" width="11.02" height="25.3" fill="#c90303"/>
<rect x="1342.54" y="1154.7" width="11.02" height="25.0" fill="#9af5c1"/>
<rect x="1353.26" y="1127" width="11.02" height="25.3" fill="#b8a206"/>
<rect x="1353.26" y="1154.7" width="11.02" height="25.0" fill="#3fcbb7"/>
<rect x="1363.98" y="1127" width="11.02" height="25.3" fill="#98ec44"/>
<rect x="1363.98" y="1154.7" width="11.02" height="25.0" fill="#3fcbb7"/>
<rect x="1374.71" y="1127" width="11.02" height="25.3" fill="#70bf7e"/>
<rect x="1374.71" y="1154.7" width="11.02" height="25.0" fill="#3fcbb7"/>
<rect x="1385.43" y="1127" width="11.02" height="25.3" fill="#2c986f"/>
<rect x="1385.43" y="1154.7" width="11.02" height="25.0" fill="#3fcbb7"/>
<rect x="1396.15" y="1127" width="11.02" height="25.3" fill="#7fc0d6"/>
<rect x="1396.15" y="1154.7" width="11.02" height="25.0" fill="#3fcbb7"/>
<rect x="1406.88" y="1127" width="11.02" height="25.3" fill="#c90303"/>
<rect x="1406.88" y="1154.7" width="11.02" height="25.0" fill="#3fcbb7"/>
<line x1="1063.72" y1="1154.7" x2="1063.72" y2="1179.7" stroke="#fff" stroke-opacity="0.25" stroke-width="0.8"/>
<line x1="1074.45" y1="1154.7" x2="1074.45" y2="1179.7" stroke="#fff" stroke-opacity="0.25" stroke-width="0.8"/>
<line x1="1095.89" y1="1154.7" x2="1095.89" y2="1179.7" stroke="#fff" stroke-opacity="0.25" stroke-width="0.8"/>
<line x1="1106.62" y1="1154.7" x2="1106.62" y2="1179.7" stroke="#fff" stroke-opacity="0.25" stroke-width="0.8"/>
<line x1="1117.34" y1="1154.7" x2="1117.34" y2="1179.7" stroke="#fff" stroke-opacity="0.25" stroke-width="0.8"/>
<line x1="1138.79" y1="1154.7" x2="1138.79" y2="1179.7" stroke="#fff" stroke-opacity="0.25" stroke-width="0.8"/>
<line x1="1149.51" y1="1154.7" x2="1149.51" y2="1179.7" stroke="#fff" stroke-opacity="0.25" stroke-width="0.8"/>
<line x1="1160.24" y1="1154.7" x2="1160.24" y2="1179.7" stroke="#fff" stroke-opacity="0.25" stroke-width="0.8"/>
<line x1="1181.68" y1="1154.7" x2="1181.68" y2="1179.7" stroke="#fff" stroke-opacity="0.25" stroke-width="0.8"/>
<line x1="1192.41" y1="1154.7" x2="1192.41" y2="1179.7" stroke="#fff" stroke-opacity="0.25" stroke-width="0.8"/>
<line x1="1203.13" y1="1154.7" x2="1203.13" y2="1179.7" stroke="#fff" stroke-opacity="0.25" stroke-width="0.8"/>
<line x1="1213.85" y1="1154.7" x2="1213.85" y2="1179.7" stroke="#fff" stroke-opacity="0.25" stroke-width="0.8"/>
<line x1="1224.58" y1="1154.7" x2="1224.58" y2="1179.7" stroke="#fff" stroke-opacity="0.25" stroke-width="0.8"/>
<line x1="1235.30" y1="1154.7" x2="1235.30" y2="1179.7" stroke="#fff" stroke-opacity="0.25" stroke-width="0.8"/>
<line x1="1256.75" y1="1154.7" x2="1256.75" y2="1179.7" stroke="#fff" stroke-opacity="0.25" stroke-width="0.8"/>
<line x1="1267.47" y1="1154.7" x2="1267.47" y2="1179.7" stroke="#fff" stroke-opacity="0.25" stroke-width="0.8"/>
<line x1="1278.19" y1="1154.7" x2="1278.19" y2="1179.7" stroke="#fff" stroke-opacity="0.25" stroke-width="0.8"/>
<line x1="1288.92" y1="1154.7" x2="1288.92" y2="1179.7" stroke="#fff" stroke-opacity="0.25" stroke-width="0.8"/>
<line x1="1299.64" y1="1154.7" x2="1299.64" y2="1179.7" stroke="#fff" stroke-opacity="0.25" stroke-width="0.8"/>
<line x1="1310.36" y1="1154.7" x2="1310.36" y2="1179.7" stroke="#fff" stroke-opacity="0.25" stroke-width="0.8"/>
<line x1="1331.81" y1="1154.7" x2="1331.81" y2="1179.7" stroke="#fff" stroke-opacity="0.25" stroke-width="0.8"/>
<line x1="1342.54" y1="1154.7" x2="1342.54" y2="1179.7" stroke="#fff" stroke-opacity="0.25" stroke-width="0.8"/>
<line x1="1363.98" y1="1154.7" x2="1363.98" y2="1179.7" stroke="#fff" stroke-opacity="0.25" stroke-width="0.8"/>
<line x1="1374.71" y1="1154.7" x2="1374.71" y2="1179.7" stroke="#fff" stroke-opacity="0.25" stroke-width="0.8"/>
<line x1="1385.43" y1="1154.7" x2="1385.43" y2="1179.7" stroke="#fff" stroke-opacity="0.25" stroke-width="0.8"/>
<line x1="1396.15" y1="1154.7" x2="1396.15" y2="1179.7" stroke="#fff" stroke-opacity="0.25" stroke-width="0.8"/>
<line x1="1406.88" y1="1154.7" x2="1406.88" y2="1179.7" stroke="#fff" stroke-opacity="0.25" stroke-width="0.8"/>
<rect x="1428.00" y="1127" width="11.00" height="25.3" fill="#e8875e"/>
<rect x="1428.00" y="1154.7" width="11.00" height="25.0" fill="#f9a96a"/>
<rect x="1438.70" y="1127" width="11.00" height="25.3" fill="#b8a206"/>
<rect x="1438.70" y="1154.7" width="11.00" height="25.0" fill="#f9a96a"/>
<rect x="1449.39" y="1127" width="11.00" height="25.3" fill="#98ec44"/>
<rect x="1449.39" y="1154.7" width="11.00" height="25.0" fill="#f9a96a"/>
<rect x="1460.09" y="1127" width="11.00" height="25.3" fill="#e8875e"/>
<rect x="1460.09" y="1154.7" width="11.00" height="25.0" fill="#9cc6e1"/>
<rect x="1470.79" y="1127" width="11.00" height="25.3" fill="#b8a206"/>
<rect x="1470.79" y="1154.7" width="11.00" height="25.0" fill="#9cc6e1"/>
<rect x="1481.49" y="1127" width="11.00" height="25.3" fill="#98ec44"/>
<rect x="1481.49" y="1154.7" width="11.00" height="25.0" fill="#9cc6e1"/>
<rect x="1492.18" y="1127" width="11.00" height="25.3" fill="#70bf7e"/>
<rect x="1492.18" y="1154.7" width="11.00" height="25.0" fill="#9cc6e1"/>
<rect x="1502.88" y="1127" width="11.00" height="25.3" fill="#e8875e"/>
<rect x="1502.88" y="1154.7" width="11.00" height="25.0" fill="#d2d8a0"/>
<rect x="1513.58" y="1127" width="11.00" height="25.3" fill="#b8a206"/>
<rect x="1513.58" y="1154.7" width="11.00" height="25.0" fill="#d2d8a0"/>
<rect x="1524.27" y="1127" width="11.00" height="25.3" fill="#98ec44"/>
<rect x="1524.27" y="1154.7" width="11.00" height="25.0" fill="#d2d8a0"/>
<rect x="1534.97" y="1127" width="11.00" height="25.3" fill="#70bf7e"/>
<rect x="1534.97" y="1154.7" width="11.00" height="25.0" fill="#d2d8a0"/>
<rect x="1545.67" y="1127" width="11.00" height="25.3" fill="#e8875e"/>
<rect x="1545.67" y="1154.7" width="11.00" height="25.0" fill="#637a38"/>
<rect x="1556.36" y="1127" width="11.00" height="25.3" fill="#b8a206"/>
<rect x="1556.36" y="1154.7" width="11.00" height="25.0" fill="#637a38"/>
<rect x="1567.06" y="1127" width="11.00" height="25.3" fill="#98ec44"/>
<rect x="1567.06" y="1154.7" width="11.00" height="25.0" fill="#637a38"/>
<rect x="1577.76" y="1127" width="11.00" height="25.3" fill="#70bf7e"/>
<rect x="1577.76" y="1154.7" width="11.00" height="25.0" fill="#637a38"/>
<rect x="1588.46" y="1127" width="11.00" height="25.3" fill="#2c986f"/>
<rect x="1588.46" y="1154.7" width="11.00" height="25.0" fill="#637a38"/>
<rect x="1599.15" y="1127" width="11.00" height="25.3" fill="#7fc0d6"/>
<rect x="1599.15" y="1154.7" width="11.00" height="25.0" fill="#637a38"/>
<rect x="1609.85" y="1127" width="11.00" height="25.3" fill="#c90303"/>
<rect x="1609.85" y="1154.7" width="11.00" height="25.0" fill="#637a38"/>
<rect x="1620.55" y="1127" width="11.00" height="25.3" fill="#e8875e"/>
<rect x="1620.55" y="1154.7" width="11.00" height="25.0" fill="#fd2ccb"/>
<rect x="1631.24" y="1127" width="11.00" height="25.3" fill="#b8a206"/>
<rect x="1631.24" y="1154.7" width="11.00" height="25.0" fill="#fd2ccb"/>
<rect x="1641.94" y="1127" width="11.00" height="25.3" fill="#98ec44"/>
<rect x="1641.94" y="1154.7" width="11.00" height="25.0" fill="#fd2ccb"/>
<rect x="1652.64" y="1127" width="11.00" height="25.3" fill="#70bf7e"/>
<rect x="1652.64" y="1154.7" width="11.00" height="25.0" fill="#fd2ccb"/>
<rect x="1663.34" y="1127" width="11.00" height="25.3" fill="#2c986f"/>
<rect x="1663.34" y="1154.7" width="11.00" height="25.0" fill="#fd2ccb"/>
<rect x="1674.03" y="1127" width="11.00" height="25.3" fill="#7fc0d6"/>
<rect x="1674.03" y="1154.7" width="11.00" height="25.0" fill="#fd2ccb"/>
<rect x="1684.73" y="1127" width="11.00" height="25.3" fill="#c90303"/>
<rect x="1684.73" y="1154.7" width="11.00" height="25.0" fill="#fd2ccb"/>
<rect x="1695.43" y="1127" width="11.00" height="25.3" fill="#70bf7e"/>
<rect x="1695.43" y="1154.7" width="11.00" height="25.0" fill="#9af5c1"/>
<rect x="1706.12" y="1127" width="11.00" height="25.3" fill="#7fc0d6"/>
<rect x="1706.12" y="1154.7" width="11.00" height="25.0" fill="#9af5c1"/>
<rect x="1716.82" y="1127" width="11.00" height="25.3" fill="#c90303"/>
<rect x="1716.82" y="1154.7" width="11.00" height="25.0" fill="#9af5c1"/>
<rect x="1727.52" y="1127" width="11.00" height="25.3" fill="#b8a206"/>
<rect x="1727.52" y="1154.7" width="11.00" height="25.0" fill="#3fcbb7"/>
<rect x="1738.21" y="1127" width="11.00" height="25.3" fill="#98ec44"/>
<rect x="1738.21" y="1154.7" width="11.00" height="25.0" fill="#3fcbb7"/>
<rect x="1748.91" y="1127" width="11.00" height="25.3" fill="#70bf7e"/>
<rect x="1748.91" y="1154.7" width="11.00" height="25.0" fill="#3fcbb7"/>
<rect x="1759.61" y="1127" width="11.00" height="25.3" fill="#2c986f"/>
<rect x="1759.61" y="1154.7" width="11.00" height="25.0" fill="#3fcbb7"/>
<rect x="1770.31" y="1127" width="11.00" height="25.3" fill="#7fc0d6"/>
<rect x="1770.31" y="1154.7" width="11.00" height="25.0" fill="#3fcbb7"/>
<rect x="1781.00" y="1127" width="11.00" height="25.3" fill="#c90303"/>
<rect x="1781.00" y="1154.7" width="11.00" height="25.0" fill="#3fcbb7"/>
<line x1="1438.70" y1="1154.7" x2="1438.70" y2="1179.7" stroke="#fff" stroke-opacity="0.25" stroke-width="0.8"/>
<line x1="1449.39" y1="1154.7" x2="1449.39" y2="1179.7" stroke="#fff" stroke-opacity="0.25" stroke-width="0.8"/>
<line x1="1470.79" y1="1154.7" x2="1470.79" y2="1179.7" stroke="#fff" stroke-opacity="0.25" stroke-width="0.8"/>
<line x1="1481.49" y1="1154.7" x2="1481.49" y2="1179.7" stroke="#fff" stroke-opacity="0.25" stroke-width="0.8"/>
<line x1="1492.18" y1="1154.7" x2="1492.18" y2="1179.7" stroke="#fff" stroke-opacity="0.25" stroke-width="0.8"/>
<line x1="1513.58" y1="1154.7" x2="1513.58" y2="1179.7" stroke="#fff" stroke-opacity="0.25" stroke-width="0.8"/>
<line x1="1524.27" y1="1154.7" x2="1524.27" y2="1179.7" stroke="#fff" stroke-opacity="0.25" stroke-width="0.8"/>
<line x1="1534.97" y1="1154.7" x2="1534.97" y2="1179.7" stroke="#fff" stroke-opacity="0.25" stroke-width="0.8"/>
<line x1="1556.36" y1="1154.7" x2="1556.36" y2="1179.7" stroke="#fff" stroke-opacity="0.25" stroke-width="0.8"/>
<line x1="1567.06" y1="1154.7" x2="1567.06" y2="1179.7" stroke="#fff" stroke-opacity="0.25" stroke-width="0.8"/>
<line x1="1577.76" y1="1154.7" x2="1577.76" y2="1179.7" stroke="#fff" stroke-opacity="0.25" stroke-width="0.8"/>
<line x1="1588.46" y1="1154.7" x2="1588.46" y2="1179.7" stroke="#fff" stroke-opacity="0.25" stroke-width="0.8"/>
<line x1="1599.15" y1="1154.7" x2="1599.15" y2="1179.7" stroke="#fff" stroke-opacity="0.25" stroke-width="0.8"/>
<line x1="1609.85" y1="1154.7" x2="1609.85" y2="1179.7" stroke="#fff" stroke-opacity="0.25" stroke-width="0.8"/>
<line x1="1631.24" y1="1154.7" x2="1631.24" y2="1179.7" stroke="#fff" stroke-opacity="0.25" stroke-width="0.8"/>
<line x1="1641.94" y1="1154.7" x2="1641.94" y2="1179.7" stroke="#fff" stroke-opacity="0.25" stroke-width="0.8"/>
<line x1="1652.64" y1="1154.7" x2="1652.64" y2="1179.7" stroke="#fff" stroke-opacity="0.25" stroke-width="0.8"/>
<line x1="1663.34" y1="1154.7" x2="1663.34" y2="1179.7" stroke="#fff" stroke-opacity="0.25" stroke-width="0.8"/>
<line x1="1674.03" y1="1154.7" x2="1674.03" y2="1179.7" stroke="#fff" stroke-opacity="0.25" stroke-width="0.8"/>
<line x1="1684.73" y1="1154.7" x2="1684.73" y2="1179.7" stroke="#fff" stroke-opacity="0.25" stroke-width="0.8"/>
<line x1="1706.12" y1="1154.7" x2="1706.12" y2="1179.7" stroke="#fff" stroke-opacity="0.25" stroke-width="0.8"/>
<line x1="1716.82" y1="1154.7" x2="1716.82" y2="1179.7" stroke="#fff" stroke-opacity="0.25" stroke-width="0.8"/>
<line x1="1738.21" y1="1154.7" x2="1738.21" y2="1179.7" stroke="#fff" stroke-opacity="0.25" stroke-width="0.8"/>
<line x1="1748.91" y1="1154.7" x2="1748.91" y2="1179.7" stroke="#fff" stroke-opacity="0.25" stroke-width="0.8"/>
<line x1="1759.61" y1="1154.7" x2="1759.61" y2="1179.7" stroke="#fff" stroke-opacity="0.25" stroke-width="0.8"/>
<line x1="1770.31" y1="1154.7" x2="1770.31" y2="1179.7" stroke="#fff" stroke-opacity="0.25" stroke-width="0.8"/>
<line x1="1781.00" y1="1154.7" x2="1781.00" y2="1179.7" stroke="#fff" stroke-opacity="0.25" stroke-width="0.8"/>
<text x="1797.5" y="1147" font-size="19" fill="#000">Age</text>
<text x="1797.5" y="1174.5" font-size="19" fill="#000">Subclass</text>
<g filter="url(#n0)">
<rect x="1053" y="1185" width="11" height="98" fill="rgb(149,149,149)"/>
<rect x="1053" y="1283" width="11" height="64" fill="rgb(189,189,189)"/>
<rect x="1053" y="1347" width="11" height="45" fill="rgb(29,29,29)"/>
<rect x="1053" y="1392" width="11" height="98" fill="rgb(29,29,29)"/>
<rect x="1053" y="1490" width="11" height="98" fill="rgb(3,3,3)"/>
<rect x="1053" y="1588" width="11" height="94" fill="rgb(175,175,175)"/>
<rect x="1053" y="1682" width="11" height="4" fill="rgb(16,16,16)"/>
<rect x="1053" y="1686" width="11" height="100" fill="rgb(11,11,11)"/>
<rect x="1053" y="1786" width="11" height="54" fill="rgb(3,3,3)"/>
<rect x="1053" y="1840" width="11" height="98" fill="rgb(3,3,3)"/>
<rect x="1053" y="1938" width="11" height="97" fill="rgb(3,3,3)"/>
<rect x="1053" y="2035" width="11" height="98" fill="rgb(3,3,3)"/>
<rect x="1053" y="2133" width="11" height="98" fill="rgb(8,8,8)"/>
<rect x="1053" y="2231" width="11" height="9" fill="rgb(56,56,56)"/>
<rect x="1053" y="2240" width="11" height="98" fill="rgb(64,64,64)"/>
<rect x="1053" y="2338" width="11" height="97" fill="rgb(122,122,122)"/>
<rect x="1053" y="2435" width="11" height="99" fill="rgb(16,16,16)"/>
</g>
<g filter="url(#n2)">
<rect x="1064" y="1185" width="10" height="98" fill="rgb(143,143,143)"/>
<rect x="1064" y="1283" width="10" height="64" fill="rgb(175,175,175)"/>
<rect x="1064" y="1347" width="10" height="45" fill="rgb(29,29,29)"/>
<rect x="1064" y="1392" width="10" height="98" fill="rgb(29,29,29)"/>
<rect x="1064" y="1490" width="10" height="98" fill="rgb(3,3,3)"/>
<rect x="1064" y="1588" width="10" height="94" fill="rgb(149,149,149)"/>
<rect x="1064" y="1682" width="10" height="4" fill="rgb(16,16,16)"/>
<rect x="1064" y="1686" width="10" height="100" fill="rgb(11,11,11)"/>
<rect x="1064" y="1786" width="10" height="54" fill="rgb(3,3,3)"/>
<rect x="1064" y="1840" width="10" height="98" fill="rgb(3,3,3)"/>
<rect x="1064" y="1938" width="10" height="97" fill="rgb(3,3,3)"/>
<rect x="1064" y="2035" width="10" height="98" fill="rgb(3,3,3)"/>
<rect x="1064" y="2133" width="10" height="98" fill="rgb(8,8,8)"/>
<rect x="1064" y="2231" width="10" height="9" fill="rgb(56,56,56)"/>
<rect x="1064" y="2240" width="10" height="98" fill="rgb(69,69,69)"/>
<rect x="1064" y="2338" width="10" height="97" fill="rgb(117,117,117)"/>
<rect x="1064" y="2435" width="10" height="99" fill="rgb(16,16,16)"/>
</g>
<g filter="url(#n4)">
<rect x="1074" y="1185" width="11" height="98" fill="rgb(143,143,143)"/>
<rect x="1074" y="1283" width="11" height="64" fill="rgb(82,82,82)"/>
<rect x="1074" y="1347" width="11" height="45" fill="rgb(43,43,43)"/>
<rect x="1074" y="1392" width="11" height="98" fill="rgb(11,11,11)"/>
<rect x="1074" y="1490" width="11" height="98" fill="rgb(3,3,3)"/>
<rect x="1074" y="1588" width="11" height="94" fill="rgb(135,135,135)"/>
<rect x="1074" y="1682" width="11" height="4" fill="rgb(16,16,16)"/>
<rect x="1074" y="1686" width="11" height="100" fill="rgb(11,11,11)"/>
<rect x="1074" y="1786" width="11" height="54" fill="rgb(3,3,3)"/>
<rect x="1074" y="1840" width="11" height="98" fill="rgb(3,3,3)"/>
<rect x="1074" y="1938" width="11" height="97" fill="rgb(3,3,3)"/>
<rect x="1074" y="2035" width="11" height="98" fill="rgb(3,3,3)"/>
<rect x="1074" y="2133" width="11" height="98" fill="rgb(8,8,8)"/>
<rect x="1074" y="2231" width="11" height="9" fill="rgb(56,56,56)"/>
<rect x="1074" y="2240" width="11" height="98" fill="rgb(96,96,96)"/>
<rect x="1074" y="2338" width="11" height="97" fill="rgb(122,122,122)"/>
<rect x="1074" y="2435" width="11" height="99" fill="rgb(29,29,29)"/>
</g>
<g filter="url(#n1)">
<rect x="1085" y="1185" width="11" height="98" fill="rgb(43,43,43)"/>
<rect x="1085" y="1283" width="11" height="64" fill="rgb(56,56,56)"/>
<rect x="1085" y="1347" width="11" height="45" fill="rgb(82,82,82)"/>
<rect x="1085" y="1392" width="11" height="98" fill="rgb(207,207,207)"/>
<rect x="1085" y="1490" width="11" height="98" fill="rgb(96,96,96)"/>
<rect x="1085" y="1588" width="11" height="94" fill="rgb(162,162,162)"/>
<rect x="1085" y="1682" width="11" height="4" fill="rgb(16,16,16)"/>
<rect x="1085" y="1686" width="11" height="100" fill="rgb(3,3,3)"/>
<rect x="1085" y="1786" width="11" height="54" fill="rgb(3,3,3)"/>
<rect x="1085" y="1840" width="11" height="98" fill="rgb(3,3,3)"/>
<rect x="1085" y="1938" width="11" height="97" fill="rgb(3,3,3)"/>
<rect x="1085" y="2035" width="11" height="98" fill="rgb(3,3,3)"/>
<rect x="1085" y="2133" width="11" height="98" fill="rgb(8,8,8)"/>
<rect x="1085" y="2231" width="11" height="9" fill="rgb(16,16,16)"/>
<rect x="1085" y="2240" width="11" height="98" fill="rgb(16,16,16)"/>
<rect x="1085" y="2338" width="11" height="97" fill="rgb(21,21,21)"/>
<rect x="1085" y="2435" width="11" height="99" fill="rgb(3,3,3)"/>
</g>
<g filter="url(#n3)">
<rect x="1096" y="1185" width="11" height="98" fill="rgb(43,43,43)"/>
<rect x="1096" y="1283" width="11" height="64" fill="rgb(82,82,82)"/>
<rect x="1096" y="1347" width="11" height="45" fill="rgb(82,82,82)"/>
<rect x="1096" y="1392" width="11" height="98" fill="rgb(197,197,197)"/>
<rect x="1096" y="1490" width="11" height="98" fill="rgb(96,96,96)"/>
<rect x="1096" y="1588" width="11" height="94" fill="rgb(149,149,149)"/>
<rect x="1096" y="1682" width="11" height="4" fill="rgb(16,16,16)"/>
<rect x="1096" y="1686" width="11" height="100" fill="rgb(3,3,3)"/>
<rect x="1096" y="1786" width="11" height="54" fill="rgb(3,3,3)"/>
<rect x="1096" y="1840" width="11" height="98" fill="rgb(3,3,3)"/>
<rect x="1096" y="1938" width="11" height="97" fill="rgb(3,3,3)"/>
<rect x="1096" y="2035" width="11" height="98" fill="rgb(3,3,3)"/>
<rect x="1096" y="2133" width="11" height="98" fill="rgb(8,8,8)"/>
<rect x="1096" y="2231" width="11" height="9" fill="rgb(16,16,16)"/>
<rect x="1096" y="2240" width="11" height="98" fill="rgb(16,16,16)"/>
<rect x="1096" y="2338" width="11" height="97" fill="rgb(21,21,21)"/>
<rect x="1096" y="2435" width="11" height="99" fill="rgb(3,3,3)"/>
</g>
<g filter="url(#n0)">
<rect x="1107" y="1185" width="10" height="98" fill="rgb(29,29,29)"/>
<rect x="1107" y="1283" width="10" height="64" fill="rgb(175,175,175)"/>
<rect x="1107" y="1347" width="10" height="45" fill="rgb(82,82,82)"/>
<rect x="1107" y="1392" width="10" height="98" fill="rgb(149,149,149)"/>
<rect x="1107" y="1490" width="10" height="98" fill="rgb(109,109,109)"/>
<rect x="1107" y="1588" width="10" height="94" fill="rgb(135,135,135)"/>
<rect x="1107" y="1682" width="10" height="4" fill="rgb(16,16,16)"/>
<rect x="1107" y="1686" width="10" height="100" fill="rgb(3,3,3)"/>
<rect x="1107" y="1786" width="10" height="54" fill="rgb(3,3,3)"/>
<rect x="1107" y="1840" width="10" height="98" fill="rgb(3,3,3)"/>
<rect x="1107" y="1938" width="10" height="97" fill="rgb(3,3,3)"/>
<rect x="1107" y="2035" width="10" height="98" fill="rgb(3,3,3)"/>
<rect x="1107" y="2133" width="10" height="98" fill="rgb(8,8,8)"/>
<rect x="1107" y="2231" width="10" height="9" fill="rgb(16,16,16)"/>
<rect x="1107" y="2240" width="10" height="98" fill="rgb(16,16,16)"/>
<rect x="1107" y="2338" width="10" height="97" fill="rgb(16,16,16)"/>
<rect x="1107" y="2435" width="10" height="99" fill="rgb(3,3,3)"/>
</g>
<g filter="url(#n2)">
<rect x="1117" y="1185" width="11" height="98" fill="rgb(69,69,69)"/>
<rect x="1117" y="1283" width="11" height="64" fill="rgb(215,215,215)"/>
<rect x="1117" y="1347" width="11" height="45" fill="rgb(242,242,242)"/>
<rect x="1117" y="1392" width="11" height="98" fill="rgb(56,56,56)"/>
<rect x="1117" y="1490" width="11" height="98" fill="rgb(29,29,29)"/>
<rect x="1117" y="1588" width="11" height="94" fill="rgb(149,149,149)"/>
<rect x="1117" y="1682" width="11" height="4" fill="rgb(16,16,16)"/>
<rect x="1117" y="1686" width="11" height="100" fill="rgb(3,3,3)"/>
<rect x="1117" y="1786" width="11" height="54" fill="rgb(3,3,3)"/>
<rect x="1117" y="1840" width="11" height="98" fill="rgb(3,3,3)"/>
<rect x="1117" y="1938" width="11" height="97" fill="rgb(3,3,3)"/>
<rect x="1117" y="2035" width="11" height="98" fill="rgb(3,3,3)"/>
<rect x="1117" y="2133" width="11" height="98" fill="rgb(8,8,8)"/>
<rect x="1117" y="2231" width="11" height="9" fill="rgb(16,16,16)"/>
<rect x="1117" y="2240" width="11" height="98" fill="rgb(43,43,43)"/>
<rect x="1117" y="2338" width="11" height="97" fill="rgb(48,48,48)"/>
<rect x="1117" y="2435" width="11" height="99" fill="rgb(3,3,3)"/>
</g>
<g filter="url(#n4)">
<rect x="1128" y="1185" width="11" height="98" fill="rgb(29,29,29)"/>
<rect x="1128" y="1283" width="11" height="64" fill="rgb(16,16,16)"/>
<rect x="1128" y="1347" width="11" height="45" fill="rgb(43,43,43)"/>
<rect x="1128" y="1392" width="11" height="98" fill="rgb(207,207,207)"/>
<rect x="1128" y="1490" width="11" height="98" fill="rgb(109,109,109)"/>
<rect x="1128" y="1588" width="11" height="94" fill="rgb(149,149,149)"/>
<rect x="1128" y="1682" width="11" height="4" fill="rgb(16,16,16)"/>
<rect x="1128" y="1686" width="11" height="100" fill="rgb(3,3,3)"/>
<rect x="1128" y="1786" width="11" height="54" fill="rgb(3,3,3)"/>
<rect x="1128" y="1840" width="11" height="98" fill="rgb(3,3,3)"/>
<rect x="1128" y="1938" width="11" height="97" fill="rgb(3,3,3)"/>
<rect x="1128" y="2035" width="11" height="98" fill="rgb(3,3,3)"/>
<rect x="1128" y="2133" width="11" height="98" fill="rgb(8,8,8)"/>
<rect x="1128" y="2231" width="11" height="9" fill="rgb(16,16,16)"/>
<rect x="1128" y="2240" width="11" height="98" fill="rgb(3,3,3)"/>
<rect x="1128" y="2338" width="11" height="97" fill="rgb(8,8,8)"/>
<rect x="1128" y="2435" width="11" height="99" fill="rgb(3,3,3)"/>
</g>
<g filter="url(#n1)">
<rect x="1139" y="1185" width="11" height="98" fill="rgb(29,29,29)"/>
<rect x="1139" y="1283" width="11" height="64" fill="rgb(16,16,16)"/>
<rect x="1139" y="1347" width="11" height="45" fill="rgb(69,69,69)"/>
<rect x="1139" y="1392" width="11" height="98" fill="rgb(197,197,197)"/>
<rect x="1139" y="1490" width="11" height="98" fill="rgb(135,135,135)"/>
<rect x="1139" y="1588" width="11" height="94" fill="rgb(149,149,149)"/>
<rect x="1139" y="1682" width="11" height="4" fill="rgb(16,16,16)"/>
<rect x="1139" y="1686" width="11" height="100" fill="rgb(3,3,3)"/>
<rect x="1139" y="1786" width="11" height="54" fill="rgb(3,3,3)"/>
<rect x="1139" y="1840" width="11" height="98" fill="rgb(3,3,3)"/>
<rect x="1139" y="1938" width="11" height="97" fill="rgb(3,3,3)"/>
<rect x="1139" y="2035" width="11" height="98" fill="rgb(3,3,3)"/>
<rect x="1139" y="2133" width="11" height="98" fill="rgb(8,8,8)"/>
<rect x="1139" y="2231" width="11" height="9" fill="rgb(16,16,16)"/>
<rect x="1139" y="2240" width="11" height="98" fill="rgb(3,3,3)"/>
<rect x="1139" y="2338" width="11" height="97" fill="rgb(3,3,3)"/>
<rect x="1139" y="2435" width="11" height="99" fill="rgb(3,3,3)"/>
</g>
<g filter="url(#n3)">
<rect x="1150" y="1185" width="10" height="98" fill="rgb(16,16,16)"/>
<rect x="1150" y="1283" width="10" height="64" fill="rgb(29,29,29)"/>
<rect x="1150" y="1347" width="10" height="45" fill="rgb(69,69,69)"/>
<rect x="1150" y="1392" width="10" height="98" fill="rgb(170,170,170)"/>
<rect x="1150" y="1490" width="10" height="98" fill="rgb(135,135,135)"/>
<rect x="1150" y="1588" width="10" height="94" fill="rgb(135,135,135)"/>
<rect x="1150" y="1682" width="10" height="4" fill="rgb(16,16,16)"/>
<rect x="1150" y="1686" width="10" height="100" fill="rgb(3,3,3)"/>
<rect x="1150" y="1786" width="10" height="54" fill="rgb(3,3,3)"/>
<rect x="1150" y="1840" width="10" height="98" fill="rgb(3,3,3)"/>
<rect x="1150" y="1938" width="10" height="97" fill="rgb(3,3,3)"/>
<rect x="1150" y="2035" width="10" height="98" fill="rgb(3,3,3)"/>
<rect x="1150" y="2133" width="10" height="98" fill="rgb(8,8,8)"/>
<rect x="1150" y="2231" width="10" height="9" fill="rgb(16,16,16)"/>
<rect x="1150" y="2240" width="10" height="98" fill="rgb(3,3,3)"/>
<rect x="1150" y="2338" width="10" height="97" fill="rgb(3,3,3)"/>
<rect x="1150" y="2435" width="10" height="99" fill="rgb(3,3,3)"/>
</g>
<g filter="url(#n0)">
<rect x="1160" y="1185" width="11" height="98" fill="rgb(16,16,16)"/>
<rect x="1160" y="1283" width="11" height="64" fill="rgb(16,16,16)"/>
<rect x="1160" y="1347" width="11" height="45" fill="rgb(82,82,82)"/>
<rect x="1160" y="1392" width="11" height="98" fill="rgb(170,170,170)"/>
<rect x="1160" y="1490" width="11" height="98" fill="rgb(242,242,242)"/>
<rect x="1160" y="1588" width="11" height="94" fill="rgb(135,135,135)"/>
<rect x="1160" y="1682" width="11" height="4" fill="rgb(242,242,242)"/>
<rect x="1160" y="1686" width="11" height="100" fill="rgb(3,3,3)"/>
<rect x="1160" y="1786" width="11" height="54" fill="rgb(3,3,3)"/>
<rect x="1160" y="1840" width="11" height="98" fill="rgb(3,3,3)"/>
<rect x="1160" y="1938" width="11" height="97" fill="rgb(3,3,3)"/>
<rect x="1160" y="2035" width="11" height="98" fill="rgb(3,3,3)"/>
<rect x="1160" y="2133" width="11" height="98" fill="rgb(8,8,8)"/>
<rect x="1160" y="2231" width="11" height="9" fill="rgb(16,16,16)"/>
<rect x="1160" y="2240" width="11" height="98" fill="rgb(3,3,3)"/>
<rect x="1160" y="2338" width="11" height="97" fill="rgb(3,3,3)"/>
<rect x="1160" y="2435" width="11" height="99" fill="rgb(3,3,3)"/>
</g>
<g filter="url(#n2)">
<rect x="1171" y="1185" width="11" height="98" fill="rgb(135,135,135)"/>
<rect x="1171" y="1283" width="11" height="64" fill="rgb(135,135,135)"/>
<rect x="1171" y="1347" width="11" height="45" fill="rgb(16,16,16)"/>
<rect x="1171" y="1392" width="11" height="98" fill="rgb(8,8,8)"/>
<rect x="1171" y="1490" width="11" height="98" fill="rgb(3,3,3)"/>
<rect x="1171" y="1588" width="11" height="94" fill="rgb(135,135,135)"/>
<rect x="1171" y="1682" width="11" height="4" fill="rgb(16,16,16)"/>
<rect x="1171" y="1686" width="11" height="100" fill="rgb(16,16,16)"/>
<rect x="1171" y="1786" width="11" height="54" fill="rgb(16,16,16)"/>
<rect x="1171" y="1840" width="11" height="98" fill="rgb(3,3,3)"/>
<rect x="1171" y="1938" width="11" height="97" fill="rgb(3,3,3)"/>
<rect x="1171" y="2035" width="11" height="98" fill="rgb(3,3,3)"/>
<rect x="1171" y="2133" width="11" height="98" fill="rgb(21,21,21)"/>
<rect x="1171" y="2231" width="11" height="9" fill="rgb(96,96,96)"/>
<rect x="1171" y="2240" width="11" height="98" fill="rgb(69,69,69)"/>
<rect x="1171" y="2338" width="11" height="97" fill="rgb(162,162,162)"/>
<rect x="1171" y="2435" width="11" height="99" fill="rgb(16,16,16)"/>
</g>
<g filter="url(#n4)">
<rect x="1182" y="1185" width="10" height="98" fill="rgb(154,154,154)"/>
<rect x="1182" y="1283" width="10" height="64" fill="rgb(122,122,122)"/>
<rect x="1182" y="1347" width="10" height="45" fill="rgb(16,16,16)"/>
<rect x="1182" y="1392" width="10" height="98" fill="rgb(8,8,8)"/>
<rect x="1182" y="1490" width="10" height="98" fill="rgb(3,3,3)"/>
<rect x="1182" y="1588" width="10" height="94" fill="rgb(149,149,149)"/>
<rect x="1182" y="1682" width="10" height="4" fill="rgb(16,16,16)"/>
<rect x="1182" y="1686" width="10" height="100" fill="rgb(8,8,8)"/>
<rect x="1182" y="1786" width="10" height="54" fill="rgb(3,3,3)"/>
<rect x="1182" y="1840" width="10" height="98" fill="rgb(3,3,3)"/>
<rect x="1182" y="1938" width="10" height="97" fill="rgb(3,3,3)"/>
<rect x="1182" y="2035" width="10" height="98" fill="rgb(3,3,3)"/>
<rect x="1182" y="2133" width="10" height="98" fill="rgb(21,21,21)"/>
<rect x="1182" y="2231" width="10" height="9" fill="rgb(69,69,69)"/>
<rect x="1182" y="2240" width="10" height="98" fill="rgb(101,101,101)"/>
<rect x="1182" y="2338" width="10" height="97" fill="rgb(162,162,162)"/>
<rect x="1182" y="2435" width="10" height="99" fill="rgb(29,29,29)"/>
</g>
<g filter="url(#n1)">
<rect x="1192" y="1185" width="11" height="98" fill="rgb(135,135,135)"/>
<rect x="1192" y="1283" width="11" height="64" fill="rgb(122,122,122)"/>
<rect x="1192" y="1347" width="11" height="45" fill="rgb(29,29,29)"/>
<rect x="1192" y="1392" width="11" height="98" fill="rgb(8,8,8)"/>
<rect x="1192" y="1490" width="11" height="98" fill="rgb(3,3,3)"/>
<rect x="1192" y="1588" width="11" height="94" fill="rgb(149,149,149)"/>
<rect x="1192" y="1682" width="11" height="4" fill="rgb(16,16,16)"/>
<rect x="1192" y="1686" width="11" height="100" fill="rgb(8,8,8)"/>
<rect x="1192" y="1786" width="11" height="54" fill="rgb(3,3,3)"/>
<rect x="1192" y="1840" width="11" height="98" fill="rgb(3,3,3)"/>
<rect x="1192" y="1938" width="11" height="97" fill="rgb(3,3,3)"/>
<rect x="1192" y="2035" width="11" height="98" fill="rgb(3,3,3)"/>
<rect x="1192" y="2133" width="11" height="98" fill="rgb(21,21,21)"/>
<rect x="1192" y="2231" width="11" height="9" fill="rgb(16,16,16)"/>
<rect x="1192" y="2240" width="11" height="98" fill="rgb(109,109,109)"/>
<rect x="1192" y="2338" width="11" height="97" fill="rgb(149,149,149)"/>
<rect x="1192" y="2435" width="11" height="99" fill="rgb(43,43,43)"/>
</g>
<g filter="url(#n3)">
<rect x="1203" y="1185" width="11" height="98" fill="rgb(122,122,122)"/>
<rect x="1203" y="1283" width="11" height="64" fill="rgb(82,82,82)"/>
<rect x="1203" y="1347" width="11" height="45" fill="rgb(43,43,43)"/>
<rect x="1203" y="1392" width="11" height="98" fill="rgb(16,16,16)"/>
<rect x="1203" y="1490" width="11" height="98" fill="rgb(3,3,3)"/>
<rect x="1203" y="1588" width="11" height="94" fill="rgb(135,135,135)"/>
<rect x="1203" y="1682" width="11" height="4" fill="rgb(16,16,16)"/>
<rect x="1203" y="1686" width="11" height="100" fill="rgb(8,8,8)"/>
<rect x="1203" y="1786" width="11" height="54" fill="rgb(3,3,3)"/>
<rect x="1203" y="1840" width="11" height="98" fill="rgb(3,3,3)"/>
<rect x="1203" y="1938" width="11" height="97" fill="rgb(3,3,3)"/>
<rect x="1203" y="2035" width="11" height="98" fill="rgb(3,3,3)"/>
<rect x="1203" y="2133" width="11" height="98" fill="rgb(21,21,21)"/>
<rect x="1203" y="2231" width="11" height="9" fill="rgb(16,16,16)"/>
<rect x="1203" y="2240" width="11" height="98" fill="rgb(109,109,109)"/>
<rect x="1203" y="2338" width="11" height="97" fill="rgb(149,149,149)"/>
<rect x="1203" y="2435" width="11" height="99" fill="rgb(56,56,56)"/>
</g>
<g filter="url(#n0)">
<rect x="1214" y="1185" width="11" height="98" fill="rgb(101,101,101)"/>
<rect x="1214" y="1283" width="11" height="64" fill="rgb(135,135,135)"/>
<rect x="1214" y="1347" width="11" height="45" fill="rgb(56,56,56)"/>
<rect x="1214" y="1392" width="11" height="98" fill="rgb(8,8,8)"/>
<rect x="1214" y="1490" width="11" height="98" fill="rgb(3,3,3)"/>
<rect x="1214" y="1588" width="11" height="94" fill="rgb(122,122,122)"/>
<rect x="1214" y="1682" width="11" height="4" fill="rgb(16,16,16)"/>
<rect x="1214" y="1686" width="11" height="100" fill="rgb(8,8,8)"/>
<rect x="1214" y="1786" width="11" height="54" fill="rgb(3,3,3)"/>
<rect x="1214" y="1840" width="11" height="98" fill="rgb(3,3,3)"/>
<rect x="1214" y="1938" width="11" height="97" fill="rgb(3,3,3)"/>
<rect x="1214" y="2035" width="11" height="98" fill="rgb(3,3,3)"/>
<rect x="1214" y="2133" width="11" height="98" fill="rgb(21,21,21)"/>
<rect x="1214" y="2231" width="11" height="9" fill="rgb(16,16,16)"/>
<rect x="1214" y="2240" width="11" height="98" fill="rgb(101,101,101)"/>
<rect x="1214" y="2338" width="11" height="97" fill="rgb(117,117,117)"/>
<rect x="1214" y="2435" width="11" height="99" fill="rgb(69,69,69)"/>
</g>
<g filter="url(#n2)">
<rect x="1225" y="1185" width="10" height="98" fill="rgb(109,109,109)"/>
<rect x="1225" y="1283" width="10" height="64" fill="rgb(56,56,56)"/>
<rect x="1225" y="1347" width="10" height="45" fill="rgb(43,43,43)"/>
<rect x="1225" y="1392" width="10" height="98" fill="rgb(16,16,16)"/>
<rect x="1225" y="1490" width="10" height="98" fill="rgb(3,3,3)"/>
<rect x="1225" y="1588" width="10" height="94" fill="rgb(135,135,135)"/>
<rect x="1225" y="1682" width="10" height="4" fill="rgb(16,16,16)"/>
<rect x="1225" y="1686" width="10" height="100" fill="rgb(8,8,8)"/>
<rect x="1225" y="1786" width="10" height="54" fill="rgb(3,3,3)"/>
<rect x="1225" y="1840" width="10" height="98" fill="rgb(3,3,3)"/>
<rect x="1225" y="1938" width="10" height="97" fill="rgb(3,3,3)"/>
<rect x="1225" y="2035" width="10" height="98" fill="rgb(3,3,3)"/>
<rect x="1225" y="2133" width="10" height="98" fill="rgb(21,21,21)"/>
<rect x="1225" y="2231" width="10" height="9" fill="rgb(16,16,16)"/>
<rect x="1225" y="2240" width="10" height="98" fill="rgb(170,170,170)"/>
<rect x="1225" y="2338" width="10" height="97" fill="rgb(135,135,135)"/>
<rect x="1225" y="2435" width="10" height="99" fill="rgb(109,109,109)"/>
</g>
<g filter="url(#n4)">
<rect x="1235" y="1185" width="11" height="98" fill="rgb(101,101,101)"/>
<rect x="1235" y="1283" width="11" height="64" fill="rgb(82,82,82)"/>
<rect x="1235" y="1347" width="11" height="45" fill="rgb(82,82,82)"/>
<rect x="1235" y="1392" width="11" height="98" fill="rgb(8,8,8)"/>
<rect x="1235" y="1490" width="11" height="98" fill="rgb(3,3,3)"/>
<rect x="1235" y="1588" width="11" height="94" fill="rgb(149,149,149)"/>
<rect x="1235" y="1682" width="11" height="4" fill="rgb(16,16,16)"/>
<rect x="1235" y="1686" width="11" height="100" fill="rgb(8,8,8)"/>
<rect x="1235" y="1786" width="11" height="54" fill="rgb(3,3,3)"/>
<rect x="1235" y="1840" width="11" height="98" fill="rgb(3,3,3)"/>
<rect x="1235" y="1938" width="11" height="97" fill="rgb(3,3,3)"/>
<rect x="1235" y="2035" width="11" height="98" fill="rgb(3,3,3)"/>
<rect x="1235" y="2133" width="11" height="98" fill="rgb(21,21,21)"/>
<rect x="1235" y="2231" width="11" height="9" fill="rgb(16,16,16)"/>
<rect x="1235" y="2240" width="11" height="98" fill="rgb(149,149,149)"/>
<rect x="1235" y="2338" width="11" height="97" fill="rgb(135,135,135)"/>
<rect x="1235" y="2435" width="11" height="99" fill="rgb(96,96,96)"/>
</g>
<g filter="url(#n1)">
<rect x="1246" y="1185" width="11" height="98" fill="rgb(43,43,43)"/>
<rect x="1246" y="1283" width="11" height="64" fill="rgb(122,122,122)"/>
<rect x="1246" y="1347" width="11" height="45" fill="rgb(11,11,11)"/>
<rect x="1246" y="1392" width="11" height="98" fill="rgb(3,3,3)"/>
<rect x="1246" y="1490" width="11" height="98" fill="rgb(3,3,3)"/>
<rect x="1246" y="1588" width="11" height="94" fill="rgb(21,21,21)"/>
<rect x="1246" y="1682" width="11" height="4" fill="rgb(16,16,16)"/>
<rect x="1246" y="1686" width="11" height="100" fill="rgb(189,189,189)"/>
<rect x="1246" y="1786" width="11" height="54" fill="rgb(228,228,228)"/>
<rect x="1246" y="1840" width="11" height="98" fill="rgb(56,56,56)"/>
<rect x="1246" y="1938" width="11" height="97" fill="rgb(3,3,3)"/>
<rect x="1246" y="2035" width="11" height="98" fill="rgb(21,21,21)"/>
<rect x="1246" y="2133" width="11" height="98" fill="rgb(143,143,143)"/>
<rect x="1246" y="2231" width="11" height="9" fill="rgb(16,16,16)"/>
<rect x="1246" y="2240" width="11" height="98" fill="rgb(3,3,3)"/>
<rect x="1246" y="2338" width="11" height="97" fill="rgb(149,149,149)"/>
<rect x="1246" y="2435" width="11" height="99" fill="rgb(3,3,3)"/>
</g>
<g filter="url(#n3)">
<rect x="1257" y="1185" width="10" height="98" fill="rgb(29,29,29)"/>
<rect x="1257" y="1283" width="10" height="64" fill="rgb(69,69,69)"/>
<rect x="1257" y="1347" width="10" height="45" fill="rgb(3,3,3)"/>
<rect x="1257" y="1392" width="10" height="98" fill="rgb(3,3,3)"/>
<rect x="1257" y="1490" width="10" height="98" fill="rgb(3,3,3)"/>
<rect x="1257" y="1588" width="10" height="94" fill="rgb(21,21,21)"/>
<rect x="1257" y="1682" width="10" height="4" fill="rgb(16,16,16)"/>
<rect x="1257" y="1686" width="10" height="100" fill="rgb(189,189,189)"/>
<rect x="1257" y="1786" width="10" height="54" fill="rgb(122,122,122)"/>
<rect x="1257" y="1840" width="10" height="98" fill="rgb(56,56,56)"/>
<rect x="1257" y="1938" width="10" height="97" fill="rgb(3,3,3)"/>
<rect x="1257" y="2035" width="10" height="98" fill="rgb(21,21,21)"/>
<rect x="1257" y="2133" width="10" height="98" fill="rgb(135,135,135)"/>
<rect x="1257" y="2231" width="10" height="9" fill="rgb(16,16,16)"/>
<rect x="1257" y="2240" width="10" height="98" fill="rgb(3,3,3)"/>
<rect x="1257" y="2338" width="10" height="97" fill="rgb(135,135,135)"/>
<rect x="1257" y="2435" width="10" height="99" fill="rgb(3,3,3)"/>
</g>
<g filter="url(#n0)">
<rect x="1267" y="1185" width="11" height="98" fill="rgb(29,29,29)"/>
<rect x="1267" y="1283" width="11" height="64" fill="rgb(43,43,43)"/>
<rect x="1267" y="1347" width="11" height="45" fill="rgb(3,3,3)"/>
<rect x="1267" y="1392" width="11" height="98" fill="rgb(3,3,3)"/>
<rect x="1267" y="1490" width="11" height="98" fill="rgb(3,3,3)"/>
<rect x="1267" y="1588" width="11" height="94" fill="rgb(21,21,21)"/>
<rect x="1267" y="1682" width="11" height="4" fill="rgb(16,16,16)"/>
<rect x="1267" y="1686" width="11" height="100" fill="rgb(175,175,175)"/>
<rect x="1267" y="1786" width="11" height="54" fill="rgb(109,109,109)"/>
<rect x="1267" y="1840" width="11" height="98" fill="rgb(43,43,43)"/>
<rect x="1267" y="1938" width="11" height="97" fill="rgb(3,3,3)"/>
<rect x="1267" y="2035" width="11" height="98" fill="rgb(21,21,21)"/>
<rect x="1267" y="2133" width="11" height="98" fill="rgb(117,117,117)"/>
<rect x="1267" y="2231" width="11" height="9" fill="rgb(16,16,16)"/>
<rect x="1267" y="2240" width="11" height="98" fill="rgb(3,3,3)"/>
<rect x="1267" y="2338" width="11" height="97" fill="rgb(135,135,135)"/>
<rect x="1267" y="2435" width="11" height="99" fill="rgb(3,3,3)"/>
</g>
<g filter="url(#n2)">
<rect x="1278" y="1185" width="11" height="98" fill="rgb(29,29,29)"/>
<rect x="1278" y="1283" width="11" height="64" fill="rgb(56,56,56)"/>
<rect x="1278" y="1347" width="11" height="45" fill="rgb(3,3,3)"/>
<rect x="1278" y="1392" width="11" height="98" fill="rgb(3,3,3)"/>
<rect x="1278" y="1490" width="11" height="98" fill="rgb(3,3,3)"/>
<rect x="1278" y="1588" width="11" height="94" fill="rgb(21,21,21)"/>
<rect x="1278" y="1682" width="11" height="4" fill="rgb(16,16,16)"/>
<rect x="1278" y="1686" width="11" height="100" fill="rgb(189,189,189)"/>
<rect x="1278" y="1786" width="11" height="54" fill="rgb(109,109,109)"/>
<rect x="1278" y="1840" width="11" height="98" fill="rgb(56,56,56)"/>
<rect x="1278" y="1938" width="11" height="97" fill="rgb(3,3,3)"/>
<rect x="1278" y="2035" width="11" height="98" fill="rgb(21,21,21)"/>
<rect x="1278" y="2133" width="11" height="98" fill="rgb(117,117,117)"/>
<rect x="1278" y="2231" width="11" height="9" fill="rgb(16,16,16)"/>
<rect x="1278" y="2240" width="11" height="98" fill="rgb(3,3,3)"/>
<rect x="1278" y="2338" width="11" height="97" fill="rgb(122,122,122)"/>
<rect x="1278" y="2435" width="11" height="99" fill="rgb(3,3,3)"/>
</g>
<g filter="url(#n4)">
<rect x="1289" y="1185" width="11" height="98" fill="rgb(29,29,29)"/>
<rect x="1289" y="1283" width="11" height="64" fill="rgb(43,43,43)"/>
<rect x="1289" y="1347" width="11" height="45" fill="rgb(3,3,3)"/>
<rect x="1289" y="1392" width="11" height="98" fill="rgb(3,3,3)"/>
<rect x="1289" y="1490" width="11" height="98" fill="rgb(3,3,3)"/>
<rect x="1289" y="1588" width="11" height="94" fill="rgb(29,29,29)"/>
<rect x="1289" y="1682" width="11" height="4" fill="rgb(16,16,16)"/>
<rect x="1289" y="1686" width="11" height="100" fill="rgb(189,189,189)"/>
<rect x="1289" y="1786" width="11" height="54" fill="rgb(96,96,96)"/>
<rect x="1289" y="1840" width="11" height="98" fill="rgb(56,56,56)"/>
<rect x="1289" y="1938" width="11" height="97" fill="rgb(3,3,3)"/>
<rect x="1289" y="2035" width="11" height="98" fill="rgb(21,21,21)"/>
<rect x="1289" y="2133" width="11" height="98" fill="rgb(117,117,117)"/>
<rect x="1289" y="2231" width="11" height="9" fill="rgb(16,16,16)"/>
<rect x="1289" y="2240" width="11" height="98" fill="rgb(3,3,3)"/>
<rect x="1289" y="2338" width="11" height="97" fill="rgb(122,122,122)"/>
<rect x="1289" y="2435" width="11" height="99" fill="rgb(3,3,3)"/>
</g>
<g filter="url(#n1)">
<rect x="1300" y="1185" width="10" height="98" fill="rgb(29,29,29)"/>
<rect x="1300" y="1283" width="10" height="64" fill="rgb(43,43,43)"/>
<rect x="1300" y="1347" width="10" height="45" fill="rgb(3,3,3)"/>
<rect x="1300" y="1392" width="10" height="98" fill="rgb(3,3,3)"/>
<rect x="1300" y="1490" width="10" height="98" fill="rgb(3,3,3)"/>
<rect x="1300" y="1588" width="10" height="94" fill="rgb(16,16,16)"/>
<rect x="1300" y="1682" width="10" height="4" fill="rgb(16,16,16)"/>
<rect x="1300" y="1686" width="10" height="100" fill="rgb(189,189,189)"/>
<rect x="1300" y="1786" width="10" height="54" fill="rgb(109,109,109)"/>
<rect x="1300" y="1840" width="10" height="98" fill="rgb(69,69,69)"/>
<rect x="1300" y="1938" width="10" height="97" fill="rgb(3,3,3)"/>
<rect x="1300" y="2035" width="10" height="98" fill="rgb(21,21,21)"/>
<rect x="1300" y="2133" width="10" height="98" fill="rgb(128,128,128)"/>
<rect x="1300" y="2231" width="10" height="9" fill="rgb(16,16,16)"/>
<rect x="1300" y="2240" width="10" height="98" fill="rgb(3,3,3)"/>
<rect x="1300" y="2338" width="10" height="97" fill="rgb(122,122,122)"/>
<rect x="1300" y="2435" width="10" height="99" fill="rgb(3,3,3)"/>
</g>
<g filter="url(#n3)">
<rect x="1310" y="1185" width="11" height="98" fill="rgb(16,16,16)"/>
<rect x="1310" y="1283" width="11" height="64" fill="rgb(29,29,29)"/>
<rect x="1310" y="1347" width="11" height="45" fill="rgb(3,3,3)"/>
<rect x="1310" y="1392" width="11" height="98" fill="rgb(3,3,3)"/>
<rect x="1310" y="1490" width="11" height="98" fill="rgb(3,3,3)"/>
<rect x="1310" y="1588" width="11" height="94" fill="rgb(16,16,16)"/>
<rect x="1310" y="1682" width="11" height="4" fill="rgb(16,16,16)"/>
<rect x="1310" y="1686" width="11" height="100" fill="rgb(228,228,228)"/>
<rect x="1310" y="1786" width="11" height="54" fill="rgb(69,69,69)"/>
<rect x="1310" y="1840" width="11" height="98" fill="rgb(69,69,69)"/>
<rect x="1310" y="1938" width="11" height="97" fill="rgb(3,3,3)"/>
<rect x="1310" y="2035" width="11" height="98" fill="rgb(21,21,21)"/>
<rect x="1310" y="2133" width="11" height="98" fill="rgb(135,135,135)"/>
<rect x="1310" y="2231" width="11" height="9" fill="rgb(16,16,16)"/>
<rect x="1310" y="2240" width="11" height="98" fill="rgb(11,11,11)"/>
<rect x="1310" y="2338" width="11" height="97" fill="rgb(154,154,154)"/>
<rect x="1310" y="2435" width="11" height="99" fill="rgb(3,3,3)"/>
</g>
<g filter="url(#n0)">
<rect x="1321" y="1185" width="11" height="98" fill="rgb(3,3,3)"/>
<rect x="1321" y="1283" width="11" height="64" fill="rgb(16,16,16)"/>
<rect x="1321" y="1347" width="11" height="45" fill="rgb(29,29,29)"/>
<rect x="1321" y="1392" width="11" height="98" fill="rgb(3,3,3)"/>
<rect x="1321" y="1490" width="11" height="98" fill="rgb(3,3,3)"/>
<rect x="1321" y="1588" width="11" height="94" fill="rgb(3,3,3)"/>
<rect x="1321" y="1682" width="11" height="4" fill="rgb(16,16,16)"/>
<rect x="1321" y="1686" width="11" height="100" fill="rgb(149,149,149)"/>
<rect x="1321" y="1786" width="11" height="54" fill="rgb(29,29,29)"/>
<rect x="1321" y="1840" width="11" height="98" fill="rgb(242,242,242)"/>
<rect x="1321" y="1938" width="11" height="97" fill="rgb(16,16,16)"/>
<rect x="1321" y="2035" width="11" height="98" fill="rgb(189,189,189)"/>
<rect x="1321" y="2133" width="11" height="98" fill="rgb(135,135,135)"/>
<rect x="1321" y="2231" width="11" height="9" fill="rgb(16,16,16)"/>
<rect x="1321" y="2240" width="11" height="98" fill="rgb(3,3,3)"/>
<rect x="1321" y="2338" width="11" height="97" fill="rgb(43,43,43)"/>
<rect x="1321" y="2435" width="11" height="99" fill="rgb(3,3,3)"/>
</g>
<g filter="url(#n2)">
<rect x="1332" y="1185" width="11" height="98" fill="rgb(3,3,3)"/>
<rect x="1332" y="1283" width="11" height="64" fill="rgb(16,16,16)"/>
<rect x="1332" y="1347" width="11" height="45" fill="rgb(16,16,16)"/>
<rect x="1332" y="1392" width="11" height="98" fill="rgb(3,3,3)"/>
<rect x="1332" y="1490" width="11" height="98" fill="rgb(3,3,3)"/>
<rect x="1332" y="1588" width="11" height="94" fill="rgb(3,3,3)"/>
<rect x="1332" y="1682" width="11" height="4" fill="rgb(16,16,16)"/>
<rect x="1332" y="1686" width="11" height="100" fill="rgb(82,82,82)"/>
<rect x="1332" y="1786" width="11" height="54" fill="rgb(29,29,29)"/>
<rect x="1332" y="1840" width="11" height="98" fill="rgb(135,135,135)"/>
<rect x="1332" y="1938" width="11" height="97" fill="rgb(56,56,56)"/>
<rect x="1332" y="2035" width="11" height="98" fill="rgb(175,175,175)"/>
<rect x="1332" y="2133" width="11" height="98" fill="rgb(117,117,117)"/>
<rect x="1332" y="2231" width="11" height="9" fill="rgb(16,16,16)"/>
<rect x="1332" y="2240" width="11" height="98" fill="rgb(3,3,3)"/>
<rect x="1332" y="2338" width="11" height="97" fill="rgb(29,29,29)"/>
<rect x="1332" y="2435" width="11" height="99" fill="rgb(3,3,3)"/>
</g>
<g filter="url(#n4)">
<rect x="1343" y="1185" width="10" height="98" fill="rgb(3,3,3)"/>
<rect x="1343" y="1283" width="10" height="64" fill="rgb(3,3,3)"/>
<rect x="1343" y="1347" width="10" height="45" fill="rgb(3,3,3)"/>
<rect x="1343" y="1392" width="10" height="98" fill="rgb(3,3,3)"/>
<rect x="1343" y="1490" width="10" height="98" fill="rgb(3,3,3)"/>
<rect x="1343" y="1588" width="10" height="94" fill="rgb(3,3,3)"/>
<rect x="1343" y="1682" width="10" height="4" fill="rgb(16,16,16)"/>
<rect x="1343" y="1686" width="10" height="100" fill="rgb(43,43,43)"/>
<rect x="1343" y="1786" width="10" height="54" fill="rgb(3,3,3)"/>
<rect x="1343" y="1840" width="10" height="98" fill="rgb(69,69,69)"/>
<rect x="1343" y="1938" width="10" height="97" fill="rgb(242,242,242)"/>
<rect x="1343" y="2035" width="10" height="98" fill="rgb(215,215,215)"/>
<rect x="1343" y="2133" width="10" height="98" fill="rgb(215,215,215)"/>
<rect x="1343" y="2231" width="10" height="9" fill="rgb(16,16,16)"/>
<rect x="1343" y="2240" width="10" height="98" fill="rgb(3,3,3)"/>
<rect x="1343" y="2338" width="10" height="97" fill="rgb(21,21,21)"/>
<rect x="1343" y="2435" width="10" height="99" fill="rgb(3,3,3)"/>
</g>
<g filter="url(#n1)">
<rect x="1353" y="1185" width="11" height="98" fill="rgb(135,135,135)"/>
<rect x="1353" y="1283" width="11" height="64" fill="rgb(43,43,43)"/>
<rect x="1353" y="1347" width="11" height="45" fill="rgb(11,11,11)"/>
<rect x="1353" y="1392" width="11" height="98" fill="rgb(3,3,3)"/>
<rect x="1353" y="1490" width="11" height="98" fill="rgb(3,3,3)"/>
<rect x="1353" y="1588" width="11" height="94" fill="rgb(109,109,109)"/>
<rect x="1353" y="1682" width="11" height="4" fill="rgb(16,16,16)"/>
<rect x="1353" y="1686" width="11" height="100" fill="rgb(8,8,8)"/>
<rect x="1353" y="1786" width="11" height="54" fill="rgb(8,8,8)"/>
<rect x="1353" y="1840" width="11" height="98" fill="rgb(3,3,3)"/>
<rect x="1353" y="1938" width="11" height="97" fill="rgb(3,3,3)"/>
<rect x="1353" y="2035" width="11" height="98" fill="rgb(3,3,3)"/>
<rect x="1353" y="2133" width="11" height="98" fill="rgb(8,8,8)"/>
<rect x="1353" y="2231" width="11" height="9" fill="rgb(242,242,242)"/>
<rect x="1353" y="2240" width="11" height="98" fill="rgb(109,109,109)"/>
<rect x="1353" y="2338" width="11" height="97" fill="rgb(162,162,162)"/>
<rect x="1353" y="2435" width="11" height="99" fill="rgb(29,29,29)"/>
</g>
<g filter="url(#n3)">
<rect x="1364" y="1185" width="11" height="98" fill="rgb(149,149,149)"/>
<rect x="1364" y="1283" width="11" height="64" fill="rgb(43,43,43)"/>
<rect x="1364" y="1347" width="11" height="45" fill="rgb(11,11,11)"/>
<rect x="1364" y="1392" width="11" height="98" fill="rgb(3,3,3)"/>
<rect x="1364" y="1490" width="11" height="98" fill="rgb(3,3,3)"/>
<rect x="1364" y="1588" width="11" height="94" fill="rgb(109,109,109)"/>
<rect x="1364" y="1682" width="11" height="4" fill="rgb(16,16,16)"/>
<rect x="1364" y="1686" width="11" height="100" fill="rgb(8,8,8)"/>
<rect x="1364" y="1786" width="11" height="54" fill="rgb(8,8,8)"/>
<rect x="1364" y="1840" width="11" height="98" fill="rgb(3,3,3)"/>
<rect x="1364" y="1938" width="11" height="97" fill="rgb(3,3,3)"/>
<rect x="1364" y="2035" width="11" height="98" fill="rgb(3,3,3)"/>
<rect x="1364" y="2133" width="11" height="98" fill="rgb(8,8,8)"/>
<rect x="1364" y="2231" width="11" height="9" fill="rgb(43,43,43)"/>
<rect x="1364" y="2240" width="11" height="98" fill="rgb(135,135,135)"/>
<rect x="1364" y="2338" width="11" height="97" fill="rgb(162,162,162)"/>
<rect x="1364" y="2435" width="11" height="99" fill="rgb(43,43,43)"/>
</g>
<g filter="url(#n0)">
<rect x="1375" y="1185" width="10" height="98" fill="rgb(128,128,128)"/>
<rect x="1375" y="1283" width="10" height="64" fill="rgb(43,43,43)"/>
<rect x="1375" y="1347" width="10" height="45" fill="rgb(11,11,11)"/>
<rect x="1375" y="1392" width="10" height="98" fill="rgb(3,3,3)"/>
<rect x="1375" y="1490" width="10" height="98" fill="rgb(3,3,3)"/>
<rect x="1375" y="1588" width="10" height="94" fill="rgb(109,109,109)"/>
<rect x="1375" y="1682" width="10" height="4" fill="rgb(16,16,16)"/>
<rect x="1375" y="1686" width="10" height="100" fill="rgb(8,8,8)"/>
<rect x="1375" y="1786" width="10" height="54" fill="rgb(8,8,8)"/>
<rect x="1375" y="1840" width="10" height="98" fill="rgb(3,3,3)"/>
<rect x="1375" y="1938" width="10" height="97" fill="rgb(3,3,3)"/>
<rect x="1375" y="2035" width="10" height="98" fill="rgb(3,3,3)"/>
<rect x="1375" y="2133" width="10" height="98" fill="rgb(8,8,8)"/>
<rect x="1375" y="2231" width="10" height="9" fill="rgb(43,43,43)"/>
<rect x="1375" y="2240" width="10" height="98" fill="rgb(149,149,149)"/>
<rect x="1375" y="2338" width="10" height="97" fill="rgb(149,149,149)"/>
<rect x="1375" y="2435" width="10" height="99" fill="rgb(69,69,69)"/>
</g>
<g filter="url(#n2)">
<rect x="1385" y="1185" width="11" height="98" fill="rgb(122,122,122)"/>
<rect x="1385" y="1283" width="11" height="64" fill="rgb(29,29,29)"/>
<rect x="1385" y="1347" width="11" height="45" fill="rgb(11,11,11)"/>
<rect x="1385" y="1392" width="11" height="98" fill="rgb(3,3,3)"/>
<rect x="1385" y="1490" width="11" height="98" fill="rgb(3,3,3)"/>
<rect x="1385" y="1588" width="11" height="94" fill="rgb(109,109,109)"/>
<rect x="1385" y="1682" width="11" height="4" fill="rgb(16,16,16)"/>
<rect x="1385" y="1686" width="11" height="100" fill="rgb(8,8,8)"/>
<rect x="1385" y="1786" width="11" height="54" fill="rgb(8,8,8)"/>
<rect x="1385" y="1840" width="11" height="98" fill="rgb(3,3,3)"/>
<rect x="1385" y="1938" width="11" height="97" fill="rgb(3,3,3)"/>
<rect x="1385" y="2035" width="11" height="98" fill="rgb(3,3,3)"/>
<rect x="1385" y="2133" width="11" height="98" fill="rgb(8,8,8)"/>
<rect x="1385" y="2231" width="11" height="9" fill="rgb(43,43,43)"/>
<rect x="1385" y="2240" width="11" height="98" fill="rgb(162,162,162)"/>
<rect x="1385" y="2338" width="11" height="97" fill="rgb(149,149,149)"/>
<rect x="1385" y="2435" width="11" height="99" fill="rgb(82,82,82)"/>
</g>
<g filter="url(#n4)">
<rect x="1396" y="1185" width="11" height="98" fill="rgb(109,109,109)"/>
<rect x="1396" y="1283" width="11" height="64" fill="rgb(16,16,16)"/>
<rect x="1396" y="1347" width="11" height="45" fill="rgb(11,11,11)"/>
<rect x="1396" y="1392" width="11" height="98" fill="rgb(3,3,3)"/>
<rect x="1396" y="1490" width="11" height="98" fill="rgb(3,3,3)"/>
<rect x="1396" y="1588" width="11" height="94" fill="rgb(96,96,96)"/>
<rect x="1396" y="1682" width="11" height="4" fill="rgb(16,16,16)"/>
<rect x="1396" y="1686" width="11" height="100" fill="rgb(8,8,8)"/>
<rect x="1396" y="1786" width="11" height="54" fill="rgb(8,8,8)"/>
<rect x="1396" y="1840" width="11" height="98" fill="rgb(3,3,3)"/>
<rect x="1396" y="1938" width="11" height="97" fill="rgb(3,3,3)"/>
<rect x="1396" y="2035" width="11" height="98" fill="rgb(3,3,3)"/>
<rect x="1396" y="2133" width="11" height="98" fill="rgb(8,8,8)"/>
<rect x="1396" y="2231" width="11" height="9" fill="rgb(43,43,43)"/>
<rect x="1396" y="2240" width="11" height="98" fill="rgb(170,170,170)"/>
<rect x="1396" y="2338" width="11" height="97" fill="rgb(149,149,149)"/>
<rect x="1396" y="2435" width="11" height="99" fill="rgb(202,202,202)"/>
</g>
<g filter="url(#n1)">
<rect x="1407" y="1185" width="11" height="98" fill="rgb(122,122,122)"/>
<rect x="1407" y="1283" width="11" height="64" fill="rgb(16,16,16)"/>
<rect x="1407" y="1347" width="11" height="45" fill="rgb(11,11,11)"/>
<rect x="1407" y="1392" width="11" height="98" fill="rgb(3,3,3)"/>
<rect x="1407" y="1490" width="11" height="98" fill="rgb(3,3,3)"/>
<rect x="1407" y="1588" width="11" height="94" fill="rgb(135,135,135)"/>
<rect x="1407" y="1682" width="11" height="4" fill="rgb(16,16,16)"/>
<rect x="1407" y="1686" width="11" height="100" fill="rgb(8,8,8)"/>
<rect x="1407" y="1786" width="11" height="54" fill="rgb(8,8,8)"/>
<rect x="1407" y="1840" width="11" height="98" fill="rgb(3,3,3)"/>
<rect x="1407" y="1938" width="11" height="97" fill="rgb(3,3,3)"/>
<rect x="1407" y="2035" width="11" height="98" fill="rgb(3,3,3)"/>
<rect x="1407" y="2133" width="11" height="98" fill="rgb(8,8,8)"/>
<rect x="1407" y="2231" width="11" height="9" fill="rgb(43,43,43)"/>
<rect x="1407" y="2240" width="11" height="98" fill="rgb(228,228,228)"/>
<rect x="1407" y="2338" width="11" height="97" fill="rgb(189,189,189)"/>
<rect x="1407" y="2435" width="11" height="99" fill="rgb(242,242,242)"/>
</g>
<g filter="url(#n1)">
<rect x="1428" y="1185" width="11" height="98" fill="rgb(170,170,170)"/>
<rect x="1428" y="1283" width="11" height="64" fill="rgb(175,175,175)"/>
<rect x="1428" y="1347" width="11" height="45" fill="rgb(82,82,82)"/>
<rect x="1428" y="1392" width="11" height="98" fill="rgb(43,43,43)"/>
<rect x="1428" y="1490" width="11" height="98" fill="rgb(16,16,16)"/>
<rect x="1428" y="1588" width="11" height="94" fill="rgb(202,202,202)"/>
<rect x="1428" y="1682" width="11" height="4" fill="rgb(16,16,16)"/>
<rect x="1428" y="1686" width="11" height="100" fill="rgb(11,11,11)"/>
<rect x="1428" y="1786" width="11" height="54" fill="rgb(69,69,69)"/>
<rect x="1428" y="1840" width="11" height="98" fill="rgb(21,21,21)"/>
<rect x="1428" y="1938" width="11" height="97" fill="rgb(3,3,3)"/>
<rect x="1428" y="2035" width="11" height="98" fill="rgb(8,8,8)"/>
<rect x="1428" y="2133" width="11" height="98" fill="rgb(16,16,16)"/>
<rect x="1428" y="2231" width="11" height="9" fill="rgb(82,82,82)"/>
<rect x="1428" y="2240" width="11" height="98" fill="rgb(69,69,69)"/>
<rect x="1428" y="2338" width="11" height="97" fill="rgb(135,135,135)"/>
<rect x="1428" y="2435" width="11" height="99" fill="rgb(11,11,11)"/>
</g>
<g filter="url(#n3)">
<rect x="1439" y="1185" width="10" height="98" fill="rgb(170,170,170)"/>
<rect x="1439" y="1283" width="10" height="64" fill="rgb(175,175,175)"/>
<rect x="1439" y="1347" width="10" height="45" fill="rgb(69,69,69)"/>
<rect x="1439" y="1392" width="10" height="98" fill="rgb(37,37,37)"/>
<rect x="1439" y="1490" width="10" height="98" fill="rgb(16,16,16)"/>
<rect x="1439" y="1588" width="10" height="94" fill="rgb(189,189,189)"/>
<rect x="1439" y="1682" width="10" height="4" fill="rgb(16,16,16)"/>
<rect x="1439" y="1686" width="10" height="100" fill="rgb(11,11,11)"/>
<rect x="1439" y="1786" width="10" height="54" fill="rgb(56,56,56)"/>
<rect x="1439" y="1840" width="10" height="98" fill="rgb(21,21,21)"/>
<rect x="1439" y="1938" width="10" height="97" fill="rgb(3,3,3)"/>
<rect x="1439" y="2035" width="10" height="98" fill="rgb(8,8,8)"/>
<rect x="1439" y="2133" width="10" height="98" fill="rgb(16,16,16)"/>
<rect x="1439" y="2231" width="10" height="9" fill="rgb(82,82,82)"/>
<rect x="1439" y="2240" width="10" height="98" fill="rgb(82,82,82)"/>
<rect x="1439" y="2338" width="10" height="97" fill="rgb(122,122,122)"/>
<rect x="1439" y="2435" width="10" height="99" fill="rgb(11,11,11)"/>
</g>
<g filter="url(#n0)">
<rect x="1449" y="1185" width="11" height="98" fill="rgb(154,154,154)"/>
<rect x="1449" y="1283" width="11" height="64" fill="rgb(69,69,69)"/>
<rect x="1449" y="1347" width="11" height="45" fill="rgb(122,122,122)"/>
<rect x="1449" y="1392" width="11" height="98" fill="rgb(21,21,21)"/>
<rect x="1449" y="1490" width="11" height="98" fill="rgb(16,16,16)"/>
<rect x="1449" y="1588" width="11" height="94" fill="rgb(162,162,162)"/>
<rect x="1449" y="1682" width="11" height="4" fill="rgb(16,16,16)"/>
<rect x="1449" y="1686" width="11" height="100" fill="rgb(11,11,11)"/>
<rect x="1449" y="1786" width="11" height="54" fill="rgb(29,29,29)"/>
<rect x="1449" y="1840" width="11" height="98" fill="rgb(21,21,21)"/>
<rect x="1449" y="1938" width="11" height="97" fill="rgb(3,3,3)"/>
<rect x="1449" y="2035" width="11" height="98" fill="rgb(8,8,8)"/>
<rect x="1449" y="2133" width="11" height="98" fill="rgb(16,16,16)"/>
<rect x="1449" y="2231" width="11" height="9" fill="rgb(82,82,82)"/>
<rect x="1449" y="2240" width="11" height="98" fill="rgb(109,109,109)"/>
<rect x="1449" y="2338" width="11" height="97" fill="rgb(122,122,122)"/>
<rect x="1449" y="2435" width="11" height="99" fill="rgb(16,16,16)"/>
</g>
<g filter="url(#n2)">
<rect x="1460" y="1185" width="11" height="98" fill="rgb(29,29,29)"/>
<rect x="1460" y="1283" width="11" height="64" fill="rgb(82,82,82)"/>
<rect x="1460" y="1347" width="11" height="45" fill="rgb(96,96,96)"/>
<rect x="1460" y="1392" width="11" height="98" fill="rgb(223,223,223)"/>
<rect x="1460" y="1490" width="11" height="98" fill="rgb(122,122,122)"/>
<rect x="1460" y="1588" width="11" height="94" fill="rgb(175,175,175)"/>
<rect x="1460" y="1682" width="11" height="4" fill="rgb(16,16,16)"/>
<rect x="1460" y="1686" width="11" height="100" fill="rgb(11,11,11)"/>
<rect x="1460" y="1786" width="11" height="54" fill="rgb(43,43,43)"/>
<rect x="1460" y="1840" width="11" height="98" fill="rgb(21,21,21)"/>
<rect x="1460" y="1938" width="11" height="97" fill="rgb(3,3,3)"/>
<rect x="1460" y="2035" width="11" height="98" fill="rgb(8,8,8)"/>
<rect x="1460" y="2133" width="11" height="98" fill="rgb(16,16,16)"/>
<rect x="1460" y="2231" width="11" height="9" fill="rgb(69,69,69)"/>
<rect x="1460" y="2240" width="11" height="98" fill="rgb(3,3,3)"/>
<rect x="1460" y="2338" width="11" height="97" fill="rgb(16,16,16)"/>
<rect x="1460" y="2435" width="11" height="99" fill="rgb(3,3,3)"/>
</g>
<g filter="url(#n4)">
<rect x="1471" y="1185" width="10" height="98" fill="rgb(29,29,29)"/>
<rect x="1471" y="1283" width="10" height="64" fill="rgb(82,82,82)"/>
<rect x="1471" y="1347" width="10" height="45" fill="rgb(96,96,96)"/>
<rect x="1471" y="1392" width="10" height="98" fill="rgb(207,207,207)"/>
<rect x="1471" y="1490" width="10" height="98" fill="rgb(135,135,135)"/>
<rect x="1471" y="1588" width="10" height="94" fill="rgb(162,162,162)"/>
<rect x="1471" y="1682" width="10" height="4" fill="rgb(16,16,16)"/>
<rect x="1471" y="1686" width="10" height="100" fill="rgb(11,11,11)"/>
<rect x="1471" y="1786" width="10" height="54" fill="rgb(43,43,43)"/>
<rect x="1471" y="1840" width="10" height="98" fill="rgb(21,21,21)"/>
<rect x="1471" y="1938" width="10" height="97" fill="rgb(3,3,3)"/>
<rect x="1471" y="2035" width="10" height="98" fill="rgb(8,8,8)"/>
<rect x="1471" y="2133" width="10" height="98" fill="rgb(16,16,16)"/>
<rect x="1471" y="2231" width="10" height="9" fill="rgb(69,69,69)"/>
<rect x="1471" y="2240" width="10" height="98" fill="rgb(11,11,11)"/>
<rect x="1471" y="2338" width="10" height="97" fill="rgb(16,16,16)"/>
<rect x="1471" y="2435" width="10" height="99" fill="rgb(3,3,3)"/>
</g>
<g filter="url(#n1)">
<rect x="1481" y="1185" width="11" height="98" fill="rgb(56,56,56)"/>
<rect x="1481" y="1283" width="11" height="64" fill="rgb(135,135,135)"/>
<rect x="1481" y="1347" width="11" height="45" fill="rgb(202,202,202)"/>
<rect x="1481" y="1392" width="11" height="98" fill="rgb(149,149,149)"/>
<rect x="1481" y="1490" width="11" height="98" fill="rgb(122,122,122)"/>
<rect x="1481" y="1588" width="11" height="94" fill="rgb(175,175,175)"/>
<rect x="1481" y="1682" width="11" height="4" fill="rgb(16,16,16)"/>
<rect x="1481" y="1686" width="11" height="100" fill="rgb(11,11,11)"/>
<rect x="1481" y="1786" width="11" height="54" fill="rgb(43,43,43)"/>
<rect x="1481" y="1840" width="11" height="98" fill="rgb(21,21,21)"/>
<rect x="1481" y="1938" width="11" height="97" fill="rgb(3,3,3)"/>
<rect x="1481" y="2035" width="11" height="98" fill="rgb(8,8,8)"/>
<rect x="1481" y="2133" width="11" height="98" fill="rgb(16,16,16)"/>
<rect x="1481" y="2231" width="11" height="9" fill="rgb(29,29,29)"/>
<rect x="1481" y="2240" width="11" height="98" fill="rgb(29,29,29)"/>
<rect x="1481" y="2338" width="11" height="97" fill="rgb(29,29,29)"/>
<rect x="1481" y="2435" width="11" height="99" fill="rgb(3,3,3)"/>
</g>
<g filter="url(#n3)">
<rect x="1492" y="1185" width="11" height="98" fill="rgb(56,56,56)"/>
<rect x="1492" y="1283" width="11" height="64" fill="rgb(242,242,242)"/>
<rect x="1492" y="1347" width="11" height="45" fill="rgb(242,242,242)"/>
<rect x="1492" y="1392" width="11" height="98" fill="rgb(82,82,82)"/>
<rect x="1492" y="1490" width="11" height="98" fill="rgb(56,56,56)"/>
<rect x="1492" y="1588" width="11" height="94" fill="rgb(135,135,135)"/>
<rect x="1492" y="1682" width="11" height="4" fill="rgb(16,16,16)"/>
<rect x="1492" y="1686" width="11" height="100" fill="rgb(11,11,11)"/>
<rect x="1492" y="1786" width="11" height="54" fill="rgb(56,56,56)"/>
<rect x="1492" y="1840" width="11" height="98" fill="rgb(21,21,21)"/>
<rect x="1492" y="1938" width="11" height="97" fill="rgb(3,3,3)"/>
<rect x="1492" y="2035" width="11" height="98" fill="rgb(8,8,8)"/>
<rect x="1492" y="2133" width="11" height="98" fill="rgb(16,16,16)"/>
<rect x="1492" y="2231" width="11" height="9" fill="rgb(29,29,29)"/>
<rect x="1492" y="2240" width="11" height="98" fill="rgb(29,29,29)"/>
<rect x="1492" y="2338" width="11" height="97" fill="rgb(43,43,43)"/>
<rect x="1492" y="2435" width="11" height="99" fill="rgb(3,3,3)"/>
</g>
<g filter="url(#n0)">
<rect x="1503" y="1185" width="11" height="98" fill="rgb(16,16,16)"/>
<rect x="1503" y="1283" width="11" height="64" fill="rgb(29,29,29)"/>
<rect x="1503" y="1347" width="11" height="45" fill="rgb(43,43,43)"/>
<rect x="1503" y="1392" width="11" height="98" fill="rgb(215,215,215)"/>
<rect x="1503" y="1490" width="11" height="98" fill="rgb(149,149,149)"/>
<rect x="1503" y="1588" width="11" height="94" fill="rgb(162,162,162)"/>
<rect x="1503" y="1682" width="11" height="4" fill="rgb(16,16,16)"/>
<rect x="1503" y="1686" width="11" height="100" fill="rgb(11,11,11)"/>
<rect x="1503" y="1786" width="11" height="54" fill="rgb(69,69,69)"/>
<rect x="1503" y="1840" width="11" height="98" fill="rgb(21,21,21)"/>
<rect x="1503" y="1938" width="11" height="97" fill="rgb(3,3,3)"/>
<rect x="1503" y="2035" width="11" height="98" fill="rgb(8,8,8)"/>
<rect x="1503" y="2133" width="11" height="98" fill="rgb(16,16,16)"/>
<rect x="1503" y="2231" width="11" height="9" fill="rgb(29,29,29)"/>
<rect x="1503" y="2240" width="11" height="98" fill="rgb(3,3,3)"/>
<rect x="1503" y="2338" width="11" height="97" fill="rgb(3,3,3)"/>
<rect x="1503" y="2435" width="11" height="99" fill="rgb(3,3,3)"/>
</g>
<g filter="url(#n2)">
<rect x="1514" y="1185" width="10" height="98" fill="rgb(29,29,29)"/>
<rect x="1514" y="1283" width="10" height="64" fill="rgb(43,43,43)"/>
<rect x="1514" y="1347" width="10" height="45" fill="rgb(43,43,43)"/>
<rect x="1514" y="1392" width="10" height="98" fill="rgb(207,207,207)"/>
<rect x="1514" y="1490" width="10" height="98" fill="rgb(135,135,135)"/>
<rect x="1514" y="1588" width="10" height="94" fill="rgb(175,175,175)"/>
<rect x="1514" y="1682" width="10" height="4" fill="rgb(16,16,16)"/>
<rect x="1514" y="1686" width="10" height="100" fill="rgb(11,11,11)"/>
<rect x="1514" y="1786" width="10" height="54" fill="rgb(69,69,69)"/>
<rect x="1514" y="1840" width="10" height="98" fill="rgb(21,21,21)"/>
<rect x="1514" y="1938" width="10" height="97" fill="rgb(3,3,3)"/>
<rect x="1514" y="2035" width="10" height="98" fill="rgb(8,8,8)"/>
<rect x="1514" y="2133" width="10" height="98" fill="rgb(16,16,16)"/>
<rect x="1514" y="2231" width="10" height="9" fill="rgb(29,29,29)"/>
<rect x="1514" y="2240" width="10" height="98" fill="rgb(3,3,3)"/>
<rect x="1514" y="2338" width="10" height="97" fill="rgb(3,3,3)"/>
<rect x="1514" y="2435" width="10" height="99" fill="rgb(3,3,3)"/>
</g>
<g filter="url(#n4)">
<rect x="1524" y="1185" width="11" height="98" fill="rgb(21,21,21)"/>
<rect x="1524" y="1283" width="11" height="64" fill="rgb(29,29,29)"/>
<rect x="1524" y="1347" width="11" height="45" fill="rgb(122,122,122)"/>
<rect x="1524" y="1392" width="11" height="98" fill="rgb(181,181,181)"/>
<rect x="1524" y="1490" width="11" height="98" fill="rgb(215,215,215)"/>
<rect x="1524" y="1588" width="11" height="94" fill="rgb(175,175,175)"/>
<rect x="1524" y="1682" width="11" height="4" fill="rgb(149,149,149)"/>
<rect x="1524" y="1686" width="11" height="100" fill="rgb(11,11,11)"/>
<rect x="1524" y="1786" width="11" height="54" fill="rgb(69,69,69)"/>
<rect x="1524" y="1840" width="11" height="98" fill="rgb(21,21,21)"/>
<rect x="1524" y="1938" width="11" height="97" fill="rgb(3,3,3)"/>
<rect x="1524" y="2035" width="11" height="98" fill="rgb(8,8,8)"/>
<rect x="1524" y="2133" width="11" height="98" fill="rgb(16,16,16)"/>
<rect x="1524" y="2231" width="11" height="9" fill="rgb(29,29,29)"/>
<rect x="1524" y="2240" width="11" height="98" fill="rgb(3,3,3)"/>
<rect x="1524" y="2338" width="11" height="97" fill="rgb(3,3,3)"/>
<rect x="1524" y="2435" width="11" height="99" fill="rgb(3,3,3)"/>
</g>
<g filter="url(#n1)">
<rect x="1535" y="1185" width="11" height="98" fill="rgb(16,16,16)"/>
<rect x="1535" y="1283" width="11" height="64" fill="rgb(29,29,29)"/>
<rect x="1535" y="1347" width="11" height="45" fill="rgb(56,56,56)"/>
<rect x="1535" y="1392" width="11" height="98" fill="rgb(154,154,154)"/>
<rect x="1535" y="1490" width="11" height="98" fill="rgb(242,242,242)"/>
<rect x="1535" y="1588" width="11" height="94" fill="rgb(149,149,149)"/>
<rect x="1535" y="1682" width="11" height="4" fill="rgb(228,228,228)"/>
<rect x="1535" y="1686" width="11" height="100" fill="rgb(11,11,11)"/>
<rect x="1535" y="1786" width="11" height="54" fill="rgb(43,43,43)"/>
<rect x="1535" y="1840" width="11" height="98" fill="rgb(21,21,21)"/>
<rect x="1535" y="1938" width="11" height="97" fill="rgb(3,3,3)"/>
<rect x="1535" y="2035" width="11" height="98" fill="rgb(8,8,8)"/>
<rect x="1535" y="2133" width="11" height="98" fill="rgb(16,16,16)"/>
<rect x="1535" y="2231" width="11" height="9" fill="rgb(29,29,29)"/>
<rect x="1535" y="2240" width="11" height="98" fill="rgb(3,3,3)"/>
<rect x="1535" y="2338" width="11" height="97" fill="rgb(3,3,3)"/>
<rect x="1535" y="2435" width="11" height="99" fill="rgb(3,3,3)"/>
</g>
<g filter="url(#n3)">
<rect x="1546" y="1185" width="10" height="98" fill="rgb(170,170,170)"/>
<rect x="1546" y="1283" width="10" height="64" fill="rgb(135,135,135)"/>
<rect x="1546" y="1347" width="10" height="45" fill="rgb(43,43,43)"/>
<rect x="1546" y="1392" width="10" height="98" fill="rgb(24,24,24)"/>
<rect x="1546" y="1490" width="10" height="98" fill="rgb(29,29,29)"/>
<rect x="1546" y="1588" width="10" height="94" fill="rgb(175,175,175)"/>
<rect x="1546" y="1682" width="10" height="4" fill="rgb(16,16,16)"/>
<rect x="1546" y="1686" width="10" height="100" fill="rgb(16,16,16)"/>
<rect x="1546" y="1786" width="10" height="54" fill="rgb(82,82,82)"/>
<rect x="1546" y="1840" width="10" height="98" fill="rgb(21,21,21)"/>
<rect x="1546" y="1938" width="10" height="97" fill="rgb(3,3,3)"/>
<rect x="1546" y="2035" width="10" height="98" fill="rgb(8,8,8)"/>
<rect x="1546" y="2133" width="10" height="98" fill="rgb(16,16,16)"/>
<rect x="1546" y="2231" width="10" height="9" fill="rgb(149,149,149)"/>
<rect x="1546" y="2240" width="10" height="98" fill="rgb(69,69,69)"/>
<rect x="1546" y="2338" width="10" height="97" fill="rgb(162,162,162)"/>
<rect x="1546" y="2435" width="10" height="99" fill="rgb(16,16,16)"/>
</g>
<g filter="url(#n0)">
<rect x="1556" y="1185" width="11" height="98" fill="rgb(170,170,170)"/>
<rect x="1556" y="1283" width="11" height="64" fill="rgb(135,135,135)"/>
<rect x="1556" y="1347" width="11" height="45" fill="rgb(109,109,109)"/>
<rect x="1556" y="1392" width="11" height="98" fill="rgb(24,24,24)"/>
<rect x="1556" y="1490" width="11" height="98" fill="rgb(29,29,29)"/>
<rect x="1556" y="1588" width="11" height="94" fill="rgb(162,162,162)"/>
<rect x="1556" y="1682" width="11" height="4" fill="rgb(16,16,16)"/>
<rect x="1556" y="1686" width="11" height="100" fill="rgb(16,16,16)"/>
<rect x="1556" y="1786" width="11" height="54" fill="rgb(69,69,69)"/>
<rect x="1556" y="1840" width="11" height="98" fill="rgb(21,21,21)"/>
<rect x="1556" y="1938" width="11" height="97" fill="rgb(3,3,3)"/>
<rect x="1556" y="2035" width="11" height="98" fill="rgb(8,8,8)"/>
<rect x="1556" y="2133" width="11" height="98" fill="rgb(16,16,16)"/>
<rect x="1556" y="2231" width="11" height="9" fill="rgb(122,122,122)"/>
<rect x="1556" y="2240" width="11" height="98" fill="rgb(82,82,82)"/>
<rect x="1556" y="2338" width="11" height="97" fill="rgb(162,162,162)"/>
<rect x="1556" y="2435" width="11" height="99" fill="rgb(21,21,21)"/>
</g>
<g filter="url(#n2)">
<rect x="1567" y="1185" width="11" height="98" fill="rgb(154,154,154)"/>
<rect x="1567" y="1283" width="11" height="64" fill="rgb(109,109,109)"/>
<rect x="1567" y="1347" width="11" height="45" fill="rgb(69,69,69)"/>
<rect x="1567" y="1392" width="11" height="98" fill="rgb(24,24,24)"/>
<rect x="1567" y="1490" width="11" height="98" fill="rgb(29,29,29)"/>
<rect x="1567" y="1588" width="11" height="94" fill="rgb(162,162,162)"/>
<rect x="1567" y="1682" width="11" height="4" fill="rgb(16,16,16)"/>
<rect x="1567" y="1686" width="11" height="100" fill="rgb(16,16,16)"/>
<rect x="1567" y="1786" width="11" height="54" fill="rgb(43,43,43)"/>
<rect x="1567" y="1840" width="11" height="98" fill="rgb(21,21,21)"/>
<rect x="1567" y="1938" width="11" height="97" fill="rgb(3,3,3)"/>
<rect x="1567" y="2035" width="11" height="98" fill="rgb(8,8,8)"/>
<rect x="1567" y="2133" width="11" height="98" fill="rgb(16,16,16)"/>
<rect x="1567" y="2231" width="11" height="9" fill="rgb(29,29,29)"/>
<rect x="1567" y="2240" width="11" height="98" fill="rgb(109,109,109)"/>
<rect x="1567" y="2338" width="11" height="97" fill="rgb(149,149,149)"/>
<rect x="1567" y="2435" width="11" height="99" fill="rgb(29,29,29)"/>
</g>
<g filter="url(#n4)">
<rect x="1578" y="1185" width="10" height="98" fill="rgb(122,122,122)"/>
<rect x="1578" y="1283" width="10" height="64" fill="rgb(109,109,109)"/>
<rect x="1578" y="1347" width="10" height="45" fill="rgb(109,109,109)"/>
<rect x="1578" y="1392" width="10" height="98" fill="rgb(24,24,24)"/>
<rect x="1578" y="1490" width="10" height="98" fill="rgb(29,29,29)"/>
<rect x="1578" y="1588" width="10" height="94" fill="rgb(149,149,149)"/>
<rect x="1578" y="1682" width="10" height="4" fill="rgb(16,16,16)"/>
<rect x="1578" y="1686" width="10" height="100" fill="rgb(16,16,16)"/>
<rect x="1578" y="1786" width="10" height="54" fill="rgb(43,43,43)"/>
<rect x="1578" y="1840" width="10" height="98" fill="rgb(21,21,21)"/>
<rect x="1578" y="1938" width="10" height="97" fill="rgb(3,3,3)"/>
<rect x="1578" y="2035" width="10" height="98" fill="rgb(8,8,8)"/>
<rect x="1578" y="2133" width="10" height="98" fill="rgb(16,16,16)"/>
<rect x="1578" y="2231" width="10" height="9" fill="rgb(29,29,29)"/>
<rect x="1578" y="2240" width="10" height="98" fill="rgb(109,109,109)"/>
<rect x="1578" y="2338" width="10" height="97" fill="rgb(149,149,149)"/>
<rect x="1578" y="2435" width="10" height="99" fill="rgb(43,43,43)"/>
</g>
<g filter="url(#n1)">
<rect x="1588" y="1185" width="11" height="98" fill="rgb(122,122,122)"/>
<rect x="1588" y="1283" width="11" height="64" fill="rgb(109,109,109)"/>
<rect x="1588" y="1347" width="11" height="45" fill="rgb(29,29,29)"/>
<rect x="1588" y="1392" width="11" height="98" fill="rgb(24,24,24)"/>
<rect x="1588" y="1490" width="11" height="98" fill="rgb(16,16,16)"/>
<rect x="1588" y="1588" width="11" height="94" fill="rgb(162,162,162)"/>
<rect x="1588" y="1682" width="11" height="4" fill="rgb(16,16,16)"/>
<rect x="1588" y="1686" width="11" height="100" fill="rgb(16,16,16)"/>
<rect x="1588" y="1786" width="11" height="54" fill="rgb(56,56,56)"/>
<rect x="1588" y="1840" width="11" height="98" fill="rgb(21,21,21)"/>
<rect x="1588" y="1938" width="11" height="97" fill="rgb(3,3,3)"/>
<rect x="1588" y="2035" width="11" height="98" fill="rgb(8,8,8)"/>
<rect x="1588" y="2133" width="11" height="98" fill="rgb(16,16,16)"/>
<rect x="1588" y="2231" width="11" height="9" fill="rgb(29,29,29)"/>
<rect x="1588" y="2240" width="11" height="98" fill="rgb(135,135,135)"/>
<rect x="1588" y="2338" width="11" height="97" fill="rgb(135,135,135)"/>
<rect x="1588" y="2435" width="11" height="99" fill="rgb(69,69,69)"/>
</g>
<g filter="url(#n3)">
<rect x="1599" y="1185" width="11" height="98" fill="rgb(117,117,117)"/>
<rect x="1599" y="1283" width="11" height="64" fill="rgb(16,16,16)"/>
<rect x="1599" y="1347" width="11" height="45" fill="rgb(69,69,69)"/>
<rect x="1599" y="1392" width="11" height="98" fill="rgb(24,24,24)"/>
<rect x="1599" y="1490" width="11" height="98" fill="rgb(16,16,16)"/>
<rect x="1599" y="1588" width="11" height="94" fill="rgb(149,149,149)"/>
<rect x="1599" y="1682" width="11" height="4" fill="rgb(16,16,16)"/>
<rect x="1599" y="1686" width="11" height="100" fill="rgb(16,16,16)"/>
<rect x="1599" y="1786" width="11" height="54" fill="rgb(16,16,16)"/>
<rect x="1599" y="1840" width="11" height="98" fill="rgb(21,21,21)"/>
<rect x="1599" y="1938" width="11" height="97" fill="rgb(3,3,3)"/>
<rect x="1599" y="2035" width="11" height="98" fill="rgb(8,8,8)"/>
<rect x="1599" y="2133" width="11" height="98" fill="rgb(16,16,16)"/>
<rect x="1599" y="2231" width="11" height="9" fill="rgb(29,29,29)"/>
<rect x="1599" y="2240" width="11" height="98" fill="rgb(135,135,135)"/>
<rect x="1599" y="2338" width="11" height="97" fill="rgb(135,135,135)"/>
<rect x="1599" y="2435" width="11" height="99" fill="rgb(82,82,82)"/>
</g>
<g filter="url(#n0)">
<rect x="1610" y="1185" width="11" height="98" fill="rgb(109,109,109)"/>
<rect x="1610" y="1283" width="11" height="64" fill="rgb(69,69,69)"/>
<rect x="1610" y="1347" width="11" height="45" fill="rgb(69,69,69)"/>
<rect x="1610" y="1392" width="11" height="98" fill="rgb(24,24,24)"/>
<rect x="1610" y="1490" width="11" height="98" fill="rgb(29,29,29)"/>
<rect x="1610" y="1588" width="11" height="94" fill="rgb(135,135,135)"/>
<rect x="1610" y="1682" width="11" height="4" fill="rgb(16,16,16)"/>
<rect x="1610" y="1686" width="11" height="100" fill="rgb(16,16,16)"/>
<rect x="1610" y="1786" width="11" height="54" fill="rgb(43,43,43)"/>
<rect x="1610" y="1840" width="11" height="98" fill="rgb(21,21,21)"/>
<rect x="1610" y="1938" width="11" height="97" fill="rgb(21,21,21)"/>
<rect x="1610" y="2035" width="11" height="98" fill="rgb(21,21,21)"/>
<rect x="1610" y="2133" width="11" height="98" fill="rgb(16,16,16)"/>
<rect x="1610" y="2231" width="11" height="9" fill="rgb(29,29,29)"/>
<rect x="1610" y="2240" width="11" height="98" fill="rgb(162,162,162)"/>
<rect x="1610" y="2338" width="11" height="97" fill="rgb(149,149,149)"/>
<rect x="1610" y="2435" width="11" height="99" fill="rgb(109,109,109)"/>
</g>
<g filter="url(#n2)">
<rect x="1621" y="1185" width="10" height="98" fill="rgb(56,56,56)"/>
<rect x="1621" y="1283" width="10" height="64" fill="rgb(96,96,96)"/>
<rect x="1621" y="1347" width="10" height="45" fill="rgb(69,69,69)"/>
<rect x="1621" y="1392" width="10" height="98" fill="rgb(29,29,29)"/>
<rect x="1621" y="1490" width="10" height="98" fill="rgb(43,43,43)"/>
<rect x="1621" y="1588" width="10" height="94" fill="rgb(29,29,29)"/>
<rect x="1621" y="1682" width="10" height="4" fill="rgb(16,16,16)"/>
<rect x="1621" y="1686" width="10" height="100" fill="rgb(175,175,175)"/>
<rect x="1621" y="1786" width="10" height="54" fill="rgb(242,242,242)"/>
<rect x="1621" y="1840" width="10" height="98" fill="rgb(56,56,56)"/>
<rect x="1621" y="1938" width="10" height="97" fill="rgb(3,3,3)"/>
<rect x="1621" y="2035" width="10" height="98" fill="rgb(21,21,21)"/>
<rect x="1621" y="2133" width="10" height="98" fill="rgb(135,135,135)"/>
<rect x="1621" y="2231" width="10" height="9" fill="rgb(96,96,96)"/>
<rect x="1621" y="2240" width="10" height="98" fill="rgb(11,11,11)"/>
<rect x="1621" y="2338" width="10" height="97" fill="rgb(162,162,162)"/>
<rect x="1621" y="2435" width="10" height="99" fill="rgb(3,3,3)"/>
</g>
<g filter="url(#n4)">
<rect x="1631" y="1185" width="11" height="98" fill="rgb(29,29,29)"/>
<rect x="1631" y="1283" width="11" height="64" fill="rgb(82,82,82)"/>
<rect x="1631" y="1347" width="11" height="45" fill="rgb(29,29,29)"/>
<rect x="1631" y="1392" width="11" height="98" fill="rgb(24,24,24)"/>
<rect x="1631" y="1490" width="11" height="98" fill="rgb(43,43,43)"/>
<rect x="1631" y="1588" width="11" height="94" fill="rgb(29,29,29)"/>
<rect x="1631" y="1682" width="11" height="4" fill="rgb(16,16,16)"/>
<rect x="1631" y="1686" width="11" height="100" fill="rgb(175,175,175)"/>
<rect x="1631" y="1786" width="11" height="54" fill="rgb(149,149,149)"/>
<rect x="1631" y="1840" width="11" height="98" fill="rgb(56,56,56)"/>
<rect x="1631" y="1938" width="11" height="97" fill="rgb(3,3,3)"/>
<rect x="1631" y="2035" width="11" height="98" fill="rgb(16,16,16)"/>
<rect x="1631" y="2133" width="11" height="98" fill="rgb(122,122,122)"/>
<rect x="1631" y="2231" width="11" height="9" fill="rgb(29,29,29)"/>
<rect x="1631" y="2240" width="11" height="98" fill="rgb(11,11,11)"/>
<rect x="1631" y="2338" width="11" height="97" fill="rgb(135,135,135)"/>
<rect x="1631" y="2435" width="11" height="99" fill="rgb(3,3,3)"/>
</g>
<g filter="url(#n1)">
<rect x="1642" y="1185" width="11" height="98" fill="rgb(29,29,29)"/>
<rect x="1642" y="1283" width="11" height="64" fill="rgb(43,43,43)"/>
<rect x="1642" y="1347" width="11" height="45" fill="rgb(56,56,56)"/>
<rect x="1642" y="1392" width="11" height="98" fill="rgb(24,24,24)"/>
<rect x="1642" y="1490" width="11" height="98" fill="rgb(43,43,43)"/>
<rect x="1642" y="1588" width="11" height="94" fill="rgb(29,29,29)"/>
<rect x="1642" y="1682" width="11" height="4" fill="rgb(16,16,16)"/>
<rect x="1642" y="1686" width="11" height="100" fill="rgb(135,135,135)"/>
<rect x="1642" y="1786" width="11" height="54" fill="rgb(135,135,135)"/>
<rect x="1642" y="1840" width="11" height="98" fill="rgb(43,43,43)"/>
<rect x="1642" y="1938" width="11" height="97" fill="rgb(3,3,3)"/>
<rect x="1642" y="2035" width="11" height="98" fill="rgb(16,16,16)"/>
<rect x="1642" y="2133" width="11" height="98" fill="rgb(101,101,101)"/>
<rect x="1642" y="2231" width="11" height="9" fill="rgb(29,29,29)"/>
<rect x="1642" y="2240" width="11" height="98" fill="rgb(16,16,16)"/>
<rect x="1642" y="2338" width="11" height="97" fill="rgb(122,122,122)"/>
<rect x="1642" y="2435" width="11" height="99" fill="rgb(3,3,3)"/>
</g>
<g filter="url(#n3)">
<rect x="1653" y="1185" width="10" height="98" fill="rgb(29,29,29)"/>
<rect x="1653" y="1283" width="10" height="64" fill="rgb(56,56,56)"/>
<rect x="1653" y="1347" width="10" height="45" fill="rgb(56,56,56)"/>
<rect x="1653" y="1392" width="10" height="98" fill="rgb(24,24,24)"/>
<rect x="1653" y="1490" width="10" height="98" fill="rgb(43,43,43)"/>
<rect x="1653" y="1588" width="10" height="94" fill="rgb(29,29,29)"/>
<rect x="1653" y="1682" width="10" height="4" fill="rgb(16,16,16)"/>
<rect x="1653" y="1686" width="10" height="100" fill="rgb(189,189,189)"/>
<rect x="1653" y="1786" width="10" height="54" fill="rgb(135,135,135)"/>
<rect x="1653" y="1840" width="10" height="98" fill="rgb(56,56,56)"/>
<rect x="1653" y="1938" width="10" height="97" fill="rgb(3,3,3)"/>
<rect x="1653" y="2035" width="10" height="98" fill="rgb(16,16,16)"/>
<rect x="1653" y="2133" width="10" height="98" fill="rgb(117,117,117)"/>
<rect x="1653" y="2231" width="10" height="9" fill="rgb(29,29,29)"/>
<rect x="1653" y="2240" width="10" height="98" fill="rgb(16,16,16)"/>
<rect x="1653" y="2338" width="10" height="97" fill="rgb(122,122,122)"/>
<rect x="1653" y="2435" width="10" height="99" fill="rgb(3,3,3)"/>
</g>
<g filter="url(#n0)">
<rect x="1663" y="1185" width="11" height="98" fill="rgb(29,29,29)"/>
<rect x="1663" y="1283" width="11" height="64" fill="rgb(29,29,29)"/>
<rect x="1663" y="1347" width="11" height="45" fill="rgb(16,16,16)"/>
<rect x="1663" y="1392" width="11" height="98" fill="rgb(24,24,24)"/>
<rect x="1663" y="1490" width="11" height="98" fill="rgb(43,43,43)"/>
<rect x="1663" y="1588" width="11" height="94" fill="rgb(29,29,29)"/>
<rect x="1663" y="1682" width="11" height="4" fill="rgb(16,16,16)"/>
<rect x="1663" y="1686" width="11" height="100" fill="rgb(215,215,215)"/>
<rect x="1663" y="1786" width="11" height="54" fill="rgb(149,149,149)"/>
<rect x="1663" y="1840" width="11" height="98" fill="rgb(69,69,69)"/>
<rect x="1663" y="1938" width="11" height="97" fill="rgb(3,3,3)"/>
<rect x="1663" y="2035" width="11" height="98" fill="rgb(16,16,16)"/>
<rect x="1663" y="2133" width="11" height="98" fill="rgb(143,143,143)"/>
<rect x="1663" y="2231" width="11" height="9" fill="rgb(29,29,29)"/>
<rect x="1663" y="2240" width="11" height="98" fill="rgb(29,29,29)"/>
<rect x="1663" y="2338" width="11" height="97" fill="rgb(135,135,135)"/>
<rect x="1663" y="2435" width="11" height="99" fill="rgb(3,3,3)"/>
</g>
<g filter="url(#n2)">
<rect x="1674" y="1185" width="11" height="98" fill="rgb(29,29,29)"/>
<rect x="1674" y="1283" width="11" height="64" fill="rgb(29,29,29)"/>
<rect x="1674" y="1347" width="11" height="45" fill="rgb(16,16,16)"/>
<rect x="1674" y="1392" width="11" height="98" fill="rgb(24,24,24)"/>
<rect x="1674" y="1490" width="11" height="98" fill="rgb(56,56,56)"/>
<rect x="1674" y="1588" width="11" height="94" fill="rgb(29,29,29)"/>
<rect x="1674" y="1682" width="11" height="4" fill="rgb(16,16,16)"/>
<rect x="1674" y="1686" width="11" height="100" fill="rgb(215,215,215)"/>
<rect x="1674" y="1786" width="11" height="54" fill="rgb(135,135,135)"/>
<rect x="1674" y="1840" width="11" height="98" fill="rgb(82,82,82)"/>
<rect x="1674" y="1938" width="11" height="97" fill="rgb(3,3,3)"/>
<rect x="1674" y="2035" width="11" height="98" fill="rgb(16,16,16)"/>
<rect x="1674" y="2133" width="11" height="98" fill="rgb(143,143,143)"/>
<rect x="1674" y="2231" width="11" height="9" fill="rgb(29,29,29)"/>
<rect x="1674" y="2240" width="11" height="98" fill="rgb(43,43,43)"/>
<rect x="1674" y="2338" width="11" height="97" fill="rgb(122,122,122)"/>
<rect x="1674" y="2435" width="11" height="99" fill="rgb(3,3,3)"/>
</g>
<g filter="url(#n4)">
<rect x="1685" y="1185" width="10" height="98" fill="rgb(43,43,43)"/>
<rect x="1685" y="1283" width="10" height="64" fill="rgb(43,43,43)"/>
<rect x="1685" y="1347" width="10" height="45" fill="rgb(29,29,29)"/>
<rect x="1685" y="1392" width="10" height="98" fill="rgb(24,24,24)"/>
<rect x="1685" y="1490" width="10" height="98" fill="rgb(56,56,56)"/>
<rect x="1685" y="1588" width="10" height="94" fill="rgb(29,29,29)"/>
<rect x="1685" y="1682" width="10" height="4" fill="rgb(16,16,16)"/>
<rect x="1685" y="1686" width="10" height="100" fill="rgb(242,242,242)"/>
<rect x="1685" y="1786" width="10" height="54" fill="rgb(135,135,135)"/>
<rect x="1685" y="1840" width="10" height="98" fill="rgb(69,69,69)"/>
<rect x="1685" y="1938" width="10" height="97" fill="rgb(3,3,3)"/>
<rect x="1685" y="2035" width="10" height="98" fill="rgb(29,29,29)"/>
<rect x="1685" y="2133" width="10" height="98" fill="rgb(162,162,162)"/>
<rect x="1685" y="2231" width="10" height="9" fill="rgb(29,29,29)"/>
<rect x="1685" y="2240" width="10" height="98" fill="rgb(56,56,56)"/>
<rect x="1685" y="2338" width="10" height="97" fill="rgb(162,162,162)"/>
<rect x="1685" y="2435" width="10" height="99" fill="rgb(16,16,16)"/>
</g>
<g filter="url(#n1)">
<rect x="1695" y="1185" width="11" height="98" fill="rgb(3,3,3)"/>
<rect x="1695" y="1283" width="11" height="64" fill="rgb(43,43,43)"/>
<rect x="1695" y="1347" width="11" height="45" fill="rgb(69,69,69)"/>
<rect x="1695" y="1392" width="11" height="98" fill="rgb(3,3,3)"/>
<rect x="1695" y="1490" width="11" height="98" fill="rgb(29,29,29)"/>
<rect x="1695" y="1588" width="11" height="94" fill="rgb(3,3,3)"/>
<rect x="1695" y="1682" width="11" height="4" fill="rgb(16,16,16)"/>
<rect x="1695" y="1686" width="11" height="100" fill="rgb(149,149,149)"/>
<rect x="1695" y="1786" width="11" height="54" fill="rgb(29,29,29)"/>
<rect x="1695" y="1840" width="11" height="98" fill="rgb(242,242,242)"/>
<rect x="1695" y="1938" width="11" height="97" fill="rgb(16,16,16)"/>
<rect x="1695" y="2035" width="11" height="98" fill="rgb(189,189,189)"/>
<rect x="1695" y="2133" width="11" height="98" fill="rgb(170,170,170)"/>
<rect x="1695" y="2231" width="11" height="9" fill="rgb(29,29,29)"/>
<rect x="1695" y="2240" width="11" height="98" fill="rgb(3,3,3)"/>
<rect x="1695" y="2338" width="11" height="97" fill="rgb(29,29,29)"/>
<rect x="1695" y="2435" width="11" height="99" fill="rgb(3,3,3)"/>
</g>
<g filter="url(#n3)">
<rect x="1706" y="1185" width="11" height="98" fill="rgb(3,3,3)"/>
<rect x="1706" y="1283" width="11" height="64" fill="rgb(29,29,29)"/>
<rect x="1706" y="1347" width="11" height="45" fill="rgb(29,29,29)"/>
<rect x="1706" y="1392" width="11" height="98" fill="rgb(3,3,3)"/>
<rect x="1706" y="1490" width="11" height="98" fill="rgb(43,43,43)"/>
<rect x="1706" y="1588" width="11" height="94" fill="rgb(3,3,3)"/>
<rect x="1706" y="1682" width="11" height="4" fill="rgb(16,16,16)"/>
<rect x="1706" y="1686" width="11" height="100" fill="rgb(109,109,109)"/>
<rect x="1706" y="1786" width="11" height="54" fill="rgb(29,29,29)"/>
<rect x="1706" y="1840" width="11" height="98" fill="rgb(149,149,149)"/>
<rect x="1706" y="1938" width="11" height="97" fill="rgb(56,56,56)"/>
<rect x="1706" y="2035" width="11" height="98" fill="rgb(202,202,202)"/>
<rect x="1706" y="2133" width="11" height="98" fill="rgb(197,197,197)"/>
<rect x="1706" y="2231" width="11" height="9" fill="rgb(29,29,29)"/>
<rect x="1706" y="2240" width="11" height="98" fill="rgb(3,3,3)"/>
<rect x="1706" y="2338" width="11" height="97" fill="rgb(29,29,29)"/>
<rect x="1706" y="2435" width="11" height="99" fill="rgb(3,3,3)"/>
</g>
<g filter="url(#n0)">
<rect x="1717" y="1185" width="11" height="98" fill="rgb(3,3,3)"/>
<rect x="1717" y="1283" width="11" height="64" fill="rgb(29,29,29)"/>
<rect x="1717" y="1347" width="11" height="45" fill="rgb(56,56,56)"/>
<rect x="1717" y="1392" width="11" height="98" fill="rgb(3,3,3)"/>
<rect x="1717" y="1490" width="11" height="98" fill="rgb(56,56,56)"/>
<rect x="1717" y="1588" width="11" height="94" fill="rgb(3,3,3)"/>
<rect x="1717" y="1682" width="11" height="4" fill="rgb(16,16,16)"/>
<rect x="1717" y="1686" width="11" height="100" fill="rgb(11,11,11)"/>
<rect x="1717" y="1786" width="11" height="54" fill="rgb(3,3,3)"/>
<rect x="1717" y="1840" width="11" height="98" fill="rgb(69,69,69)"/>
<rect x="1717" y="1938" width="11" height="97" fill="rgb(242,242,242)"/>
<rect x="1717" y="2035" width="11" height="98" fill="rgb(215,215,215)"/>
<rect x="1717" y="2133" width="11" height="98" fill="rgb(202,202,202)"/>
<rect x="1717" y="2231" width="11" height="9" fill="rgb(29,29,29)"/>
<rect x="1717" y="2240" width="11" height="98" fill="rgb(3,3,3)"/>
<rect x="1717" y="2338" width="11" height="97" fill="rgb(29,29,29)"/>
<rect x="1717" y="2435" width="11" height="99" fill="rgb(3,3,3)"/>
</g>
<g filter="url(#n2)">
<rect x="1728" y="1185" width="10" height="98" fill="rgb(135,135,135)"/>
<rect x="1728" y="1283" width="10" height="64" fill="rgb(43,43,43)"/>
<rect x="1728" y="1347" width="10" height="45" fill="rgb(29,29,29)"/>
<rect x="1728" y="1392" width="10" height="98" fill="rgb(21,21,21)"/>
<rect x="1728" y="1490" width="10" height="98" fill="rgb(16,16,16)"/>
<rect x="1728" y="1588" width="10" height="94" fill="rgb(122,122,122)"/>
<rect x="1728" y="1682" width="10" height="4" fill="rgb(16,16,16)"/>
<rect x="1728" y="1686" width="10" height="100" fill="rgb(16,16,16)"/>
<rect x="1728" y="1786" width="10" height="54" fill="rgb(56,56,56)"/>
<rect x="1728" y="1840" width="10" height="98" fill="rgb(21,21,21)"/>
<rect x="1728" y="1938" width="10" height="97" fill="rgb(3,3,3)"/>
<rect x="1728" y="2035" width="10" height="98" fill="rgb(3,3,3)"/>
<rect x="1728" y="2133" width="10" height="98" fill="rgb(16,16,16)"/>
<rect x="1728" y="2231" width="10" height="9" fill="rgb(242,242,242)"/>
<rect x="1728" y="2240" width="10" height="98" fill="rgb(96,96,96)"/>
<rect x="1728" y="2338" width="10" height="97" fill="rgb(149,149,149)"/>
<rect x="1728" y="2435" width="10" height="99" fill="rgb(29,29,29)"/>
</g>
<g filter="url(#n4)">
<rect x="1738" y="1185" width="11" height="98" fill="rgb(149,149,149)"/>
<rect x="1738" y="1283" width="11" height="64" fill="rgb(56,56,56)"/>
<rect x="1738" y="1347" width="11" height="45" fill="rgb(56,56,56)"/>
<rect x="1738" y="1392" width="11" height="98" fill="rgb(21,21,21)"/>
<rect x="1738" y="1490" width="11" height="98" fill="rgb(16,16,16)"/>
<rect x="1738" y="1588" width="11" height="94" fill="rgb(122,122,122)"/>
<rect x="1738" y="1682" width="11" height="4" fill="rgb(16,16,16)"/>
<rect x="1738" y="1686" width="11" height="100" fill="rgb(16,16,16)"/>
<rect x="1738" y="1786" width="11" height="54" fill="rgb(43,43,43)"/>
<rect x="1738" y="1840" width="11" height="98" fill="rgb(21,21,21)"/>
<rect x="1738" y="1938" width="11" height="97" fill="rgb(3,3,3)"/>
<rect x="1738" y="2035" width="11" height="98" fill="rgb(3,3,3)"/>
<rect x="1738" y="2133" width="11" height="98" fill="rgb(16,16,16)"/>
<rect x="1738" y="2231" width="11" height="9" fill="rgb(69,69,69)"/>
<rect x="1738" y="2240" width="11" height="98" fill="rgb(122,122,122)"/>
<rect x="1738" y="2338" width="11" height="97" fill="rgb(149,149,149)"/>
<rect x="1738" y="2435" width="11" height="99" fill="rgb(43,43,43)"/>
</g>
<g filter="url(#n1)">
<rect x="1749" y="1185" width="11" height="98" fill="rgb(162,162,162)"/>
<rect x="1749" y="1283" width="11" height="64" fill="rgb(56,56,56)"/>
<rect x="1749" y="1347" width="11" height="45" fill="rgb(56,56,56)"/>
<rect x="1749" y="1392" width="11" height="98" fill="rgb(21,21,21)"/>
<rect x="1749" y="1490" width="11" height="98" fill="rgb(16,16,16)"/>
<rect x="1749" y="1588" width="11" height="94" fill="rgb(135,135,135)"/>
<rect x="1749" y="1682" width="11" height="4" fill="rgb(16,16,16)"/>
<rect x="1749" y="1686" width="11" height="100" fill="rgb(16,16,16)"/>
<rect x="1749" y="1786" width="11" height="54" fill="rgb(69,69,69)"/>
<rect x="1749" y="1840" width="11" height="98" fill="rgb(21,21,21)"/>
<rect x="1749" y="1938" width="11" height="97" fill="rgb(3,3,3)"/>
<rect x="1749" y="2035" width="11" height="98" fill="rgb(3,3,3)"/>
<rect x="1749" y="2133" width="11" height="98" fill="rgb(16,16,16)"/>
<rect x="1749" y="2231" width="11" height="9" fill="rgb(69,69,69)"/>
<rect x="1749" y="2240" width="11" height="98" fill="rgb(149,149,149)"/>
<rect x="1749" y="2338" width="11" height="97" fill="rgb(175,175,175)"/>
<rect x="1749" y="2435" width="11" height="99" fill="rgb(82,82,82)"/>
</g>
<g filter="url(#n3)">
<rect x="1760" y="1185" width="10" height="98" fill="rgb(170,170,170)"/>
<rect x="1760" y="1283" width="10" height="64" fill="rgb(43,43,43)"/>
<rect x="1760" y="1347" width="10" height="45" fill="rgb(43,43,43)"/>
<rect x="1760" y="1392" width="10" height="98" fill="rgb(21,21,21)"/>
<rect x="1760" y="1490" width="10" height="98" fill="rgb(16,16,16)"/>
<rect x="1760" y="1588" width="10" height="94" fill="rgb(135,135,135)"/>
<rect x="1760" y="1682" width="10" height="4" fill="rgb(16,16,16)"/>
<rect x="1760" y="1686" width="10" height="100" fill="rgb(16,16,16)"/>
<rect x="1760" y="1786" width="10" height="54" fill="rgb(69,69,69)"/>
<rect x="1760" y="1840" width="10" height="98" fill="rgb(21,21,21)"/>
<rect x="1760" y="1938" width="10" height="97" fill="rgb(3,3,3)"/>
<rect x="1760" y="2035" width="10" height="98" fill="rgb(3,3,3)"/>
<rect x="1760" y="2133" width="10" height="98" fill="rgb(16,16,16)"/>
<rect x="1760" y="2231" width="10" height="9" fill="rgb(69,69,69)"/>
<rect x="1760" y="2240" width="10" height="98" fill="rgb(202,202,202)"/>
<rect x="1760" y="2338" width="10" height="97" fill="rgb(189,189,189)"/>
<rect x="1760" y="2435" width="10" height="99" fill="rgb(135,135,135)"/>
</g>
<g filter="url(#n0)">
<rect x="1770" y="1185" width="11" height="98" fill="rgb(122,122,122)"/>
<rect x="1770" y="1283" width="11" height="64" fill="rgb(16,16,16)"/>
<rect x="1770" y="1347" width="11" height="45" fill="rgb(16,16,16)"/>
<rect x="1770" y="1392" width="11" height="98" fill="rgb(21,21,21)"/>
<rect x="1770" y="1490" width="11" height="98" fill="rgb(16,16,16)"/>
<rect x="1770" y="1588" width="11" height="94" fill="rgb(135,135,135)"/>
<rect x="1770" y="1682" width="11" height="4" fill="rgb(16,16,16)"/>
<rect x="1770" y="1686" width="11" height="100" fill="rgb(16,16,16)"/>
<rect x="1770" y="1786" width="11" height="54" fill="rgb(69,69,69)"/>
<rect x="1770" y="1840" width="11" height="98" fill="rgb(21,21,21)"/>
<rect x="1770" y="1938" width="11" height="97" fill="rgb(3,3,3)"/>
<rect x="1770" y="2035" width="11" height="98" fill="rgb(3,3,3)"/>
<rect x="1770" y="2133" width="11" height="98" fill="rgb(16,16,16)"/>
<rect x="1770" y="2231" width="11" height="9" fill="rgb(69,69,69)"/>
<rect x="1770" y="2240" width="11" height="98" fill="rgb(215,215,215)"/>
<rect x="1770" y="2338" width="11" height="97" fill="rgb(175,175,175)"/>
<rect x="1770" y="2435" width="11" height="99" fill="rgb(228,228,228)"/>
</g>
<g filter="url(#n2)">
<rect x="1781" y="1185" width="11" height="98" fill="rgb(109,109,109)"/>
<rect x="1781" y="1283" width="11" height="64" fill="rgb(16,16,16)"/>
<rect x="1781" y="1347" width="11" height="45" fill="rgb(16,16,16)"/>
<rect x="1781" y="1392" width="11" height="98" fill="rgb(21,21,21)"/>
<rect x="1781" y="1490" width="11" height="98" fill="rgb(16,16,16)"/>
<rect x="1781" y="1588" width="11" height="94" fill="rgb(135,135,135)"/>
<rect x="1781" y="1682" width="11" height="4" fill="rgb(16,16,16)"/>
<rect x="1781" y="1686" width="11" height="100" fill="rgb(16,16,16)"/>
<rect x="1781" y="1786" width="11" height="54" fill="rgb(69,69,69)"/>
<rect x="1781" y="1840" width="11" height="98" fill="rgb(21,21,21)"/>
<rect x="1781" y="1938" width="11" height="97" fill="rgb(3,3,3)"/>
<rect x="1781" y="2035" width="11" height="98" fill="rgb(3,3,3)"/>
<rect x="1781" y="2133" width="11" height="98" fill="rgb(16,16,16)"/>
<rect x="1781" y="2231" width="11" height="9" fill="rgb(69,69,69)"/>
<rect x="1781" y="2240" width="11" height="98" fill="rgb(228,228,228)"/>
<rect x="1781" y="2338" width="11" height="97" fill="rgb(189,189,189)"/>
<rect x="1781" y="2435" width="11" height="99" fill="rgb(242,242,242)"/>
</g>
<text transform="translate(1060.86,2539) rotate(-90)" font-size="7.2" text-anchor="end" stroke="#000" stroke-width="0.18">E13_E16.5RG</text>
<text transform="translate(1071.59,2539) rotate(-90)" font-size="7.2" text-anchor="end" stroke="#000" stroke-width="0.18">E17_E18.5RG</text>
<text transform="translate(1082.31,2539) rotate(-90)" font-size="7.2" text-anchor="end" stroke="#000" stroke-width="0.18">P0_P3RG</text>
<text transform="translate(1093.03,2539) rotate(-90)" font-size="7.2" text-anchor="end" stroke="#000" stroke-width="0.18">E13_E16.5IP nonIT</text>
<text transform="translate(1103.76,2539) rotate(-90)" font-size="7.2" text-anchor="end" stroke="#000" stroke-width="0.18">E17_E18.5IP nonIT</text>
<text transform="translate(1114.48,2539) rotate(-90)" font-size="7.2" text-anchor="end" stroke="#000" stroke-width="0.18">P0_P3IP nonIT</text>
<text transform="translate(1125.20,2539) rotate(-90)" font-size="7.2" text-anchor="end" stroke="#000" stroke-width="0.18">P4_P6IP nonIT</text>
<text transform="translate(1135.93,2539) rotate(-90)" font-size="7.2" text-anchor="end" stroke="#000" stroke-width="0.18">E13_E16.5IP IT</text>
<text transform="translate(1146.65,2539) rotate(-90)" font-size="7.2" text-anchor="end" stroke="#000" stroke-width="0.18">E17_E18.5IP IT</text>
<text transform="translate(1157.37,2539) rotate(-90)" font-size="7.2" text-anchor="end" stroke="#000" stroke-width="0.18">P0_P3IP IT</text>
<text transform="translate(1168.10,2539) rotate(-90)" font-size="7.2" text-anchor="end" stroke="#000" stroke-width="0.18">P4_P6IP IT</text>
<text transform="translate(1178.82,2539) rotate(-90)" font-size="7.2" text-anchor="end" stroke="#000" stroke-width="0.18">E13_E16.5Glioblast</text>
<text transform="translate(1189.54,2539) rotate(-90)" font-size="7.2" text-anchor="end" stroke="#000" stroke-width="0.18">E17_E18.5Glioblast</text>
<text transform="translate(1200.27,2539) rotate(-90)" font-size="7.2" text-anchor="end" stroke="#000" stroke-width="0.18">P0_P3Glioblast</text>
<text transform="translate(1210.99,2539) rotate(-90)" font-size="7.2" text-anchor="end" stroke="#000" stroke-width="0.18">P4_P6Glioblast</text>
<text transform="translate(1221.71,2539) rotate(-90)" font-size="7.2" text-anchor="end" stroke="#000" stroke-width="0.18">P7_P10Glioblast</text>
<text transform="translate(1232.44,2539) rotate(-90)" font-size="7.2" text-anchor="end" stroke="#000" stroke-width="0.18">P11_P15Glioblast</text>
<text transform="translate(1243.16,2539) rotate(-90)" font-size="7.2" text-anchor="end" stroke="#000" stroke-width="0.18">P54_P68Glioblast</text>
<text transform="translate(1253.89,2539) rotate(-90)" font-size="7.2" text-anchor="end" stroke="#000" stroke-width="0.18">E13_E16.5OPC NN</text>
<text transform="translate(1264.61,2539) rotate(-90)" font-size="7.2" text-anchor="end" stroke="#000" stroke-width="0.18">E17_E18.5OPC NN</text>
<text transform="translate(1275.33,2539) rotate(-90)" font-size="7.2" text-anchor="end" stroke="#000" stroke-width="0.18">P0_P3OPC NN</text>
<text transform="translate(1286.06,2539) rotate(-90)" font-size="7.2" text-anchor="end" stroke="#000" stroke-width="0.18">P4_P6OPC NN</text>
<text transform="translate(1296.78,2539) rotate(-90)" font-size="7.2" text-anchor="end" stroke="#000" stroke-width="0.18">P7_P10OPC NN</text>
<text transform="translate(1307.50,2539) rotate(-90)" font-size="7.2" text-anchor="end" stroke="#000" stroke-width="0.18">P11_P15OPC NN</text>
<text transform="translate(1318.23,2539) rotate(-90)" font-size="7.2" text-anchor="end" stroke="#000" stroke-width="0.18">P54_P68OPC NN</text>
<text transform="translate(1328.95,2539) rotate(-90)" font-size="7.2" text-anchor="end" stroke="#000" stroke-width="0.18">P4_P6Oligo NN</text>
<text transform="translate(1339.67,2539) rotate(-90)" font-size="7.2" text-anchor="end" stroke="#000" stroke-width="0.18">P11_P15Oligo NN</text>
<text transform="translate(1350.40,2539) rotate(-90)" font-size="7.2" text-anchor="end" stroke="#000" stroke-width="0.18">P54_P68Oligo NN</text>
<text transform="translate(1361.12,2539) rotate(-90)" font-size="7.2" text-anchor="end" stroke="#000" stroke-width="0.18">E17_E18.5Astro−TE NN</text>
<text transform="translate(1371.84,2539) rotate(-90)" font-size="7.2" text-anchor="end" stroke="#000" stroke-width="0.18">P0_P3Astro−TE NN</text>
<text transform="translate(1382.57,2539) rotate(-90)" font-size="7.2" text-anchor="end" stroke="#000" stroke-width="0.18">P4_P6Astro−TE NN</text>
<text transform="translate(1393.29,2539) rotate(-90)" font-size="7.2" text-anchor="end" stroke="#000" stroke-width="0.18">P7_P10Astro−TE NN</text>
<text transform="translate(1404.01,2539) rotate(-90)" font-size="7.2" text-anchor="end" stroke="#000" stroke-width="0.18">P11_P15Astro−TE NN</text>
<text transform="translate(1414.74,2539) rotate(-90)" font-size="7.2" text-anchor="end" stroke="#000" stroke-width="0.18">P54_P68Astro−TE NN</text>
<text transform="translate(1435.85,2539) rotate(-90)" font-size="7.2" text-anchor="end" stroke="#000" stroke-width="0.18">E13_E16.5RG</text>
<text transform="translate(1446.55,2539) rotate(-90)" font-size="7.2" text-anchor="end" stroke="#000" stroke-width="0.18">E17_E18.5RG</text>
<text transform="translate(1457.24,2539) rotate(-90)" font-size="7.2" text-anchor="end" stroke="#000" stroke-width="0.18">P0_P3RG</text>
<text transform="translate(1467.94,2539) rotate(-90)" font-size="7.2" text-anchor="end" stroke="#000" stroke-width="0.18">E13_E16.5IP nonIT</text>
<text transform="translate(1478.64,2539) rotate(-90)" font-size="7.2" text-anchor="end" stroke="#000" stroke-width="0.18">E17_E18.5IP nonIT</text>
<text transform="translate(1489.33,2539) rotate(-90)" font-size="7.2" text-anchor="end" stroke="#000" stroke-width="0.18">P0_P3IP nonIT</text>
<text transform="translate(1500.03,2539) rotate(-90)" font-size="7.2" text-anchor="end" stroke="#000" stroke-width="0.18">P4_P6IP nonIT</text>
<text transform="translate(1510.73,2539) rotate(-90)" font-size="7.2" text-anchor="end" stroke="#000" stroke-width="0.18">E13_E16.5IP IT</text>
<text transform="translate(1521.42,2539) rotate(-90)" font-size="7.2" text-anchor="end" stroke="#000" stroke-width="0.18">E17_E18.5IP IT</text>
<text transform="translate(1532.12,2539) rotate(-90)" font-size="7.2" text-anchor="end" stroke="#000" stroke-width="0.18">P0_P3IP IT</text>
<text transform="translate(1542.82,2539) rotate(-90)" font-size="7.2" text-anchor="end" stroke="#000" stroke-width="0.18">P4_P6IP IT</text>
<text transform="translate(1553.52,2539) rotate(-90)" font-size="7.2" text-anchor="end" stroke="#000" stroke-width="0.18">E13_E16.5Glioblast</text>
<text transform="translate(1564.21,2539) rotate(-90)" font-size="7.2" text-anchor="end" stroke="#000" stroke-width="0.18">E17_E18.5Glioblast</text>
<text transform="translate(1574.91,2539) rotate(-90)" font-size="7.2" text-anchor="end" stroke="#000" stroke-width="0.18">P0_P3Glioblast</text>
<text transform="translate(1585.61,2539) rotate(-90)" font-size="7.2" text-anchor="end" stroke="#000" stroke-width="0.18">P4_P6Glioblast</text>
<text transform="translate(1596.30,2539) rotate(-90)" font-size="7.2" text-anchor="end" stroke="#000" stroke-width="0.18">P7_P10Glioblast</text>
<text transform="translate(1607.00,2539) rotate(-90)" font-size="7.2" text-anchor="end" stroke="#000" stroke-width="0.18">P11_P15Glioblast</text>
<text transform="translate(1617.70,2539) rotate(-90)" font-size="7.2" text-anchor="end" stroke="#000" stroke-width="0.18">P54_P68Glioblast</text>
<text transform="translate(1628.40,2539) rotate(-90)" font-size="7.2" text-anchor="end" stroke="#000" stroke-width="0.18">E13_E16.5OPC NN</text>
<text transform="translate(1639.09,2539) rotate(-90)" font-size="7.2" text-anchor="end" stroke="#000" stroke-width="0.18">E17_E18.5OPC NN</text>
<text transform="translate(1649.79,2539) rotate(-90)" font-size="7.2" text-anchor="end" stroke="#000" stroke-width="0.18">P0_P3OPC NN</text>
<text transform="translate(1660.49,2539) rotate(-90)" font-size="7.2" text-anchor="end" stroke="#000" stroke-width="0.18">P4_P6OPC NN</text>
<text transform="translate(1671.18,2539) rotate(-90)" font-size="7.2" text-anchor="end" stroke="#000" stroke-width="0.18">P7_P10OPC NN</text>
<text transform="translate(1681.88,2539) rotate(-90)" font-size="7.2" text-anchor="end" stroke="#000" stroke-width="0.18">P11_P15OPC NN</text>
<text transform="translate(1692.58,2539) rotate(-90)" font-size="7.2" text-anchor="end" stroke="#000" stroke-width="0.18">P54_P68OPC NN</text>
<text transform="translate(1703.28,2539) rotate(-90)" font-size="7.2" text-anchor="end" stroke="#000" stroke-width="0.18">P4_P6Oligo NN</text>
<text transform="translate(1713.97,2539) rotate(-90)" font-size="7.2" text-anchor="end" stroke="#000" stroke-width="0.18">P11_P15Oligo NN</text>
<text transform="translate(1724.67,2539) rotate(-90)" font-size="7.2" text-anchor="end" stroke="#000" stroke-width="0.18">P54_P68Oligo NN</text>
<text transform="translate(1735.37,2539) rotate(-90)" font-size="7.2" text-anchor="end" stroke="#000" stroke-width="0.18">E17_E18.5Astro−TE NN</text>
<text transform="translate(1746.06,2539) rotate(-90)" font-size="7.2" text-anchor="end" stroke="#000" stroke-width="0.18">P0_P3Astro−TE NN</text>
<text transform="translate(1756.76,2539) rotate(-90)" font-size="7.2" text-anchor="end" stroke="#000" stroke-width="0.18">P4_P6Astro−TE NN</text>
<text transform="translate(1767.46,2539) rotate(-90)" font-size="7.2" text-anchor="end" stroke="#000" stroke-width="0.18">P7_P10Astro−TE NN</text>
<text transform="translate(1778.15,2539) rotate(-90)" font-size="7.2" text-anchor="end" stroke="#000" stroke-width="0.18">P11_P15Astro−TE NN</text>
<text transform="translate(1788.85,2539) rotate(-90)" font-size="7.2" text-anchor="end" stroke="#000" stroke-width="0.18">P54_P68Astro−TE NN</text>
<defs>
<linearGradient id="gb1" x1="0" y1="0" x2="0" y2="1"><stop offset="0" stop-color="#e8842a"/><stop offset="0.25" stop-color="#f9a41a"/><stop offset="1" stop-color="#fdb862"/></linearGradient>
<linearGradient id="gb2" x1="0" y1="0" x2="0" y2="1"><stop offset="0" stop-color="#d86a20"/><stop offset="1" stop-color="#fbb050"/></linearGradient>
<linearGradient id="gb3" x1="0" y1="0" x2="0" y2="1"><stop offset="0" stop-color="#e8862a"/><stop offset="0.3" stop-color="#f9a418"/><stop offset="1" stop-color="#fdb862"/></linearGradient>
<linearGradient id="gb4" x1="0" y1="0" x2="0" y2="1"><stop offset="0" stop-color="#d8602a"/><stop offset="0.5" stop-color="#e88428"/><stop offset="1" stop-color="#f8a01a"/></linearGradient>
<linearGradient id="gb5" x1="0" y1="0" x2="0" y2="1"><stop offset="0" stop-color="#f9a21a"/><stop offset="1" stop-color="#f9a21a"/></linearGradient>
<linearGradient id="gb6" x1="0" y1="0" x2="0" y2="1"><stop offset="0" stop-color="#e07a22"/><stop offset="0.35" stop-color="#f9a418"/><stop offset="1" stop-color="#fdb862"/></linearGradient>
<linearGradient id="gb7" x1="0" y1="0" x2="0" y2="1"><stop offset="0" stop-color="#d86828"/><stop offset="0.45" stop-color="#f9a418"/><stop offset="1" stop-color="#fdb55e"/></linearGradient>
<linearGradient id="gb8" x1="0" y1="0" x2="0" y2="1"><stop offset="0" stop-color="#e07828"/><stop offset="0.3" stop-color="#f9a418"/><stop offset="1" stop-color="#fdb55e"/></linearGradient>
<linearGradient id="gb9" x1="0" y1="0" x2="0" y2="1"><stop offset="0" stop-color="#e07a22"/><stop offset="0.35" stop-color="#f9a418"/><stop offset="1" stop-color="#fdb862"/></linearGradient>
<linearGradient id="gb10" x1="0" y1="0" x2="0" y2="1"><stop offset="0" stop-color="#d86828"/><stop offset="0.4" stop-color="#f9a418"/><stop offset="1" stop-color="#fdb862"/></linearGradient>
<linearGradient id="gb11" x1="0" y1="0" x2="0" y2="1"><stop offset="0" stop-color="#d0582a"/><stop offset="0.25" stop-color="#f09020"/><stop offset="0.45" stop-color="#f9a418"/><stop offset="1" stop-color="#fdb862"/></linearGradient>
<linearGradient id="gb13" x1="0" y1="0" x2="0" y2="1"><stop offset="0" stop-color="#d85828"/><stop offset="0.4" stop-color="#f9a418"/><stop offset="1" stop-color="#fdb862"/></linearGradient>
<linearGradient id="gb14" x1="0" y1="0" x2="0" y2="1"><stop offset="0" stop-color="#cc5528"/><stop offset="0.6" stop-color="#e07a28"/><stop offset="1" stop-color="#e88428"/></linearGradient>
<linearGradient id="gb17" x1="0" y1="0" x2="0" y2="1"><stop offset="0" stop-color="#d86020"/><stop offset="0.3" stop-color="#f9a418"/><stop offset="1" stop-color="#fdb862"/></linearGradient>
<linearGradient id="gb18" x1="0" y1="0" x2="0" y2="1"><stop offset="0" stop-color="#d86828"/><stop offset="1" stop-color="#e88028"/></linearGradient>
<linearGradient id="gb19" x1="0" y1="0" x2="0" y2="1"><stop offset="0" stop-color="#e07020"/><stop offset="0.4" stop-color="#f9a418"/><stop offset="1" stop-color="#fdb862"/></linearGradient>
<linearGradient id="gb21" x1="0" y1="0" x2="0" y2="1"><stop offset="0" stop-color="#d86028"/><stop offset="1" stop-color="#f09020"/></linearGradient>
<linearGradient id="gc1" x1="0" y1="0" x2="0" y2="1"><stop offset="0" stop-color="#cc5a28"/><stop offset="0.5" stop-color="#e88428"/><stop offset="1" stop-color="#f9a418"/></linearGradient>
<linearGradient id="gc2" x1="0" y1="0" x2="0" y2="1"><stop offset="0" stop-color="#d86020"/><stop offset="0.45" stop-color="#f9a418"/><stop offset="1" stop-color="#fdb862"/></linearGradient>
<linearGradient id="gc3" x1="0" y1="0" x2="0" y2="1"><stop offset="0" stop-color="#f09020"/><stop offset="0.4" stop-color="#fbb050"/><stop offset="1" stop-color="#fdb862"/></linearGradient>
<linearGradient id="gc4" x1="0" y1="0" x2="0" y2="1"><stop offset="0" stop-color="#c8402c"/><stop offset="1" stop-color="#d8602a"/></linearGradient>
<linearGradient id="gc5" x1="0" y1="0" x2="0" y2="1"><stop offset="0" stop-color="#c8402c"/><stop offset="0.5" stop-color="#e07a22"/><stop offset="1" stop-color="#f9a418"/></linearGradient>
<linearGradient id="gc6" x1="0" y1="0" x2="0" y2="1"><stop offset="0" stop-color="#d05a28"/><stop offset="0.5" stop-color="#f09020"/><stop offset="1" stop-color="#f9a418"/></linearGradient>
<linearGradient id="gc8" x1="0" y1="0" x2="0" y2="1"><stop offset="0" stop-color="#fca040"/><stop offset="1" stop-color="#fca040"/></linearGradient>
<linearGradient id="gc9" x1="0" y1="0" x2="0" y2="1"><stop offset="0" stop-color="#c8402c"/><stop offset="1" stop-color="#d65a28"/></linearGradient>
<linearGradient id="gc10" x1="0" y1="0" x2="0" y2="1"><stop offset="0" stop-color="#d05a28"/><stop offset="0.5" stop-color="#f9a418"/><stop offset="1" stop-color="#fdb862"/></linearGradient>
<linearGradient id="gc12" x1="0" y1="0" x2="0" y2="1"><stop offset="0" stop-color="#c8402c"/><stop offset="1" stop-color="#e07a28"/></linearGradient>
<linearGradient id="gc13" x1="0" y1="0" x2="0" y2="1"><stop offset="0" stop-color="#c0382c"/><stop offset="1" stop-color="#cc4a2a"/></linearGradient>
<linearGradient id="gc14" x1="0" y1="0" x2="0" y2="1"><stop offset="0" stop-color="#c8442a"/><stop offset="1" stop-color="#e06a28"/></linearGradient>
<linearGradient id="gc15" x1="0" y1="0" x2="0" y2="1"><stop offset="0" stop-color="#c8442a"/><stop offset="0.5" stop-color="#e07a28"/><stop offset="1" stop-color="#f29a1c"/></linearGradient>
<linearGradient id="gc16" x1="0" y1="0" x2="0" y2="1"><stop offset="0" stop-color="#e88020"/><stop offset="1" stop-color="#fdb862"/></linearGradient>
<linearGradient id="gc17" x1="0" y1="0" x2="0" y2="1"><stop offset="0" stop-color="#d05a28"/><stop offset="1" stop-color="#e07028"/></linearGradient>
<linearGradient id="gc18" x1="0" y1="0" x2="0" y2="1"><stop offset="0" stop-color="#e07028"/><stop offset="1" stop-color="#f9a01c"/></linearGradient>
<linearGradient id="gc19" x1="0" y1="0" x2="0" y2="1"><stop offset="0" stop-color="#c8442a"/><stop offset="1" stop-color="#d65a28"/></linearGradient>
</defs>
<rect x="46.3" y="1184.6" width="25.6" height="45.6" fill="url(#gb1)"/>
<rect x="76.3" y="1184.6" width="10.5" height="45.6" fill="#fb9393"/>
<rect x="46.3" y="1229.8" width="25.6" height="12.6" fill="url(#gb2)"/>
<rect x="76.3" y="1229.8" width="10.5" height="12.6" fill="#cc8160"/>
<rect x="46.3" y="1242" width="25.6" height="60.4" fill="url(#gb3)"/>
<rect x="76.3" y="1242" width="10.5" height="60.4" fill="#a07a35"/>
<rect x="46.3" y="1302" width="25.6" height="140.2" fill="url(#gb4)"/>
<rect x="76.3" y="1302" width="10.5" height="140.2" fill="#6b6a1a"/>
<rect x="46.3" y="1441.8" width="25.6" height="2.4" fill="url(#gb5)"/>
<rect x="76.3" y="1441.8" width="10.5" height="2.4" fill="#99ff14"/>
<rect x="46.3" y="1443.8" width="25.6" height="37.6" fill="url(#gb6)"/>
<rect x="76.3" y="1443.8" width="10.5" height="37.6" fill="#8dca7a"/>
<rect x="46.3" y="1481" width="25.6" height="140.0" fill="url(#gb7)"/>
<rect x="76.3" y="1481" width="10.5" height="140.0" fill="#46994f"/>
<rect x="46.3" y="1620.6" width="25.6" height="96.9" fill="url(#gb8)"/>
<rect x="76.3" y="1620.6" width="10.5" height="96.9" fill="#1f6b47"/>
<rect x="46.3" y="1717.1" width="25.6" height="57.2" fill="url(#gb9)"/>
<rect x="76.3" y="1717.1" width="10.5" height="57.2" fill="#30fde0"/>
<rect x="46.3" y="1773.9" width="25.6" height="34.5" fill="url(#gb10)"/>
<rect x="76.3" y="1773.9" width="10.5" height="34.5" fill="#0eaad2"/>
<rect x="46.3" y="1808" width="25.6" height="140.9" fill="url(#gb11)"/>
<rect x="76.3" y="1808" width="10.5" height="140.9" fill="#5f7d9e"/>
<rect x="46.3" y="1948.5" width="25.6" height="63.5" fill="url(#gb13)"/>
<rect x="76.3" y="1948.5" width="10.5" height="63.5" fill="#30366a"/>
<rect x="46.3" y="2011.6" width="25.6" height="140.6" fill="url(#gb14)"/>
<rect x="76.3" y="2011.6" width="10.5" height="140.6" fill="#7b50ff"/>
<rect x="46.3" y="2151.8" width="25.6" height="62.0" fill="url(#gb17)"/>
<rect x="76.3" y="2151.8" width="10.5" height="62.0" fill="#8e2bd6"/>
<rect x="46.3" y="2213.4" width="25.6" height="140.0" fill="url(#gb18)"/>
<rect x="76.3" y="2213.4" width="10.5" height="140.0" fill="#920097"/>
<rect x="46.3" y="2353" width="25.6" height="32.2" fill="url(#gb19)"/>
<rect x="76.3" y="2353" width="10.5" height="32.2" fill="#6c3d5c"/>
<rect x="46.3" y="2384.8" width="25.6" height="141.2" fill="url(#gb21)"/>
<rect x="76.3" y="2384.8" width="10.5" height="141.2" fill="#ff77a8"/>
<rect x="1001.2" y="1185.2" width="26.0" height="98.0" fill="url(#gc1)"/>
<rect x="1032" y="1185.2" width="10.8" height="98.0" fill="#fb9393"/>
<rect x="1001.2" y="1282.8" width="26.0" height="64.4" fill="url(#gc2)"/>
<rect x="1032" y="1282.8" width="10.8" height="64.4" fill="#cc8160"/>
<rect x="1001.2" y="1346.8" width="26.0" height="45.6" fill="url(#gc3)"/>
<rect x="1032" y="1346.8" width="10.8" height="45.6" fill="#a07a35"/>
<rect x="1001.2" y="1392" width="26.0" height="98.4" fill="url(#gc4)"/>
<rect x="1032" y="1392" width="10.8" height="98.4" fill="#6b6a1a"/>
<rect x="1001.2" y="1490" width="26.0" height="98.3" fill="url(#gc5)"/>
<rect x="1032" y="1490" width="10.8" height="98.3" fill="#99ff14"/>
<rect x="1001.2" y="1587.9" width="26.0" height="94.9" fill="url(#gc6)"/>
<rect x="1032" y="1587.9" width="10.8" height="94.9" fill="#8dca7a"/>
<rect x="1001.2" y="1682.4" width="26.0" height="3.5" fill="url(#gc8)"/>
<rect x="1032" y="1682.4" width="10.8" height="3.5" fill="#46994f"/>
<rect x="1001.2" y="1685.5" width="26.0" height="101.2" fill="url(#gc9)"/>
<rect x="1032" y="1685.5" width="10.8" height="101.2" fill="#1f6b47"/>
<rect x="1001.2" y="1786.3" width="26.0" height="53.9" fill="url(#gc10)"/>
<rect x="1032" y="1786.3" width="10.8" height="53.9" fill="#30fde0"/>
<rect x="1001.2" y="1839.8" width="26.0" height="98.2" fill="url(#gc12)"/>
<rect x="1032" y="1839.8" width="10.8" height="98.2" fill="#0eaad2"/>
<rect x="1001.2" y="1937.6" width="26.0" height="98.2" fill="url(#gc13)"/>
<rect x="1032" y="1937.6" width="10.8" height="98.2" fill="#5f7d9e"/>
<rect x="1001.2" y="2035.4" width="26.0" height="97.9" fill="url(#gc14)"/>
<rect x="1032" y="2035.4" width="10.8" height="97.9" fill="#30366a"/>
<rect x="1001.2" y="2132.9" width="26.0" height="98.5" fill="url(#gc15)"/>
<rect x="1032" y="2132.9" width="10.8" height="98.5" fill="#7b50ff"/>
<rect x="1001.2" y="2231" width="26.0" height="9.3" fill="url(#gc16)"/>
<rect x="1032" y="2231" width="10.8" height="9.3" fill="#8e2bd6"/>
<rect x="1001.2" y="2239.9" width="26.0" height="98.3" fill="url(#gc17)"/>
<rect x="1032" y="2239.9" width="10.8" height="98.3" fill="#920097"/>
<rect x="1001.2" y="2337.8" width="26.0" height="98.0" fill="url(#gc18)"/>
<rect x="1032" y="2337.8" width="10.8" height="98.0" fill="#6c3d5c"/>
<rect x="1001.2" y="2435.4" width="26.0" height="98.6" fill="url(#gc19)"/>
<rect x="1032" y="2435.4" width="10.8" height="98.6" fill="#ff77a8"/>
<text transform="translate(63.2,2528) rotate(-90)" font-size="21.5" text-anchor="end">Peak.gene.cor</text>
<text transform="translate(89.6,2528.8) rotate(-90)" font-size="21.5" text-anchor="end">Peak module</text>
<text transform="translate(1018,2536) rotate(-90)" font-size="21.5" text-anchor="end">Peak.gene.cor</text>
<text transform="translate(1045.7,2537) rotate(-90)" font-size="21.5" text-anchor="end">Peak module</text>
<text x="840.7" y="1196" font-size="15.5" font-style="italic" fill="#000">Sox11</text>
<text x="840.7" y="1234.8" font-size="15.5" font-style="italic" fill="#000">Sp8</text>
<text x="840.7" y="1316.3" font-size="15.5" font-style="italic" fill="#000">Lamp5</text>
<text x="840.7" y="1447.4" font-size="15.5" font-style="italic" fill="#000">Cxcl14</text>
<text x="840.7" y="1500.7" font-size="15.5" font-style="italic" fill="#000">Sncg</text>
<text x="840.7" y="1625.8" font-size="15.5" font-style="italic" fill="#000">Rgs12</text>
<text x="840.7" y="1720.2" font-size="15.5" font-style="italic" fill="#000">Prox1</text>
<text x="840.7" y="1776.8" font-size="15.5" font-style="italic" fill="#000">Fbln2</text>
<text x="840.7" y="1811.1" font-size="15.5" font-style="italic" fill="#000">Vip</text>
<text x="840.7" y="1950.2" font-size="15.5" font-style="italic" fill="#000">Lhx6</text>
<text x="840.7" y="2014.5" font-size="15.5" font-style="italic" fill="#000">Pvalb</text>
<text x="840.7" y="2215.2" font-size="15.5" font-style="italic" fill="#000">Oprd1</text>
<text x="840.7" y="2265.4" font-size="15.5" font-style="italic" fill="#000">Itpr1</text>
<text x="840.7" y="2354.5" font-size="15.5" font-style="italic" fill="#000">Satb1</text>
<text x="840.7" y="2395.7" font-size="15.5" font-style="italic" fill="#000">Sst</text>
<text x="1797.5" y="1190.8" font-size="15.5" font-style="italic" fill="#000">Tnc</text>
<text x="1797.5" y="1203.5" font-size="15.5" font-style="italic" fill="#000">Fbln2</text>
<text x="1797.5" y="1229.4" font-size="15.5" font-style="italic" fill="#000">Notch1</text>
<text x="1797.5" y="1290" font-size="15.5" font-style="italic" fill="#000">Hist1h1b</text>
<text x="1797.5" y="1405.2" font-size="15.5" font-style="italic" fill="#000">Eomes</text>
<text x="1797.5" y="1497" font-size="15.5" font-style="italic" fill="#000">Islr2</text>
<text x="1797.5" y="1597.7" font-size="15.5" font-style="italic" fill="#000">Lhx2</text>
<text x="1797.5" y="1697.7" font-size="15.5" font-style="italic" fill="#000">Pdgfra</text>
<text x="1797.5" y="1751" font-size="15.5" font-style="italic" fill="#000">Myt1</text>
<text x="1797.5" y="1796.1" font-size="15.5" font-style="italic" fill="#000">Smoc1</text>
<text x="1797.5" y="1846.5" font-size="15.5" font-style="italic" fill="#000">Bcas1os2</text>
<text x="1797.5" y="1871.6" font-size="15.5" font-style="italic" fill="#000">Neu4</text>
<text x="1797.5" y="1946.2" font-size="15.5" font-style="italic" fill="#000">Nkx6−2</text>
<text x="1797.5" y="2042.4" font-size="15.5" font-style="italic" fill="#000">Cldn11</text>
<text x="1797.5" y="2053.7" font-size="15.5" font-style="italic" fill="#000">Mbp</text>
<text x="1797.5" y="2144.8" font-size="15.5" font-style="italic" fill="#000">Sox10</text>
<text x="1797.5" y="2354.7" font-size="15.5" font-style="italic" fill="#000">Sox9</text>
<text x="1797.5" y="2450.2" font-size="15.5" font-style="italic" fill="#000">Aqp4</text>
<text x="182.1" y="2652.3" font-size="17.6" fill="#000">Peak</text>
<text x="182.1" y="2670.0" font-size="17.6" fill="#000">module</text>
<rect x="258.1" y="2648.5" width="22.2" height="22.4" fill="#fb9393"/>
<text x="269.2" y="2641" font-size="16.5" text-anchor="middle" fill="#000">1</text>
<rect x="282.1" y="2648.5" width="22.2" height="22.4" fill="#cc8160"/>
<text x="293.2" y="2641" font-size="16.5" text-anchor="middle" fill="#000">2</text>
<rect x="306.2" y="2648.5" width="22.2" height="22.4" fill="#a07a35"/>
<text x="317.3" y="2641" font-size="16.5" text-anchor="middle" fill="#000">3</text>
<rect x="330.2" y="2648.5" width="22.2" height="22.4" fill="#6b6a1a"/>
<text x="341.3" y="2641" font-size="16.5" text-anchor="middle" fill="#000">4</text>
<rect x="354.3" y="2648.5" width="22.2" height="22.4" fill="#99ff14"/>
<text x="365.4" y="2641" font-size="16.5" text-anchor="middle" fill="#000">5</text>
<rect x="378.3" y="2648.5" width="22.2" height="22.4" fill="#8dca7a"/>
<text x="389.4" y="2641" font-size="16.5" text-anchor="middle" fill="#000">6</text>
<rect x="402.3" y="2648.5" width="22.2" height="22.4" fill="#46994f"/>
<text x="413.4" y="2641" font-size="16.5" text-anchor="middle" fill="#000">7</text>
<rect x="426.4" y="2648.5" width="22.2" height="22.4" fill="#1f6b47"/>
<text x="437.5" y="2641" font-size="16.5" text-anchor="middle" fill="#000">8</text>
<rect x="450.4" y="2648.5" width="22.2" height="22.4" fill="#30fde0"/>
<text x="461.5" y="2641" font-size="16.5" text-anchor="middle" fill="#000">9</text>
<rect x="474.5" y="2648.5" width="22.2" height="22.4" fill="#0eaad2"/>
<text x="485.6" y="2641" font-size="16.5" text-anchor="middle" fill="#000">10</text>
<rect x="498.5" y="2648.5" width="22.2" height="22.4" fill="#5f7d9e"/>
<text x="509.6" y="2641" font-size="16.5" text-anchor="middle" fill="#000">11</text>
<rect x="522.5" y="2648.5" width="22.2" height="22.4" fill="#30366a"/>
<text x="533.6" y="2641" font-size="16.5" text-anchor="middle" fill="#000">13</text>
<rect x="546.6" y="2648.5" width="22.2" height="22.4" fill="#7b50ff"/>
<text x="557.7" y="2641" font-size="16.5" text-anchor="middle" fill="#000">14</text>
<rect x="570.6" y="2648.5" width="22.2" height="22.4" fill="#8e2bd6"/>
<text x="581.7" y="2641" font-size="16.5" text-anchor="middle" fill="#000">17</text>
<rect x="594.7" y="2648.5" width="22.2" height="22.4" fill="#920097"/>
<text x="605.8" y="2641" font-size="16.5" text-anchor="middle" fill="#000">18</text>
<rect x="618.7" y="2648.5" width="22.2" height="22.4" fill="#6c3d5c"/>
<text x="629.8" y="2641" font-size="16.5" text-anchor="middle" fill="#000">19</text>
<rect x="642.7" y="2648.5" width="22.2" height="22.4" fill="#ff77a8"/>
<text x="653.8" y="2641" font-size="16.5" text-anchor="middle" fill="#000">21</text>
<text x="1186.5" y="2656.2" font-size="17.6" fill="#000">Peak</text>
<text x="1186.5" y="2673.8999999999996" font-size="17.6" fill="#000">module</text>
<rect x="1262.4" y="2653.6" width="19" height="18.8" fill="#fb9393"/>
<text x="1271.9" y="2647.5" font-size="16.5" text-anchor="middle" fill="#000">1</text>
<rect x="1283.0" y="2653.6" width="19" height="18.8" fill="#cc8160"/>
<text x="1292.5" y="2647.5" font-size="16.5" text-anchor="middle" fill="#000">2</text>
<rect x="1303.5" y="2653.6" width="19" height="18.8" fill="#a07a35"/>
<text x="1313.0" y="2647.5" font-size="16.5" text-anchor="middle" fill="#000">3</text>
<rect x="1324.1" y="2653.6" width="19" height="18.8" fill="#6b6a1a"/>
<text x="1333.6" y="2647.5" font-size="16.5" text-anchor="middle" fill="#000">4</text>
<rect x="1344.6" y="2653.6" width="19" height="18.8" fill="#99ff14"/>
<text x="1354.1" y="2647.5" font-size="16.5" text-anchor="middle" fill="#000">5</text>
<rect x="1365.2" y="2653.6" width="19" height="18.8" fill="#8dca7a"/>
<text x="1374.7" y="2647.5" font-size="16.5" text-anchor="middle" fill="#000">6</text>
<rect x="1385.7" y="2653.6" width="19" height="18.8" fill="#46994f"/>
<text x="1395.2" y="2647.5" font-size="16.5" text-anchor="middle" fill="#000">8</text>
<rect x="1406.2" y="2653.6" width="19" height="18.8" fill="#1f6b47"/>
<text x="1415.8" y="2647.5" font-size="16.5" text-anchor="middle" fill="#000">9</text>
<rect x="1426.8" y="2653.6" width="19" height="18.8" fill="#30fde0"/>
<text x="1436.3" y="2647.5" font-size="16.5" text-anchor="middle" fill="#000">10</text>
<rect x="1447.4" y="2653.6" width="19" height="18.8" fill="#0eaad2"/>
<text x="1456.9" y="2647.5" font-size="16.5" text-anchor="middle" fill="#000">12</text>
<rect x="1467.9" y="2653.6" width="19" height="18.8" fill="#5f7d9e"/>
<text x="1477.4" y="2647.5" font-size="16.5" text-anchor="middle" fill="#000">13</text>
<rect x="1488.5" y="2653.6" width="19" height="18.8" fill="#30366a"/>
<text x="1498.0" y="2647.5" font-size="16.5" text-anchor="middle" fill="#000">14</text>
<rect x="1509.0" y="2653.6" width="19" height="18.8" fill="#7b50ff"/>
<text x="1518.5" y="2647.5" font-size="16.5" text-anchor="middle" fill="#000">15</text>
<rect x="1529.6" y="2653.6" width="19" height="18.8" fill="#8e2bd6"/>
<text x="1539.1" y="2647.5" font-size="16.5" text-anchor="middle" fill="#000">16</text>
<rect x="1550.1" y="2653.6" width="19" height="18.8" fill="#920097"/>
<text x="1559.6" y="2647.5" font-size="16.5" text-anchor="middle" fill="#000">17</text>
<rect x="1570.7" y="2653.6" width="19" height="18.8" fill="#6c3d5c"/>
<text x="1580.2" y="2647.5" font-size="16.5" text-anchor="middle" fill="#000">18</text>
<rect x="1591.2" y="2653.6" width="19" height="18.8" fill="#ff77a8"/>
<text x="1600.7" y="2647.5" font-size="16.5" text-anchor="middle" fill="#000">19</text>
</svg>
</body></html>
